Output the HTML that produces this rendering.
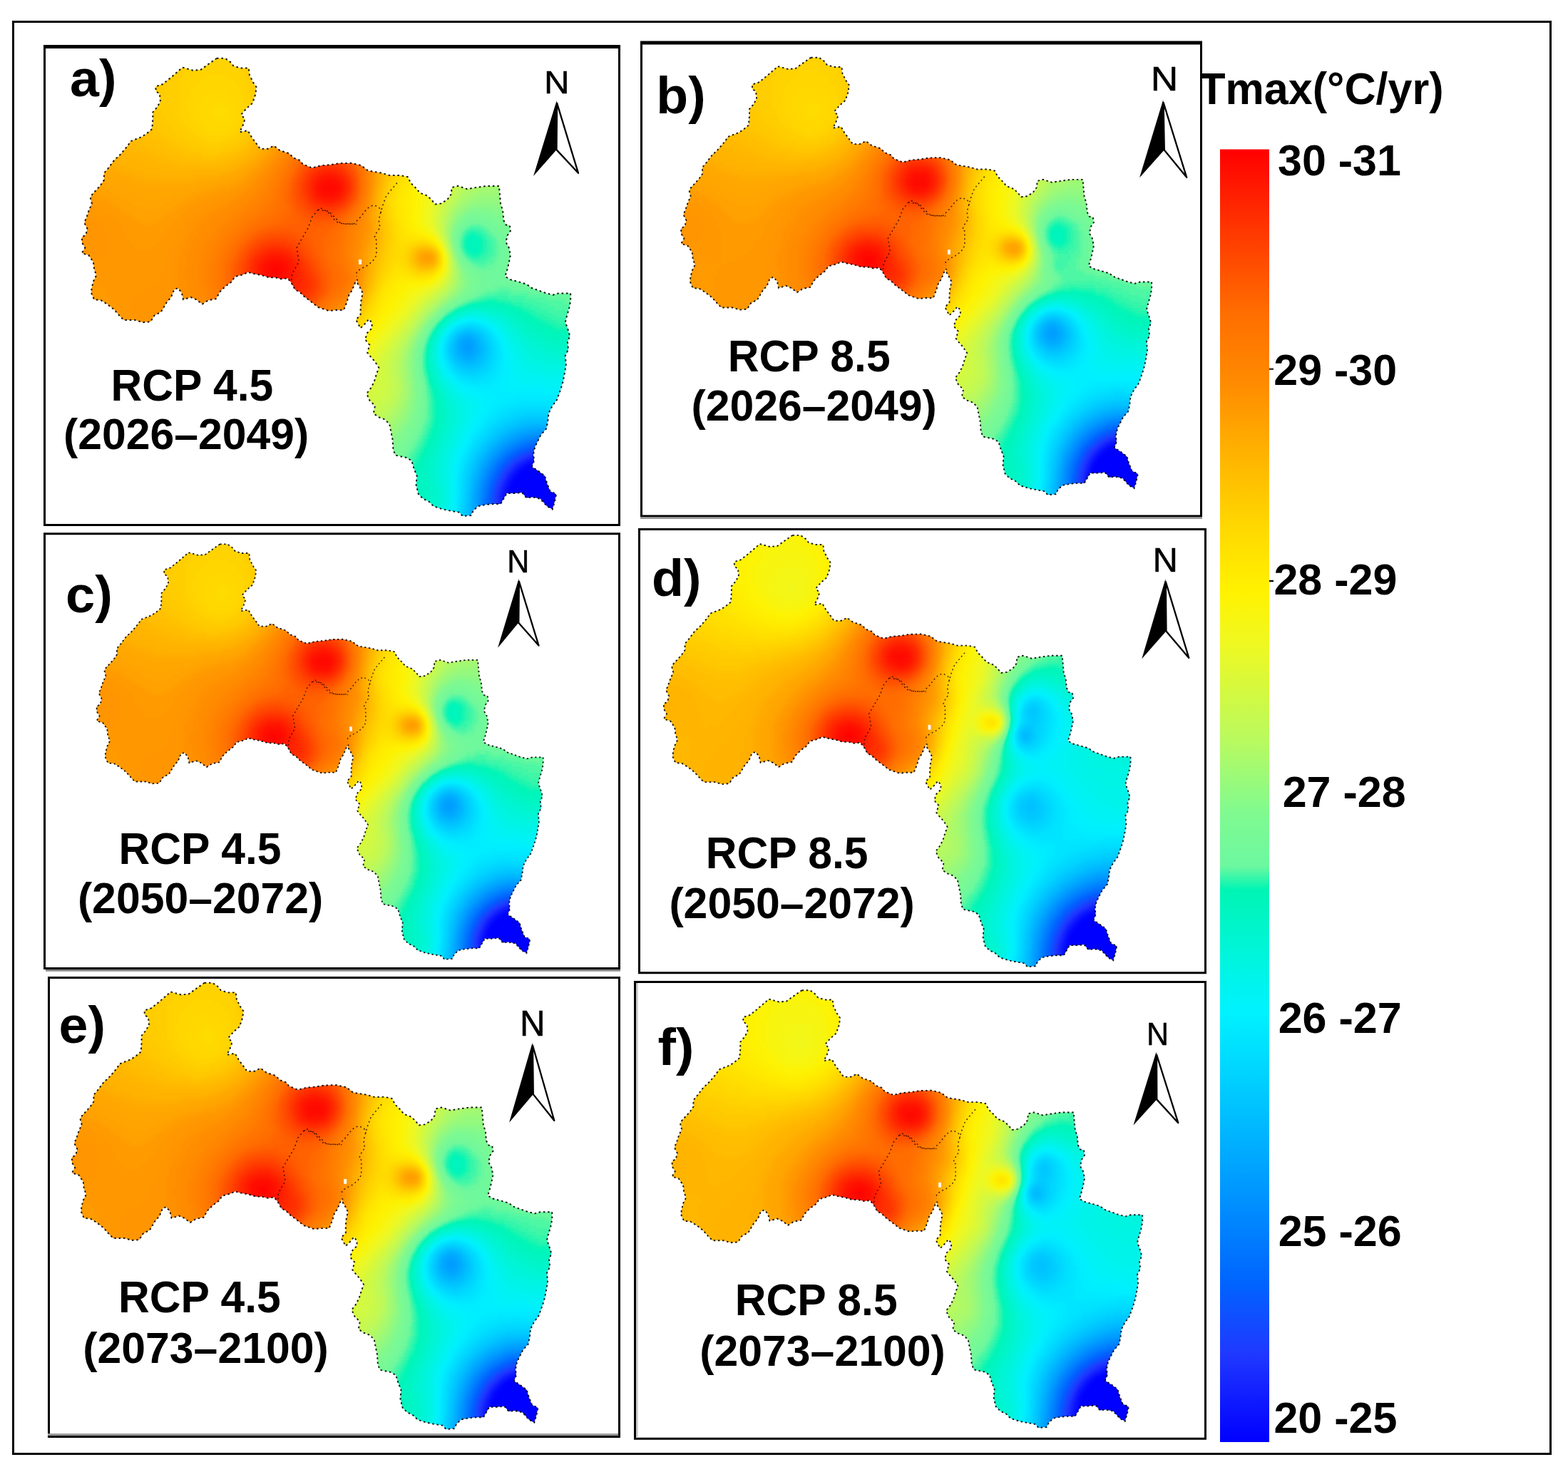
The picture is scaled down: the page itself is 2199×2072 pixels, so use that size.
<!DOCTYPE html>
<html lang="en">
<head>
<meta charset="utf-8">
<title>Tmax projections RCP 4.5 / RCP 8.5</title>
<style>
html,body{margin:0;padding:0;background:#fff;}
body{width:2199px;height:2072px;overflow:hidden;}
svg{display:block;font-family:'Liberation Sans', Arial, Helvetica, sans-serif;}
</style>
</head>
<body>
<svg xmlns="http://www.w3.org/2000/svg" width="2199" height="2072" viewBox="0 0 2199 2072">
<defs>
<clipPath id="mapclip"><path d="M304.0 81.7 L315.7 81.7 L323.2 87.1 L327.4 92.4 L337.1 95.6 L348.8 95.6 L349.9 105.2 L355.2 115.9 L359.5 122.3 L358.4 131.9 L354.1 144.7 L345.6 152.2 L338.1 160.8 L343.5 167.2 L340.3 176.8 L336.0 185.3 L347.7 183.2 L353.1 192.8 L359.5 201.3 L364.8 208.8 L375.5 208.8 L384.0 204.5 L392.6 211.0 L405.4 215.2 L411.8 221.6 L420.3 224.8 L424.6 230.2 L437.4 235.5 L450.2 232.3 L463.1 231.2 L475.9 229.1 L492.7 228.8 L506.6 232.0 L516.2 239.5 L535.4 242.7 L546.1 245.9 L561.1 245.9 L571.7 248.1 L576.0 256.6 L583.5 264.1 L588.8 270.5 L599.5 274.7 L605.9 281.2 L610.2 286.5 L618.7 285.4 L627.3 280.1 L632.6 272.6 L633.7 263.0 L642.2 260.9 L655.0 265.1 L667.8 263.0 L682.8 260.9 L699.9 260.9 L700.9 272.6 L702.0 285.4 L705.2 296.1 L706.3 308.9 L709.5 315.3 L714.8 316.4 L715.9 323.9 L711.6 330.3 L709.5 339.9 L713.7 347.4 L715.9 358.0 L713.7 368.7 L711.6 377.3 L708.4 387.9 L715.9 392.2 L727.6 395.4 L738.3 398.6 L745.8 404.0 L757.5 408.2 L766.1 411.4 L775.7 413.6 L783.2 411.4 L800.2 411.4 L800.2 422.1 L798.1 432.8 L794.9 443.5 L792.8 452.0 L796.0 460.5 L799.2 471.2 L796.0 479.8 L797.0 490.4 L792.8 499.0 L793.8 511.8 L791.7 524.6 L789.6 535.3 L786.4 546.0 L781.0 560.9 L774.6 569.5 L769.3 580.1 L769.4 580.0 L768.3 590.6 L766.2 601.3 L758.7 609.9 L754.4 618.4 L750.2 627.0 L748.0 637.6 L749.1 646.2 L745.9 654.7 L755.5 661.1 L764.0 667.5 L767.2 678.2 L771.5 688.9 L780.1 693.2 L777.9 703.8 L774.7 714.5 L767.2 710.2 L757.6 699.6 L747.0 697.4 L738.4 698.5 L732.0 691.0 L721.3 692.1 L710.6 692.1 L706.4 699.6 L702.1 707.0 L691.4 707.0 L680.7 708.1 L670.1 710.2 L663.7 716.6 L660.5 723.1 L648.7 724.1 L644.4 718.8 L631.6 716.6 L621.0 714.5 L608.1 710.2 L601.7 703.8 L593.2 699.6 L586.8 693.2 L583.6 680.3 L584.6 667.5 L580.4 656.8 L577.2 646.2 L569.7 641.9 L554.7 638.7 L551.5 631.2 L550.5 616.3 L548.3 605.6 L546.2 594.9 L539.8 588.5 L531.3 585.3 L523.8 580.0 L525.9 569.3 L518.4 561.8 L514.2 552.2 L520.6 543.7 L524.8 535.1 L528.1 524.4 L531.3 515.9 L525.9 507.4 L518.4 498.8 L515.2 494.5 L518.4 483.9 L512.0 476.4 L515.2 466.8 L521.6 460.4 L521.6 452.9 L517.4 447.6 L512.0 454.0 L505.6 460.4 L499.2 448.6 L505.6 441.2 L505.6 430.5 L506.7 419.8 L508.8 411.3 L503.5 400.6 L500.3 396.3 L501.3 392.2 L498.1 396.5 L493.8 407.2 L489.5 413.6 L486.3 424.2 L482.0 434.9 L471.4 434.9 L460.7 436.0 L446.0 430.9 L435.3 422.4 L426.7 416.0 L420.3 409.6 L413.9 406.4 L408.6 396.7 L403.3 390.3 L394.7 391.4 L386.2 389.3 L377.6 389.3 L367.0 386.1 L355.2 383.9 L347.7 381.8 L341.3 385.0 L329.6 388.2 L324.2 395.7 L315.7 402.1 L308.2 409.6 L302.9 419.2 L292.2 421.3 L283.7 426.6 L275.1 420.2 L267.6 417.0 L257.0 420.2 L254.8 410.6 L249.5 404.2 L244.2 406.4 L239.9 417.0 L233.5 424.5 L226.0 437.3 L216.4 442.7 L211.1 451.2 L200.4 452.3 L189.7 449.1 L173.7 449.1 L168.3 443.7 L159.8 434.1 L150.2 426.6 L141.6 421.3 L132.0 420.2 L127.8 410.6 L128.8 403.2 L131.0 394.6 L135.2 386.1 L132.0 377.5 L131.0 367.9 L124.6 358.3 L114.9 355.1 L119.2 347.6 L114.9 340.2 L114.9 332.7 L120.3 329.5 L122.4 320.9 L118.2 312.4 L121.4 304.9 L124.6 295.3 L128.8 285.7 L126.7 277.2 L129.9 271.8 L135.2 266.5 L141.6 259.0 L145.9 252.6 L145.9 243.0 L151.3 236.6 L160.9 223.8 L166.2 219.5 L173.7 211.0 L179.0 204.5 L183.3 198.1 L199.3 191.7 L206.8 186.4 L213.2 181.1 L214.3 168.2 L214.3 157.6 L219.6 151.2 L224.9 142.6 L223.9 131.9 L218.5 127.7 L218.5 121.3 L228.1 118.1 L238.8 109.5 L247.4 102.0 L255.9 94.6 L270.8 98.8 L281.5 97.8 L293.3 89.2 Z"/></clipPath>
<g id="mapline" fill="none" stroke="#000">
<path d="M304.0 81.7 L315.7 81.7 L323.2 87.1 L327.4 92.4 L337.1 95.6 L348.8 95.6 L349.9 105.2 L355.2 115.9 L359.5 122.3 L358.4 131.9 L354.1 144.7 L345.6 152.2 L338.1 160.8 L343.5 167.2 L340.3 176.8 L336.0 185.3 L347.7 183.2 L353.1 192.8 L359.5 201.3 L364.8 208.8 L375.5 208.8 L384.0 204.5 L392.6 211.0 L405.4 215.2 L411.8 221.6 L420.3 224.8 L424.6 230.2 L437.4 235.5 L450.2 232.3 L463.1 231.2 L475.9 229.1 L492.7 228.8 L506.6 232.0 L516.2 239.5 L535.4 242.7 L546.1 245.9 L561.1 245.9 L571.7 248.1 L576.0 256.6 L583.5 264.1 L588.8 270.5 L599.5 274.7 L605.9 281.2 L610.2 286.5 L618.7 285.4 L627.3 280.1 L632.6 272.6 L633.7 263.0 L642.2 260.9 L655.0 265.1 L667.8 263.0 L682.8 260.9 L699.9 260.9 L700.9 272.6 L702.0 285.4 L705.2 296.1 L706.3 308.9 L709.5 315.3 L714.8 316.4 L715.9 323.9 L711.6 330.3 L709.5 339.9 L713.7 347.4 L715.9 358.0 L713.7 368.7 L711.6 377.3 L708.4 387.9 L715.9 392.2 L727.6 395.4 L738.3 398.6 L745.8 404.0 L757.5 408.2 L766.1 411.4 L775.7 413.6 L783.2 411.4 L800.2 411.4 L800.2 422.1 L798.1 432.8 L794.9 443.5 L792.8 452.0 L796.0 460.5 L799.2 471.2 L796.0 479.8 L797.0 490.4 L792.8 499.0 L793.8 511.8 L791.7 524.6 L789.6 535.3 L786.4 546.0 L781.0 560.9 L774.6 569.5 L769.3 580.1 L769.4 580.0 L768.3 590.6 L766.2 601.3 L758.7 609.9 L754.4 618.4 L750.2 627.0 L748.0 637.6 L749.1 646.2 L745.9 654.7 L755.5 661.1 L764.0 667.5 L767.2 678.2 L771.5 688.9 L780.1 693.2 L777.9 703.8 L774.7 714.5 L767.2 710.2 L757.6 699.6 L747.0 697.4 L738.4 698.5 L732.0 691.0 L721.3 692.1 L710.6 692.1 L706.4 699.6 L702.1 707.0 L691.4 707.0 L680.7 708.1 L670.1 710.2 L663.7 716.6 L660.5 723.1 L648.7 724.1 L644.4 718.8 L631.6 716.6 L621.0 714.5 L608.1 710.2 L601.7 703.8 L593.2 699.6 L586.8 693.2 L583.6 680.3 L584.6 667.5 L580.4 656.8 L577.2 646.2 L569.7 641.9 L554.7 638.7 L551.5 631.2 L550.5 616.3 L548.3 605.6 L546.2 594.9 L539.8 588.5 L531.3 585.3 L523.8 580.0 L525.9 569.3 L518.4 561.8 L514.2 552.2 L520.6 543.7 L524.8 535.1 L528.1 524.4 L531.3 515.9 L525.9 507.4 L518.4 498.8 L515.2 494.5 L518.4 483.9 L512.0 476.4 L515.2 466.8 L521.6 460.4 L521.6 452.9 L517.4 447.6 L512.0 454.0 L505.6 460.4 L499.2 448.6 L505.6 441.2 L505.6 430.5 L506.7 419.8 L508.8 411.3 L503.5 400.6 L500.3 396.3 L501.3 392.2 L498.1 396.5 L493.8 407.2 L489.5 413.6 L486.3 424.2 L482.0 434.9 L471.4 434.9 L460.7 436.0 L446.0 430.9 L435.3 422.4 L426.7 416.0 L420.3 409.6 L413.9 406.4 L408.6 396.7 L403.3 390.3 L394.7 391.4 L386.2 389.3 L377.6 389.3 L367.0 386.1 L355.2 383.9 L347.7 381.8 L341.3 385.0 L329.6 388.2 L324.2 395.7 L315.7 402.1 L308.2 409.6 L302.9 419.2 L292.2 421.3 L283.7 426.6 L275.1 420.2 L267.6 417.0 L257.0 420.2 L254.8 410.6 L249.5 404.2 L244.2 406.4 L239.9 417.0 L233.5 424.5 L226.0 437.3 L216.4 442.7 L211.1 451.2 L200.4 452.3 L189.7 449.1 L173.7 449.1 L168.3 443.7 L159.8 434.1 L150.2 426.6 L141.6 421.3 L132.0 420.2 L127.8 410.6 L128.8 403.2 L131.0 394.6 L135.2 386.1 L132.0 377.5 L131.0 367.9 L124.6 358.3 L114.9 355.1 L119.2 347.6 L114.9 340.2 L114.9 332.7 L120.3 329.5 L122.4 320.9 L118.2 312.4 L121.4 304.9 L124.6 295.3 L128.8 285.7 L126.7 277.2 L129.9 271.8 L135.2 266.5 L141.6 259.0 L145.9 252.6 L145.9 243.0 L151.3 236.6 L160.9 223.8 L166.2 219.5 L173.7 211.0 L179.0 204.5 L183.3 198.1 L199.3 191.7 L206.8 186.4 L213.2 181.1 L214.3 168.2 L214.3 157.6 L219.6 151.2 L224.9 142.6 L223.9 131.9 L218.5 127.7 L218.5 121.3 L228.1 118.1 L238.8 109.5 L247.4 102.0 L255.9 94.6 L270.8 98.8 L281.5 97.8 L293.3 89.2 Z" stroke-width="2" stroke-dasharray="2.6 3.8" stroke-opacity=".9"/>
<rect x="503" y="364" width="4" height="7" fill="#fff" stroke="none"/>
<g stroke-width="1.5" stroke-dasharray="2 4" stroke="#200" stroke-opacity=".85"><path d="M556.8 256.6 L550.4 264.1 L541.8 274.7 L537.6 285.4 L534.4 296.1 L532.2 304.6 L531.2 313.2 L533.3 318.5 L526.9 328.1 L524.7 334.5 L527.9 336.7 L527.9 358.0 L522.6 366.6 L514.1 373.0 L505.5 377.3 L500.2 381.5 L500.2 387.9"/><path d="M446.0 294.2 L437.4 304.9 L432.1 319.9 L424.6 332.7 L416.1 347.6 L419.3 366.8 L409.7 383.9 L408.6 396.7"/><path d="M446.0 294.2 L460.9 296.4 L471.6 307.1 L478.0 313.5 L500.0 314.5"/><path d="M450.0 291.8 L460.7 298.2 L471.4 311.1 L482.0 314.3 L495.9 314.3 L505.5 304.6 L511.9 296.1 L518.3 289.7 L524.7 287.6 L532.2 291.8 L534.4 298.2"/></g>
</g>
<filter id="ramp" filterUnits="userSpaceOnUse" x="90" y="60" width="740" height="690" color-interpolation-filters="sRGB"><feGaussianBlur stdDeviation="3.5"/><feComponentTransfer><feFuncR type="table" tableValues="0.000 0.029 0.058 0.087 0.116 0.102 0.066 0.031 0.000 0.000 0.000 0.000 0.000 0.000 0.000 0.000 0.000 0.000 0.000 0.000 0.000 0.000 0.000 0.000 0.000 0.000 0.000 0.000 0.236 0.438 0.468 0.497 0.554 0.616 0.679 0.735 0.780 0.824 0.869 0.913 0.950 0.974 0.998 1.000 1.000 1.000 1.000 1.000 1.000 1.000 1.000 1.000 1.000 1.000 1.000 1.000 1.000 1.000 1.000 1.000 1.000 1.000 1.000 1.000 1.000"/><feFuncG type="table" tableValues="0.000 0.051 0.101 0.152 0.202 0.252 0.301 0.350 0.398 0.441 0.485 0.528 0.571 0.614 0.655 0.697 0.739 0.779 0.819 0.859 0.898 0.938 0.952 0.956 0.960 0.961 0.961 0.961 0.967 0.974 0.977 0.980 0.980 0.980 0.980 0.980 0.978 0.977 0.975 0.974 0.969 0.960 0.950 0.920 0.888 0.856 0.818 0.778 0.738 0.697 0.653 0.608 0.564 0.527 0.494 0.460 0.424 0.372 0.319 0.267 0.214 0.160 0.106 0.053 0.000"/><feFuncB type="table" tableValues="1.000 1.000 1.000 1.000 1.000 1.000 1.000 1.000 1.000 1.000 1.000 1.000 1.000 1.000 1.000 1.000 1.000 1.000 1.000 1.000 1.000 1.000 0.965 0.916 0.868 0.819 0.771 0.723 0.662 0.616 0.592 0.569 0.520 0.467 0.413 0.361 0.310 0.259 0.208 0.158 0.107 0.056 0.005 0.000 0.000 0.000 0.000 0.000 0.000 0.000 0.000 0.000 0.000 0.000 0.000 0.000 0.000 0.000 0.000 0.000 0.000 0.000 0.000 0.000 0.000"/><feFuncA type="linear" slope="0" intercept="1"/></feComponentTransfer></filter>
<g id="fld0" fill="none" stroke-width="5.8" stroke-linecap="square"><path stroke="#000000" d="M755 647.5h10M740 652.5h30M730 657.5h45M725 662.5h55M720 667.5h60M715 672.5h65M715 677.5h70M710 682.5h85M710 687.5h85M710 692.5h85M710 697.5h85M705 702.5h90M705 707.5h15M725 707.5h70M710 712.5h10M745 712.5h45M710 717.5h5M750 717.5h40M755 722.5h35"/><path stroke="#010101" d="M750 647.5h5M735 652.5h5M705 697.5h5M705 712.5h5"/><path stroke="#030303" d="M745 647.5h5M725 657.5h5M720 662.5h5M715 667.5h5M710 677.5h5M705 692.5h5M705 717.5h5"/><path stroke="#040404" d="M740 647.5h5M730 652.5h5M705 687.5h5"/><path stroke="#050505" d="M710 672.5h5M705 682.5h5"/><path stroke="#060606" d="M750 642.5h10M735 647.5h5M720 657.5h5M700 697.5h5M700 702.5h5M700 707.5h5M700 712.5h5"/><path stroke="#080808" d="M725 652.5h5M715 662.5h5M710 667.5h5M705 677.5h5M700 692.5h5M700 717.5h5"/><path stroke="#090909" d="M745 642.5h5M700 687.5h5"/><path stroke="#0a0a0a" d="M740 642.5h5M730 647.5h5M705 672.5h5"/><path stroke="#0b0b0b" d="M760 637.5h5M720 652.5h5M715 657.5h5M710 662.5h5M700 682.5h5"/><path stroke="#0d0d0d" d="M755 637.5h5M735 642.5h5M725 647.5h5M695 697.5h5M695 702.5h5M695 707.5h5M695 712.5h5M695 717.5h5"/><path stroke="#0e0e0e" d="M750 637.5h5M705 667.5h5M700 677.5h5M695 692.5h5"/><path stroke="#0f0f0f" d="M745 637.5h5M730 642.5h5M695 687.5h5"/><path stroke="#111111" d="M740 637.5h5M720 647.5h5M715 652.5h5M710 657.5h5M705 662.5h5M700 672.5h5M695 682.5h5"/><path stroke="#131313" d="M755 632.5h10M735 637.5h5M725 642.5h5M700 667.5h5M695 677.5h5M690 697.5h5M690 702.5h5M690 707.5h5M690 712.5h5M690 717.5h5"/><path stroke="#141414" d="M750 632.5h5M715 647.5h5M710 652.5h5M705 657.5h5M690 692.5h5"/><path stroke="#161616" d="M745 632.5h5M730 637.5h5M720 642.5h5M695 672.5h5M690 687.5h5"/><path stroke="#171717" d="M740 632.5h5M700 662.5h5M690 682.5h5"/><path stroke="#181818" d="M725 637.5h5M695 667.5h5M685 707.5h5M685 712.5h5"/><path stroke="#1a1a1a" d="M755 627.5h15M735 632.5h5M715 642.5h5M710 647.5h5M705 652.5h5M700 657.5h5M690 677.5h5M685 697.5h5M685 702.5h5M685 717.5h5"/><path stroke="#1b1b1b" d="M750 627.5h5M730 632.5h5M685 692.5h5"/><path stroke="#1c1c1c" d="M745 627.5h5M720 637.5h5M695 662.5h5M690 672.5h5M685 687.5h5"/><path stroke="#1d1d1d" d="M740 627.5h5M725 632.5h5M710 642.5h5M705 647.5h5M700 652.5h5M685 682.5h5"/><path stroke="#1f1f1f" d="M735 627.5h5M715 637.5h5M695 657.5h5M690 667.5h5M685 677.5h5M680 707.5h5M680 712.5h5M680 717.5h5"/><path stroke="#202020" d="M755 622.5h15M680 697.5h5M680 702.5h5M680 722.5h5"/><path stroke="#212121" d="M745 622.5h10M730 627.5h5M720 632.5h5M705 642.5h5M700 647.5h5M690 662.5h5M685 672.5h5M680 692.5h5"/><path stroke="#222222" d="M740 622.5h5M710 637.5h5M695 652.5h5M680 687.5h5"/><path stroke="#242424" d="M725 627.5h5M715 632.5h5M690 657.5h5M685 667.5h5M680 682.5h5"/><path stroke="#252525" d="M735 622.5h5M680 677.5h5M675 702.5h5M675 707.5h5M675 712.5h5M675 717.5h5M675 722.5h5"/><path stroke="#262626" d="M750 617.5h25M730 622.5h5M720 627.5h5M705 637.5h5M700 642.5h5M695 647.5h5M685 662.5h5M675 697.5h5"/><path stroke="#282828" d="M745 617.5h5M710 632.5h5M690 652.5h5M680 672.5h5M675 687.5h5M675 692.5h5"/><path stroke="#292929" d="M740 617.5h5M725 622.5h5M715 627.5h5M685 657.5h5M680 667.5h5M675 682.5h5"/><path stroke="#2a2a2a" d="M735 617.5h5M705 632.5h5M700 637.5h5M695 642.5h5M690 647.5h5"/><path stroke="#2b2b2b" d="M760 612.5h20M730 617.5h5M720 622.5h5M710 627.5h5M680 662.5h5M675 677.5h5M670 702.5h5M670 707.5h5M670 712.5h5M670 717.5h5M670 722.5h5M670 727.5h5M670 732.5h5"/><path stroke="#2d2d2d" d="M750 612.5h10M685 652.5h5M675 672.5h5M670 692.5h5M670 697.5h5"/><path stroke="#2e2e2e" d="M740 612.5h10M725 617.5h5M715 622.5h5M700 632.5h5M695 637.5h5M690 642.5h5M680 657.5h5M670 687.5h5"/><path stroke="#2f2f2f" d="M735 612.5h5M705 627.5h5M685 647.5h5M675 667.5h5M670 682.5h5"/><path stroke="#303030" d="M730 612.5h5M720 617.5h5M710 622.5h5M680 652.5h5M675 662.5h5M670 677.5h5M665 712.5h5M665 717.5h5M665 722.5h5M665 727.5h5M665 732.5h5"/><path stroke="#323232" d="M750 607.5h30M715 617.5h5M700 627.5h5M695 632.5h5M690 637.5h5M685 642.5h5M670 672.5h5M665 702.5h5M665 707.5h5"/><path stroke="#333333" d="M650 487.5h10M740 607.5h10M725 612.5h5M705 622.5h5M680 647.5h5M675 657.5h5M665 692.5h5M665 697.5h5"/><path stroke="#343434" d="M650 482.5h15M645 487.5h5M660 487.5h5M650 492.5h10M735 607.5h5M720 612.5h5M710 617.5h5M670 667.5h5M665 687.5h5"/><path stroke="#363636" d="M650 477.5h10M645 482.5h5M645 492.5h5M660 492.5h5M655 497.5h5M730 607.5h5M700 622.5h5M695 627.5h5M690 632.5h5M685 637.5h5M675 652.5h5M670 662.5h5M665 677.5h5M665 682.5h5M660 727.5h5M660 732.5h5"/><path stroke="#373737" d="M645 477.5h5M660 477.5h5M665 482.5h5M665 487.5h5M665 492.5h5M650 497.5h5M660 497.5h5M745 602.5h35M725 607.5h5M715 612.5h5M705 617.5h5M680 642.5h5M660 707.5h5M660 712.5h5M660 717.5h5M660 722.5h5"/><path stroke="#383838" d="M655 472.5h5M640 482.5h5M640 487.5h5M640 492.5h5M645 497.5h5M740 602.5h5M720 607.5h5M710 612.5h5M690 627.5h5M685 632.5h5M675 647.5h5M670 657.5h5M665 672.5h5M660 697.5h5M660 702.5h5"/><path stroke="#393939" d="M650 472.5h5M660 472.5h5M640 477.5h5M665 477.5h5M670 487.5h5M665 497.5h5M650 502.5h15M730 602.5h10M700 617.5h5M695 622.5h5M680 637.5h5M670 652.5h5M665 667.5h5M660 687.5h5M660 692.5h5"/><path stroke="#3b3b3b" d="M645 472.5h5M670 482.5h5M670 492.5h5M640 497.5h5M645 502.5h5M665 502.5h5M760 597.5h5M725 602.5h5M715 607.5h5M705 612.5h5M675 642.5h5M665 662.5h5M660 682.5h5M655 732.5h5"/><path stroke="#3c3c3c" d="M665 472.5h5M670 477.5h5M635 482.5h5M635 487.5h5M635 492.5h5M670 497.5h5M650 507.5h10M740 597.5h20M765 597.5h15M710 607.5h5M695 617.5h5M690 622.5h5M685 627.5h5M680 632.5h5M670 647.5h5M665 657.5h5M660 677.5h5M655 717.5h5M655 722.5h5M655 727.5h5"/><path stroke="#3d3d3d" d="M650 467.5h15M640 472.5h5M675 487.5h5M675 492.5h5M635 497.5h5M640 502.5h5M670 502.5h5M645 507.5h5M660 507.5h5M735 597.5h5M720 602.5h5M700 612.5h5M675 637.5h5M660 672.5h5M655 702.5h5M655 707.5h5M655 712.5h5"/><path stroke="#3e3e3e" d="M645 467.5h5M670 472.5h5M635 477.5h5M675 482.5h5M675 497.5h5M665 507.5h5M725 597.5h10M715 602.5h5M705 607.5h5M690 617.5h5M685 622.5h5M680 627.5h5M670 642.5h5M665 652.5h5M660 667.5h5M655 692.5h5M655 697.5h5"/><path stroke="#404040" d="M665 467.5h5M675 477.5h5M635 502.5h5M675 502.5h5M640 507.5h5M670 507.5h5M650 512.5h15M740 592.5h40M720 597.5h5M710 602.5h5M695 612.5h5M675 632.5h5M665 647.5h5M660 662.5h5M655 682.5h5M655 687.5h5M650 732.5h5"/><path stroke="#414141" d="M635 472.5h5M630 482.5h5M630 487.5h5M680 487.5h5M630 492.5h5M680 492.5h5M645 512.5h5M665 512.5h5M730 592.5h10M715 597.5h5M705 602.5h5M700 607.5h5M670 637.5h5M660 657.5h5M655 672.5h5M655 677.5h5M650 717.5h5M650 722.5h5M650 727.5h5"/><path stroke="#424242" d="M650 462.5h10M640 467.5h5M670 467.5h5M675 472.5h5M680 482.5h5M630 497.5h5M680 497.5h5M635 507.5h5M675 507.5h5M670 512.5h5M725 592.5h5M695 607.5h5M690 612.5h5M685 617.5h5M680 622.5h5M675 627.5h5M665 642.5h5M660 652.5h5M655 667.5h5M650 707.5h5M650 712.5h5"/><path stroke="#444444" d="M660 462.5h5M630 477.5h5M680 477.5h5M630 502.5h5M680 502.5h5M640 512.5h5M650 517.5h20M740 587.5h45M720 592.5h5M710 597.5h5M700 602.5h5M670 632.5h5M660 647.5h5M655 662.5h5M650 692.5h5M650 697.5h5M650 702.5h5"/><path stroke="#454545" d="M645 462.5h5M665 462.5h5M675 467.5h5M685 487.5h5M685 492.5h5M685 497.5h5M680 507.5h5M675 512.5h5M645 517.5h5M670 517.5h5M730 587.5h10M715 592.5h5M705 597.5h5M695 602.5h5M690 607.5h5M685 612.5h5M680 617.5h5M675 622.5h5M670 627.5h5M665 637.5h5M655 657.5h5M650 682.5h5M650 687.5h5M645 732.5h5"/><path stroke="#464646" d="M670 462.5h5M635 467.5h5M630 472.5h5M680 472.5h5M685 482.5h5M625 487.5h5M625 492.5h5M685 502.5h5M630 507.5h5M635 512.5h5M640 517.5h5M655 522.5h10M750 582.5h10M720 587.5h10M710 592.5h5M700 597.5h5M665 632.5h5M660 642.5h5M655 652.5h5M650 672.5h5M650 677.5h5M645 717.5h5M645 722.5h5M645 727.5h5"/><path stroke="#474747" d="M640 462.5h5M685 477.5h5M625 482.5h5M625 497.5h5M685 507.5h5M680 512.5h5M675 517.5h5M650 522.5h5M665 522.5h5M730 582.5h20M760 582.5h25M715 587.5h5M705 592.5h5M695 597.5h5M690 602.5h5M685 607.5h5M680 612.5h5M675 617.5h5M670 622.5h5M660 637.5h5M655 647.5h5M650 667.5h5M645 707.5h5M645 712.5h5"/><path stroke="#494949" d="M650 457.5h15M680 467.5h5M625 477.5h5M690 487.5h5M690 492.5h5M690 497.5h5M625 502.5h5M685 512.5h5M635 517.5h5M680 517.5h5M645 522.5h5M670 522.5h5M720 582.5h10M710 587.5h5M700 592.5h5M680 607.5h5M665 627.5h5M650 657.5h5M650 662.5h5M645 692.5h5M645 697.5h5M645 702.5h5"/><path stroke="#4a4a4a" d="M665 457.5h5M675 462.5h5M630 467.5h5M685 472.5h5M690 482.5h5M690 502.5h5M690 507.5h5M630 512.5h5M640 522.5h5M675 522.5h5M655 527.5h15M730 577.5h60M715 582.5h5M705 587.5h5M695 592.5h5M690 597.5h5M685 602.5h5M675 612.5h5M670 617.5h5M665 622.5h5M660 632.5h5M655 642.5h5M650 652.5h5M645 677.5h5M645 682.5h5M645 687.5h5M640 727.5h5M640 732.5h5"/><path stroke="#4b4b4b" d="M645 457.5h5M670 457.5h5M635 462.5h5M690 477.5h5M625 507.5h5M690 512.5h5M685 517.5h5M680 522.5h5M645 527.5h10M670 527.5h10M720 577.5h10M710 582.5h5M700 587.5h5M685 597.5h5M680 602.5h5M675 607.5h5M670 612.5h5M660 627.5h5M655 637.5h5M650 647.5h5M645 667.5h5M645 672.5h5M640 717.5h5M640 722.5h5"/><path stroke="#4c4c4c" d="M680 462.5h5M685 467.5h5M625 472.5h5M690 472.5h5M620 487.5h5M695 487.5h5M620 492.5h5M695 492.5h5M620 497.5h5M695 497.5h5M695 502.5h5M630 517.5h5M690 517.5h5M635 522.5h5M685 522.5h5M680 527.5h5M655 532.5h15M725 572.5h70M710 577.5h10M700 582.5h10M695 587.5h5M690 592.5h5M665 617.5h5M655 632.5h5M650 642.5h5M645 657.5h5M645 662.5h5M640 707.5h5M640 712.5h5"/><path stroke="#4e4e4e" d="M640 457.5h5M675 457.5h5M620 482.5h5M695 482.5h5M620 502.5h5M695 507.5h5M625 512.5h5M695 512.5h5M690 522.5h5M640 527.5h5M685 527.5h5M650 532.5h5M670 532.5h10M740 567.5h20M715 572.5h10M705 577.5h5M695 582.5h5M690 587.5h5M685 592.5h5M680 597.5h5M675 602.5h5M670 607.5h5M665 612.5h5M660 622.5h5M655 627.5h5M650 637.5h5M645 652.5h5M640 687.5h5M640 692.5h5M640 697.5h5M640 702.5h5M635 732.5h5"/><path stroke="#4f4f4f" d="M655 452.5h10M630 462.5h5M685 462.5h5M690 467.5h5M620 477.5h5M695 477.5h5M700 492.5h5M700 497.5h5M700 502.5h5M695 517.5h5M630 522.5h5M690 527.5h5M645 532.5h5M680 532.5h10M660 537.5h15M720 567.5h20M760 567.5h35M705 572.5h10M695 577.5h10M690 582.5h5M685 587.5h5M680 592.5h5M675 597.5h5M670 602.5h5M660 617.5h5M645 647.5h5M640 667.5h5M640 672.5h5M640 677.5h5M640 682.5h5M635 722.5h5M635 727.5h5"/><path stroke="#505050" d="M650 452.5h5M665 452.5h5M635 457.5h5M680 457.5h5M625 467.5h5M695 472.5h5M700 482.5h5M700 487.5h5M620 507.5h5M700 507.5h5M700 512.5h5M625 517.5h5M700 517.5h5M695 522.5h5M635 527.5h5M695 527.5h5M640 532.5h5M690 532.5h5M650 537.5h10M675 537.5h15M720 562.5h75M705 567.5h15M695 572.5h10M690 577.5h5M685 582.5h5M680 587.5h5M675 592.5h5M665 607.5h5M660 612.5h5M655 622.5h5M650 632.5h5M645 642.5h5M640 657.5h5M640 662.5h5M635 717.5h5"/><path stroke="#525252" d="M645 452.5h5M670 452.5h5M620 472.5h5M700 477.5h5M705 497.5h5M705 502.5h5M705 507.5h5M620 512.5h5M700 522.5h5M700 527.5h5M695 532.5h5M645 537.5h5M690 537.5h5M660 542.5h30M720 557.5h80M700 562.5h20M695 567.5h10M690 572.5h5M685 577.5h5M680 582.5h5M675 587.5h5M670 597.5h5M665 602.5h5M655 617.5h5M650 627.5h5M645 637.5h5M640 652.5h5M635 702.5h5M635 707.5h5M635 712.5h5"/><path stroke="#535353" d="M675 452.5h5M685 457.5h5M690 462.5h5M695 467.5h5M615 487.5h5M705 487.5h5M615 492.5h5M705 492.5h5M615 497.5h5M705 512.5h5M705 517.5h5M625 522.5h5M705 522.5h5M630 527.5h5M705 527.5h5M635 532.5h5M700 532.5h5M640 537.5h5M695 537.5h10M650 542.5h10M690 542.5h15M665 547.5h40M680 552.5h90M690 557.5h30M690 562.5h10M685 567.5h10M685 572.5h5M680 577.5h5M675 582.5h5M670 592.5h5M665 597.5h5M660 607.5h5M655 612.5h5M650 622.5h5M645 632.5h5M640 642.5h5M640 647.5h5M635 667.5h5M635 672.5h5M635 677.5h5M635 682.5h5M635 687.5h5M635 692.5h5M635 697.5h5M630 727.5h5"/><path stroke="#545454" d="M640 452.5h5M700 472.5h5M615 482.5h5M705 482.5h5M710 497.5h5M615 502.5h5M710 502.5h5M710 507.5h5M710 512.5h5M620 517.5h5M710 517.5h5M710 522.5h5M710 527.5h5M705 532.5h10M705 537.5h10M645 542.5h5M705 542.5h15M655 547.5h10M705 547.5h60M665 552.5h15M770 552.5h30M675 557.5h15M675 562.5h15M675 567.5h10M675 572.5h10M675 577.5h5M670 582.5h5M670 587.5h5M665 592.5h5M660 602.5h5M655 607.5h5M650 617.5h5M645 627.5h5M640 637.5h5M635 652.5h5M635 657.5h5M635 662.5h5M630 717.5h5M630 722.5h5"/><path stroke="#555555" d="M655 447.5h15M680 452.5h5M630 457.5h5M690 457.5h5M625 462.5h5M695 462.5h5M620 467.5h5M700 467.5h5M615 477.5h5M705 477.5h5M710 487.5h5M710 492.5h5M615 507.5h5M715 512.5h5M715 517.5h5M715 522.5h5M625 527.5h5M715 527.5h5M630 532.5h5M715 532.5h10M635 537.5h5M715 537.5h15M640 542.5h5M720 542.5h45M650 547.5h5M765 547.5h35M655 552.5h10M665 557.5h10M670 562.5h5M670 567.5h5M670 572.5h5M670 577.5h5M665 582.5h5M665 587.5h5M660 592.5h5M660 597.5h5M655 602.5h5M650 612.5h5M645 622.5h5M640 632.5h5M635 647.5h5M630 712.5h5"/><path stroke="#575757" d="M650 447.5h5M670 447.5h5M635 452.5h5M685 452.5h5M705 472.5h5M710 482.5h5M715 497.5h5M715 502.5h5M715 507.5h5M615 512.5h5M720 517.5h5M620 522.5h5M720 522.5h5M720 527.5h10M725 532.5h10M730 537.5h35M765 542.5h40M645 547.5h5M650 552.5h5M655 557.5h10M660 562.5h10M665 567.5h5M665 572.5h5M665 577.5h5M660 587.5h5M655 597.5h5M650 607.5h5M645 617.5h5M640 627.5h5M635 637.5h5M635 642.5h5M630 657.5h5M630 662.5h5M630 667.5h5M630 672.5h5M630 677.5h5M630 682.5h5M630 687.5h5M630 692.5h5M630 697.5h5M630 702.5h5M630 707.5h5M625 722.5h5M625 727.5h5"/><path stroke="#585858" d="M645 447.5h5M675 447.5h5M695 457.5h5M700 462.5h5M710 477.5h5M715 487.5h5M610 492.5h5M715 492.5h5M720 502.5h5M720 507.5h5M720 512.5h5M725 517.5h5M725 522.5h10M730 527.5h10M625 532.5h5M735 532.5h30M630 537.5h5M765 537.5h40M635 542.5h5M640 547.5h5M645 552.5h5M650 557.5h5M655 562.5h5M660 567.5h5M660 572.5h5M660 577.5h5M660 582.5h5M655 587.5h5M655 592.5h5M650 602.5h5M645 612.5h5M640 622.5h5M635 632.5h5M630 647.5h5M630 652.5h5M625 717.5h5"/><path stroke="#595959" d="M680 447.5h5M690 452.5h5M705 467.5h5M615 472.5h5M710 472.5h5M715 482.5h5M610 487.5h5M720 492.5h5M610 497.5h5M720 497.5h5M610 502.5h5M725 502.5h5M725 507.5h5M725 512.5h10M615 517.5h5M730 517.5h5M735 522.5h10M620 527.5h5M740 527.5h25M765 532.5h40M635 547.5h5M640 552.5h5M645 557.5h5M650 562.5h5M655 567.5h5M655 572.5h5M655 577.5h5M655 582.5h5M650 592.5h5M650 597.5h5M645 607.5h5M640 617.5h5M635 627.5h5M630 637.5h5M630 642.5h5M625 712.5h5M620 727.5h5"/><path stroke="#5b5b5b" d="M640 447.5h5M625 457.5h5M700 457.5h5M620 462.5h5M705 462.5h5M715 477.5h5M610 482.5h5M720 487.5h5M725 497.5h5M610 507.5h5M730 507.5h5M735 512.5h5M735 517.5h10M615 522.5h5M745 522.5h20M765 527.5h40M625 537.5h5M630 542.5h5M645 562.5h5M650 567.5h5M650 572.5h5M650 577.5h5M650 582.5h5M650 587.5h5M645 597.5h5M645 602.5h5M640 607.5h5M640 612.5h5M635 622.5h5M630 632.5h5M625 647.5h5M625 652.5h5M625 657.5h5M625 662.5h5M625 667.5h5M625 672.5h5M625 677.5h5M625 682.5h5M625 687.5h5M625 692.5h5M625 697.5h5M625 702.5h5M625 707.5h5M620 722.5h5"/><path stroke="#5c5c5c" d="M655 442.5h20M685 447.5h5M630 452.5h5M695 452.5h5M615 467.5h5M710 467.5h5M715 472.5h5M610 477.5h5M720 482.5h5M725 487.5h5M725 492.5h5M730 497.5h5M730 502.5h5M735 507.5h5M610 512.5h5M740 512.5h10M745 517.5h20M765 522.5h35M620 532.5h5M630 547.5h5M635 552.5h5M640 557.5h5M640 562.5h5M645 567.5h5M645 572.5h5M645 577.5h5M645 582.5h5M645 587.5h5M645 592.5h5M640 602.5h5M635 612.5h5M635 617.5h5M630 627.5h5M625 637.5h5M625 642.5h5M620 717.5h5M615 727.5h5"/><path stroke="#5d5d5d" d="M650 442.5h5M675 442.5h5M690 447.5h5M705 457.5h5M710 462.5h5M715 467.5h5M720 477.5h5M725 482.5h5M730 492.5h5M735 497.5h5M735 502.5h10M740 507.5h10M750 512.5h15M610 517.5h5M765 517.5h30M800 522.5h5M615 527.5h5M620 537.5h5M625 542.5h5M630 552.5h5M635 557.5h5M640 567.5h5M640 592.5h5M640 597.5h5M635 607.5h5M630 617.5h5M630 622.5h5M625 632.5h5M620 647.5h5M620 652.5h5M620 657.5h5M620 662.5h5M620 667.5h5M620 672.5h5M620 677.5h5M620 682.5h5M620 707.5h5M620 712.5h5M615 722.5h5"/><path stroke="#5e5e5e" d="M645 442.5h5M680 442.5h5M635 447.5h5M695 447.5h5M700 452.5h5M720 472.5h5M725 477.5h5M730 487.5h5M605 492.5h5M735 492.5h5M605 497.5h5M740 497.5h5M605 502.5h5M745 502.5h5M750 507.5h15M765 512.5h25M795 517.5h10M615 532.5h5M625 547.5h5M635 562.5h5M640 572.5h5M640 577.5h5M640 582.5h5M640 587.5h5M635 597.5h5M635 602.5h5M630 612.5h5M625 627.5h5M620 637.5h5M620 642.5h5M620 687.5h5M620 692.5h5M620 697.5h5M620 702.5h5M615 717.5h5"/><path stroke="#606060" d="M685 442.5h5M625 452.5h5M705 452.5h5M620 457.5h5M710 457.5h5M715 462.5h5M720 467.5h5M610 472.5h5M725 472.5h5M730 477.5h5M730 482.5h5M605 487.5h5M735 487.5h5M740 492.5h5M745 497.5h10M750 502.5h15M605 507.5h5M765 507.5h20M790 512.5h15M610 522.5h5M620 542.5h5M625 552.5h5M630 557.5h5M630 562.5h5M635 567.5h5M635 572.5h5M635 577.5h5M635 582.5h5M635 587.5h5M635 592.5h5M630 602.5h5M630 607.5h5M625 617.5h5M625 622.5h5M620 632.5h5M615 647.5h5M615 652.5h5M615 657.5h5M615 662.5h5M615 667.5h5M615 672.5h5M615 677.5h5M615 712.5h5M610 722.5h5"/><path stroke="#616161" d="M660 437.5h15M640 442.5h5M690 442.5h5M630 447.5h5M700 447.5h5M710 452.5h5M715 457.5h5M615 462.5h5M720 462.5h5M725 467.5h5M730 472.5h5M605 482.5h5M735 482.5h5M740 487.5h5M745 492.5h10M755 497.5h10M765 502.5h15M785 507.5h20M605 512.5h5M610 527.5h5M615 537.5h5M620 547.5h5M625 557.5h5M630 567.5h5M630 572.5h5M630 592.5h5M630 597.5h5M625 612.5h5M620 622.5h5M620 627.5h5M615 637.5h5M615 642.5h5M610 657.5h5M610 662.5h5M610 667.5h5M615 682.5h5M615 687.5h5M615 692.5h5M615 697.5h5M615 702.5h5M615 707.5h5M610 717.5h5"/><path stroke="#626262" d="M655 437.5h5M675 437.5h10M695 442.5h5M705 447.5h5M725 462.5h5M610 467.5h5M605 477.5h5M735 477.5h5M740 482.5h10M745 487.5h10M755 492.5h10M765 497.5h15M780 502.5h30M605 517.5h5M610 532.5h5M615 542.5h5M620 552.5h5M625 562.5h5M630 577.5h5M630 582.5h5M630 587.5h5M625 602.5h5M625 607.5h5M620 617.5h5M615 627.5h5M615 632.5h5M610 642.5h5M610 647.5h5M610 652.5h5M610 672.5h5M610 677.5h5M610 682.5h5M610 707.5h5M610 712.5h5M605 722.5h5"/><path stroke="#636363" d="M650 437.5h5M685 437.5h5M635 442.5h5M700 442.5h5M710 447.5h5M715 452.5h5M720 457.5h5M730 467.5h5M735 472.5h5M740 477.5h10M750 482.5h5M755 487.5h10M765 492.5h10M780 497.5h25M605 522.5h5M615 547.5h5M620 557.5h5M625 567.5h5M625 572.5h5M625 577.5h5M625 582.5h5M625 587.5h5M625 592.5h5M625 597.5h5M620 607.5h5M620 612.5h5M615 622.5h5M610 632.5h5M610 637.5h5M605 652.5h5M605 657.5h5M605 662.5h5M605 667.5h5M605 672.5h5M605 677.5h5M610 687.5h5M610 692.5h5M610 697.5h5M610 702.5h5M605 712.5h5M605 717.5h5M600 722.5h5"/><path stroke="#656565" d="M645 437.5h5M690 437.5h10M705 442.5h5M715 447.5h5M620 452.5h5M720 452.5h5M615 457.5h5M725 457.5h5M730 462.5h5M735 467.5h5M605 472.5h5M740 472.5h10M750 477.5h5M755 482.5h10M765 487.5h10M600 492.5h5M775 492.5h25M600 497.5h5M805 497.5h5M600 502.5h5M600 507.5h5M605 527.5h5M610 537.5h5M615 552.5h5M620 562.5h5M620 567.5h5M620 597.5h5M620 602.5h5M615 612.5h5M615 617.5h5M610 627.5h5M605 637.5h5M605 642.5h5M605 647.5h5M600 657.5h5M600 662.5h5M600 667.5h5M600 672.5h5M605 682.5h5M605 687.5h5M605 692.5h5M605 697.5h5M605 702.5h5M605 707.5h5M600 712.5h5M600 717.5h5M595 722.5h5"/><path stroke="#666666" d="M660 432.5h25M700 437.5h5M710 442.5h5M625 447.5h5M720 447.5h5M725 452.5h5M730 457.5h5M610 462.5h5M735 462.5h5M740 467.5h10M750 472.5h5M755 477.5h10M765 482.5h10M600 487.5h5M775 487.5h20M800 492.5h10M600 512.5h5M605 532.5h5M610 542.5h5M615 557.5h5M620 572.5h5M620 577.5h5M620 582.5h5M620 587.5h5M620 592.5h5M615 602.5h5M615 607.5h5M610 617.5h5M610 622.5h5M605 632.5h5M600 642.5h5M600 647.5h5M600 652.5h5M595 667.5h5M600 677.5h5M600 682.5h5M600 687.5h5M600 692.5h5M600 697.5h5M600 702.5h5M600 707.5h5M595 712.5h5M590 717.5h10"/><path stroke="#676767" d="M655 432.5h5M685 432.5h10M640 437.5h5M705 437.5h5M630 442.5h5M715 442.5h5M725 447.5h5M730 452.5h5M735 457.5h5M740 462.5h10M750 467.5h5M755 472.5h10M765 477.5h10M600 482.5h5M775 482.5h20M795 487.5h15M600 517.5h5M600 522.5h5M605 537.5h5M610 547.5h5M615 562.5h5M615 567.5h5M615 592.5h5M615 597.5h5M610 612.5h5M605 622.5h5M605 627.5h5M600 637.5h5M595 647.5h5M595 652.5h5M595 657.5h5M595 662.5h5M595 672.5h5M595 677.5h5M595 682.5h5M595 687.5h5M595 692.5h5M595 697.5h5M595 702.5h5M590 707.5h10M585 712.5h10"/><path stroke="#696969" d="M660 342.5h5M650 432.5h5M695 432.5h10M710 437.5h10M720 442.5h5M730 447.5h5M735 452.5h5M740 457.5h10M750 462.5h5M605 467.5h5M755 467.5h10M765 472.5h10M600 477.5h5M775 477.5h20M795 482.5h15M600 527.5h5M605 542.5h5M610 552.5h5M610 557.5h5M615 572.5h5M615 577.5h5M615 582.5h5M615 587.5h5M610 602.5h5M610 607.5h5M605 617.5h5M600 627.5h5M600 632.5h5M595 637.5h5M595 642.5h5M590 652.5h5M590 657.5h5M590 662.5h5M590 667.5h5M585 672.5h10M585 677.5h10M585 682.5h10M585 687.5h10M585 692.5h10M585 697.5h10M580 702.5h15M580 707.5h10"/><path stroke="#6a6a6a" d="M655 337.5h15M655 342.5h5M665 342.5h10M655 347.5h15M660 352.5h5M665 427.5h30M705 432.5h10M635 437.5h5M720 437.5h5M725 442.5h10M620 447.5h5M735 447.5h5M615 452.5h5M740 452.5h10M610 457.5h5M750 457.5h5M755 462.5h10M765 467.5h10M775 472.5h20M795 477.5h15M595 497.5h5M595 502.5h5M595 507.5h5M600 532.5h5M605 547.5h5M610 562.5h5M610 567.5h5M610 572.5h5M610 577.5h5M610 582.5h5M610 587.5h5M610 592.5h5M610 597.5h5M605 607.5h5M605 612.5h5M600 622.5h5M595 632.5h5M590 642.5h5M590 647.5h5M585 657.5h5M585 662.5h5M580 667.5h10M580 672.5h5M580 677.5h5M580 682.5h5M575 687.5h10M575 692.5h10M575 697.5h10M575 702.5h5M575 707.5h5"/><path stroke="#6b6b6b" d="M655 332.5h15M650 337.5h5M670 337.5h5M650 342.5h5M675 342.5h5M650 347.5h5M670 347.5h5M655 352.5h5M665 352.5h10M660 427.5h5M695 427.5h15M645 432.5h5M715 432.5h10M725 437.5h10M625 442.5h5M735 442.5h5M740 447.5h10M750 452.5h10M755 457.5h10M765 462.5h10M775 467.5h20M600 472.5h5M795 472.5h15M595 487.5h5M595 492.5h5M595 512.5h5M595 517.5h5M600 537.5h5M605 552.5h5M605 557.5h5M605 597.5h5M605 602.5h5M600 612.5h5M600 617.5h5M595 622.5h5M595 627.5h5M590 637.5h5M585 647.5h5M585 652.5h5M580 657.5h5M580 662.5h5M575 667.5h5M575 672.5h5M575 677.5h5M570 682.5h10M570 687.5h5M570 692.5h5M570 697.5h5"/><path stroke="#6c6c6c" d="M655 327.5h15M650 332.5h5M670 332.5h10M675 337.5h5M675 347.5h5M650 352.5h5M675 352.5h5M655 357.5h20M675 422.5h25M655 427.5h5M710 427.5h10M640 432.5h5M725 432.5h10M735 437.5h10M740 442.5h10M750 447.5h10M760 452.5h10M765 457.5h15M605 462.5h5M775 462.5h35M795 467.5h15M595 482.5h5M595 522.5h5M600 542.5h5M605 562.5h5M605 567.5h5M605 572.5h5M605 577.5h5M605 582.5h5M605 587.5h5M605 592.5h5M600 602.5h5M600 607.5h5M595 617.5h5M590 627.5h5M590 632.5h5M585 637.5h5M585 642.5h5M580 647.5h5M580 652.5h5M575 657.5h5M575 662.5h5M570 667.5h5M570 672.5h5M570 677.5h5"/><path stroke="#6e6e6e" d="M650 327.5h5M670 327.5h10M645 337.5h5M680 337.5h5M645 342.5h5M680 342.5h5M645 347.5h5M680 347.5h5M680 352.5h5M675 357.5h5M660 362.5h15M665 422.5h10M700 422.5h20M650 427.5h5M720 427.5h15M735 432.5h10M630 437.5h5M745 437.5h10M750 442.5h15M760 447.5h15M770 452.5h15M780 457.5h30M595 527.5h5M595 532.5h5M600 547.5h5M600 552.5h5M600 592.5h5M600 597.5h5M595 612.5h5M590 622.5h5M585 632.5h5M580 642.5h5M575 652.5h5M570 662.5h5"/><path stroke="#6f6f6f" d="M655 322.5h20M680 327.5h5M645 332.5h5M680 332.5h5M685 337.5h5M685 342.5h5M685 347.5h5M645 352.5h5M685 352.5h5M650 357.5h5M680 357.5h5M655 362.5h5M675 362.5h10M680 417.5h35M660 422.5h5M720 422.5h15M645 427.5h5M735 427.5h15M635 432.5h5M745 432.5h15M755 437.5h15M620 442.5h5M765 442.5h15M615 447.5h5M775 447.5h35M610 452.5h5M785 452.5h25M600 467.5h5M595 477.5h5M590 497.5h5M590 502.5h5M590 507.5h5M590 512.5h5M595 537.5h5M600 557.5h5M600 562.5h5M600 567.5h5M600 572.5h5M600 577.5h5M600 582.5h5M600 587.5h5M595 602.5h5M595 607.5h5M590 612.5h5M590 617.5h5M585 627.5h5M580 632.5h5M580 637.5h5M575 642.5h5M575 647.5h5M570 652.5h5M570 657.5h5M565 662.5h5"/><path stroke="#707070" d="M665 317.5h5M650 322.5h5M675 322.5h5M645 327.5h5M685 332.5h5M690 337.5h5M690 342.5h5M690 347.5h5M690 352.5h5M685 357.5h10M685 362.5h5M660 367.5h25M690 412.5h25M670 417.5h10M715 417.5h25M655 422.5h5M735 422.5h20M750 427.5h20M760 432.5h20M625 437.5h5M770 437.5h40M780 442.5h30M605 457.5h5M590 492.5h5M590 517.5h5M590 522.5h5M595 542.5h5M595 547.5h5M595 592.5h5M595 597.5h5M590 607.5h5M585 617.5h5M585 622.5h5M580 627.5h5M575 637.5h5M570 647.5h5M565 652.5h5M565 657.5h5"/><path stroke="#717171" d="M655 317.5h10M670 317.5h10M680 322.5h5M685 327.5h5M690 332.5h5M640 337.5h5M695 337.5h5M640 342.5h5M695 342.5h5M640 347.5h5M695 347.5h5M695 352.5h5M645 357.5h5M695 357.5h5M650 362.5h5M690 362.5h5M655 367.5h5M685 367.5h10M665 372.5h20M695 407.5h25M675 412.5h15M715 412.5h30M665 417.5h5M740 417.5h30M650 422.5h5M755 422.5h40M640 427.5h5M770 427.5h40M780 432.5h30M600 462.5h5M595 472.5h5M590 487.5h5M590 527.5h5M595 552.5h5M595 557.5h5M595 562.5h5M595 572.5h5M595 577.5h5M595 582.5h5M595 587.5h5M590 597.5h5M590 602.5h5M585 612.5h5M580 622.5h5M575 632.5h5M570 637.5h5M570 642.5h5M565 647.5h5"/><path stroke="#737373" d="M665 312.5h5M650 317.5h5M680 317.5h5M645 322.5h5M685 322.5h5M690 327.5h5M640 332.5h5M695 332.5h5M700 342.5h5M700 347.5h5M700 352.5h5M700 357.5h5M695 362.5h10M695 367.5h5M660 372.5h5M685 372.5h15M670 377.5h25M690 402.5h45M680 407.5h15M720 407.5h55M670 412.5h5M745 412.5h65M660 417.5h5M770 417.5h40M795 422.5h15M630 432.5h5M610 447.5h5M590 482.5h5M590 532.5h5M590 537.5h5M595 567.5h5M590 592.5h5M585 607.5h5M580 617.5h5M575 622.5h5M575 627.5h5M570 632.5h5M565 642.5h5M560 647.5h5M560 652.5h5"/><path stroke="#747474" d="M655 312.5h10M670 312.5h10M685 317.5h5M690 322.5h5M640 327.5h5M695 327.5h5M700 332.5h5M700 337.5h5M705 342.5h5M705 347.5h5M640 352.5h5M705 352.5h5M705 357.5h5M645 362.5h5M705 362.5h5M650 367.5h5M700 367.5h10M655 372.5h5M700 372.5h10M660 377.5h10M695 377.5h15M670 382.5h40M680 387.5h35M680 392.5h55M680 397.5h95M675 402.5h15M735 402.5h75M670 407.5h10M775 407.5h35M665 412.5h5M655 417.5h5M645 422.5h5M635 427.5h5M620 437.5h5M615 442.5h5M605 452.5h5M595 467.5h5M590 477.5h5M585 497.5h5M585 502.5h5M585 507.5h5M585 512.5h5M585 517.5h5M590 542.5h5M590 547.5h5M590 552.5h5M590 577.5h5M590 582.5h5M590 587.5h5M585 597.5h5M585 602.5h5M580 607.5h5M580 612.5h5M575 617.5h5M570 627.5h5M565 637.5h5M560 642.5h5M555 652.5h5"/><path stroke="#757575" d="M665 307.5h5M650 312.5h5M680 312.5h10M645 317.5h5M690 317.5h5M640 322.5h5M695 322.5h5M700 327.5h5M705 332.5h5M705 337.5h5M710 342.5h5M710 347.5h5M710 352.5h10M710 357.5h10M710 362.5h10M710 367.5h10M710 372.5h15M710 377.5h15M665 382.5h5M710 382.5h25M670 387.5h10M715 387.5h35M670 392.5h10M735 392.5h25M675 397.5h5M670 402.5h5M665 407.5h5M660 412.5h5M650 417.5h5M625 432.5h5M600 457.5h5M585 492.5h5M585 522.5h5M585 527.5h5M590 557.5h5M590 562.5h5M590 567.5h5M590 572.5h5M585 587.5h5M585 592.5h5M580 602.5h5M575 612.5h5M570 622.5h5M565 627.5h5M565 632.5h5M560 637.5h5M555 642.5h5M555 647.5h5M550 652.5h5"/><path stroke="#777777" d="M655 307.5h10M670 307.5h15M690 312.5h5M695 317.5h5M700 322.5h5M705 327.5h5M635 332.5h5M710 332.5h5M635 337.5h5M710 337.5h10M635 342.5h5M715 342.5h5M715 347.5h10M720 352.5h5M640 357.5h5M720 357.5h10M720 362.5h10M645 367.5h5M720 367.5h10M650 372.5h5M655 377.5h5M660 382.5h5M665 387.5h5M665 392.5h5M665 397.5h10M665 402.5h5M660 407.5h5M655 412.5h5M640 422.5h5M630 427.5h5M595 462.5h5M590 472.5h5M585 487.5h5M585 532.5h5M585 537.5h5M585 577.5h5M585 582.5h5M580 597.5h5M575 607.5h5M570 617.5h5M565 622.5h5M560 632.5h5M555 637.5h5M550 647.5h5"/><path stroke="#787878" d="M665 302.5h10M650 307.5h5M685 307.5h5M645 312.5h5M695 312.5h5M640 317.5h5M700 317.5h10M705 322.5h10M635 327.5h5M710 327.5h10M715 332.5h10M720 337.5h5M720 342.5h5M635 347.5h5M725 347.5h5M725 352.5h5M655 382.5h5M660 387.5h5M660 392.5h5M660 397.5h5M660 402.5h5M655 407.5h5M650 412.5h5M645 417.5h5M615 437.5h5M610 442.5h5M605 447.5h5M585 482.5h5M580 502.5h5M580 507.5h5M580 512.5h5M585 542.5h5M585 547.5h5M585 552.5h5M585 557.5h5M585 562.5h5M585 567.5h5M585 572.5h5M580 587.5h5M580 592.5h5M575 602.5h5M570 612.5h5M565 617.5h5M560 627.5h5M555 632.5h5M550 637.5h5M550 642.5h5M545 647.5h5"/><path stroke="#797979" d="M655 302.5h10M675 302.5h15M690 307.5h10M700 312.5h10M710 317.5h5M635 322.5h5M715 322.5h5M720 327.5h5M725 332.5h5M640 362.5h5M645 372.5h5M650 377.5h5M655 387.5h5M655 402.5h5M635 422.5h5M620 432.5h5M600 452.5h5M590 467.5h5M585 477.5h5M580 492.5h5M580 497.5h5M580 517.5h5M580 522.5h5M580 527.5h5M580 577.5h5M580 582.5h5M575 592.5h5M575 597.5h5M570 602.5h5M570 607.5h5M565 612.5h5M560 622.5h5M555 627.5h5M550 632.5h5M545 642.5h5M540 647.5h5"/><path stroke="#7a7a7a" d="M665 297.5h15M650 302.5h5M690 302.5h5M645 307.5h5M700 307.5h5M640 312.5h5M710 312.5h5M715 317.5h10M720 322.5h10M725 327.5h5M635 352.5h5M650 382.5h5M655 392.5h5M655 397.5h5M650 407.5h5M645 412.5h5M640 417.5h5M625 427.5h5M595 457.5h5M580 487.5h5M580 532.5h5M580 537.5h5M580 542.5h5M580 562.5h5M580 567.5h5M580 572.5h5M575 587.5h5M570 597.5h5M565 607.5h5M560 617.5h5M555 622.5h5M550 627.5h5M545 637.5h5M540 642.5h5"/><path stroke="#7c7c7c" d="M655 297.5h10M680 297.5h15M695 302.5h10M705 307.5h10M715 312.5h10M635 317.5h5M725 317.5h5M640 367.5h5M645 377.5h5M650 387.5h5M650 402.5h5M630 422.5h5M610 437.5h5M605 442.5h5M590 462.5h5M585 472.5h5M580 482.5h5M580 547.5h5M580 552.5h5M580 557.5h5M575 577.5h5M575 582.5h5M570 592.5h5M565 602.5h5M560 612.5h5M555 617.5h5M550 622.5h5M545 632.5h5M540 637.5h5"/><path stroke="#7d7d7d" d="M665 292.5h25M650 297.5h5M695 297.5h10M645 302.5h5M705 302.5h15M640 307.5h5M715 307.5h10M635 312.5h5M725 312.5h5M630 327.5h5M630 332.5h5M630 337.5h5M635 357.5h5M645 382.5h5M650 392.5h5M650 397.5h5M645 407.5h5M640 412.5h5M635 417.5h5M615 432.5h5M600 447.5h5M575 497.5h5M575 502.5h5M575 507.5h5M575 512.5h5M575 517.5h5M575 522.5h5M575 527.5h5M575 567.5h5M575 572.5h5M570 587.5h5M565 597.5h5M560 602.5h5M560 607.5h5M555 612.5h5M550 617.5h5M545 627.5h5M540 632.5h5"/><path stroke="#7e7e7e" d="M675 287.5h5M655 292.5h10M690 292.5h15M705 297.5h15M640 302.5h5M630 322.5h5M630 342.5h5M640 372.5h5M645 387.5h5M645 402.5h5M625 422.5h5M620 427.5h5M595 452.5h5M585 467.5h5M580 477.5h5M575 492.5h5M575 532.5h5M575 537.5h5M575 542.5h5M575 547.5h5M575 552.5h5M575 557.5h5M575 562.5h5M570 577.5h5M570 582.5h5M565 592.5h5M560 597.5h5M555 607.5h5M550 612.5h5M545 617.5h5M545 622.5h5M540 627.5h5"/><path stroke="#808080" d="M660 287.5h15M680 287.5h25M650 292.5h5M705 292.5h15M645 297.5h5M635 307.5h5M630 317.5h5M630 347.5h5M635 362.5h5M645 392.5h5M645 397.5h5M640 407.5h5M635 412.5h5M630 417.5h5M590 457.5h5M575 487.5h5M570 572.5h5M565 587.5h5M560 592.5h5M555 602.5h5M550 607.5h5M545 612.5h5M540 622.5h5"/><path stroke="#818181" d="M665 282.5h50M655 287.5h5M705 287.5h15M645 292.5h5M640 297.5h5M630 312.5h5M640 377.5h5M640 402.5h5M615 427.5h5M610 432.5h5M605 437.5h5M600 442.5h5M595 447.5h5M585 462.5h5M580 472.5h5M575 482.5h5M570 497.5h5M570 502.5h5M570 507.5h5M570 512.5h5M570 517.5h5M570 522.5h5M570 527.5h5M570 532.5h5M570 562.5h5M570 567.5h5M565 577.5h5M565 582.5h5M560 587.5h5M555 597.5h5M550 602.5h5M540 617.5h5M535 622.5h5"/><path stroke="#828282" d="M670 277.5h45M655 282.5h10M715 282.5h5M650 287.5h5M635 302.5h5M630 352.5h5M635 367.5h5M640 382.5h5M640 387.5h5M640 392.5h5M640 397.5h5M635 407.5h5M630 412.5h5M625 417.5h5M620 422.5h5M590 452.5h5M580 467.5h5M575 477.5h5M570 492.5h5M570 537.5h5M570 542.5h5M570 547.5h5M570 552.5h5M570 557.5h5M565 572.5h5M560 582.5h5M555 592.5h5M550 597.5h5M545 607.5h5M540 612.5h5M535 617.5h5"/><path stroke="#838383" d="M690 267.5h25M670 272.5h45M660 277.5h10M650 282.5h5M645 287.5h5M640 292.5h5M635 297.5h5M630 307.5h5M625 322.5h5M625 327.5h5M625 332.5h5M585 457.5h5M570 487.5h5M565 507.5h5M565 512.5h5M565 517.5h5M565 562.5h5M565 567.5h5M560 577.5h5M555 587.5h5M550 592.5h5M545 602.5h5M540 607.5h5M535 612.5h5"/><path stroke="#858585" d="M700 257.5h15M685 262.5h30M670 267.5h20M660 272.5h10M655 277.5h5M630 302.5h5M625 317.5h5M625 337.5h5M635 372.5h5M635 402.5h5M615 422.5h5M610 427.5h5M605 432.5h5M600 437.5h5M595 442.5h5M580 462.5h5M575 472.5h5M570 482.5h5M565 497.5h5M565 502.5h5M565 522.5h5M565 527.5h5M565 532.5h5M565 537.5h5M565 542.5h5M565 547.5h5M565 552.5h5M565 557.5h5M560 572.5h5M555 582.5h5M550 587.5h5M545 597.5h5M540 602.5h5M535 607.5h5"/><path stroke="#868686" d="M690 252.5h20M680 257.5h20M670 262.5h15M665 267.5h5M655 272.5h5M650 277.5h5M645 282.5h5M640 287.5h5M635 292.5h5M630 297.5h5M625 312.5h5M630 357.5h5M635 377.5h5M635 397.5h5M630 407.5h5M625 412.5h5M620 417.5h5M590 447.5h5M570 477.5h5M565 492.5h5M560 562.5h5M560 567.5h5M555 577.5h5M550 582.5h5M545 592.5h5M540 597.5h5M535 602.5h5"/><path stroke="#878787" d="M680 252.5h10M670 257.5h10M665 262.5h5M655 267.5h10M650 272.5h5M645 277.5h5M640 282.5h5M635 287.5h5M625 307.5h5M625 342.5h5M635 382.5h5M635 387.5h5M635 392.5h5M585 452.5h5M575 467.5h5M565 487.5h5M560 502.5h5M560 507.5h5M560 512.5h5M560 517.5h5M560 522.5h5M560 527.5h5M560 532.5h5M560 552.5h5M560 557.5h5M555 572.5h5M550 577.5h5M545 587.5h5M540 592.5h5M535 597.5h5M530 602.5h5"/><path stroke="#888888" d="M670 252.5h10M665 257.5h5M655 262.5h10M650 267.5h5M645 272.5h5M640 277.5h5M630 292.5h5M625 302.5h5M630 362.5h5M630 402.5h5M625 407.5h5M615 417.5h5M610 422.5h5M605 427.5h5M600 432.5h5M595 437.5h5M590 442.5h5M580 457.5h5M570 472.5h5M565 482.5h5M560 492.5h5M560 497.5h5M560 537.5h5M560 542.5h5M560 547.5h5M555 562.5h5M555 567.5h5M550 572.5h5M545 582.5h5M540 587.5h5M535 592.5h5M530 597.5h5"/><path stroke="#8a8a8a" d="M660 252.5h10M655 257.5h10M650 262.5h5M645 267.5h5M635 282.5h5M630 287.5h5M625 297.5h5M620 312.5h5M620 317.5h5M620 322.5h5M620 327.5h5M625 347.5h5M630 397.5h5M620 412.5h5M585 447.5h5M575 462.5h5M565 477.5h5M560 487.5h5M555 507.5h5M555 512.5h5M555 517.5h5M555 522.5h5M555 527.5h5M555 552.5h5M555 557.5h5M550 567.5h5M545 577.5h5M540 582.5h5M535 587.5h5M530 592.5h5M525 597.5h5"/><path stroke="#8b8b8b" d="M655 252.5h5M650 257.5h5M640 272.5h5M635 277.5h5M625 292.5h5M620 307.5h5M620 332.5h5M630 367.5h5M630 392.5h5M600 427.5h5M595 432.5h5M580 452.5h5M570 467.5h5M555 497.5h5M555 502.5h5M555 532.5h5M555 537.5h5M555 542.5h5M555 547.5h5M550 562.5h5M545 572.5h5M540 577.5h5M535 582.5h5M530 587.5h5M525 592.5h5M520 597.5h5"/><path stroke="#8c8c8c" d="M650 252.5h5M645 262.5h5M640 267.5h5M635 272.5h5M630 282.5h5M625 287.5h5M620 302.5h5M630 372.5h5M630 377.5h5M630 387.5h5M625 402.5h5M620 407.5h5M615 412.5h5M610 417.5h5M605 422.5h5M590 437.5h5M585 442.5h5M575 457.5h5M565 472.5h5M560 482.5h5M555 492.5h5M550 507.5h5M550 512.5h5M550 517.5h5M550 522.5h5M550 527.5h5M550 552.5h5M550 557.5h5M545 567.5h5M540 572.5h5M535 577.5h5M530 582.5h5M525 587.5h5M515 592.5h10"/><path stroke="#8e8e8e" d="M645 252.5h5M645 257.5h5M640 262.5h5M635 267.5h5M630 277.5h5M620 297.5h5M620 337.5h5M625 352.5h5M630 382.5h5M580 447.5h5M570 462.5h5M560 477.5h5M555 487.5h5M550 497.5h5M550 502.5h5M550 532.5h5M550 537.5h5M550 542.5h5M550 547.5h5M545 557.5h5M545 562.5h5M540 567.5h5M535 572.5h5M530 577.5h5M525 582.5h5M515 587.5h10"/><path stroke="#8f8f8f" d="M640 257.5h5M635 262.5h5M630 272.5h5M625 282.5h5M620 292.5h5M615 307.5h5M615 312.5h5M615 317.5h5M615 322.5h5M625 397.5h5M605 417.5h5M600 422.5h5M595 427.5h5M590 432.5h5M575 452.5h5M565 467.5h5M560 472.5h5M555 482.5h5M550 492.5h5M545 507.5h5M545 512.5h5M545 517.5h5M545 522.5h5M545 527.5h5M545 532.5h5M545 537.5h5M545 542.5h5M545 547.5h5M545 552.5h5M540 562.5h5M535 567.5h5M530 572.5h5M520 577.5h10M515 582.5h10M510 587.5h5"/><path stroke="#909090" d="M640 252.5h5M635 257.5h5M630 267.5h5M625 277.5h5M620 287.5h5M615 297.5h5M615 302.5h5M615 327.5h5M625 357.5h5M625 392.5h5M620 402.5h5M615 407.5h5M610 412.5h5M585 437.5h5M580 442.5h5M570 457.5h5M565 462.5h5M555 477.5h5M550 487.5h5M545 497.5h5M545 502.5h5M540 512.5h5M540 517.5h5M540 522.5h5M540 527.5h5M540 547.5h5M540 552.5h5M540 557.5h5M535 562.5h5M525 567.5h10M520 572.5h10M515 577.5h5M510 582.5h5"/><path stroke="#919191" d="M635 252.5h5M630 262.5h5M625 272.5h5M620 282.5h5M615 292.5h5M620 342.5h5M595 422.5h5M590 427.5h5M575 447.5h5M560 467.5h5M550 482.5h5M545 492.5h5M540 502.5h5M540 507.5h5M540 532.5h5M540 537.5h5M540 542.5h5M535 547.5h5M535 552.5h5M530 557.5h10M525 562.5h10M520 567.5h5M510 572.5h10M510 577.5h5"/><path stroke="#939393" d="M630 257.5h5M625 262.5h5M625 267.5h5M620 277.5h5M615 287.5h5M610 307.5h5M610 312.5h5M615 332.5h5M625 362.5h5M625 387.5h5M620 397.5h5M605 412.5h5M600 417.5h5M585 432.5h5M580 437.5h5M570 452.5h5M565 457.5h5M555 472.5h5M550 477.5h5M545 487.5h5M540 497.5h5M535 507.5h5M535 512.5h5M535 517.5h5M535 522.5h5M535 527.5h5M535 532.5h5M530 537.5h10M530 542.5h10M530 547.5h5M525 552.5h10M520 557.5h10M515 562.5h10M510 567.5h10M505 572.5h5"/><path stroke="#949494" d="M630 252.5h5M625 257.5h5M620 267.5h5M620 272.5h5M615 282.5h5M610 297.5h5M610 302.5h5M610 317.5h5M625 382.5h5M615 402.5h5M610 407.5h5M575 442.5h5M560 462.5h5M555 467.5h5M545 482.5h5M540 492.5h5M535 502.5h5M530 512.5h5M530 517.5h5M530 522.5h5M525 527.5h10M525 532.5h10M525 537.5h5M525 542.5h5M520 547.5h10M515 552.5h10M510 557.5h10M505 562.5h10M505 567.5h5"/><path stroke="#959595" d="M625 252.5h5M620 262.5h5M615 277.5h5M610 292.5h5M610 322.5h5M620 347.5h5M625 367.5h5M625 372.5h5M625 377.5h5M620 392.5h5M600 412.5h5M595 417.5h5M590 422.5h5M585 427.5h5M580 432.5h5M570 447.5h5M565 452.5h5M550 472.5h5M545 477.5h5M540 487.5h5M535 497.5h5M530 502.5h5M530 507.5h5M525 512.5h5M525 517.5h5M525 522.5h5M520 527.5h5M520 532.5h5M515 537.5h10M515 542.5h10M510 547.5h10M505 552.5h10M500 557.5h10M500 562.5h5"/><path stroke="#969696" d="M620 257.5h5M615 267.5h5M615 272.5h5M610 282.5h5M610 287.5h5M605 307.5h5M610 327.5h5M615 337.5h5M605 407.5h5M575 437.5h5M570 442.5h5M560 457.5h5M555 462.5h5M550 467.5h5M540 482.5h5M535 492.5h5M530 497.5h5M525 507.5h5M520 517.5h5M515 522.5h10M515 527.5h5M510 532.5h10M510 537.5h5M505 542.5h10M500 547.5h10M500 552.5h5"/><path stroke="#989898" d="M620 252.5h5M610 277.5h5M605 292.5h5M605 297.5h5M605 302.5h5M605 312.5h5M605 317.5h5M615 397.5h5M610 402.5h5M590 417.5h5M585 422.5h5M580 427.5h5M565 447.5h5M560 452.5h5M545 472.5h5M540 477.5h5M535 487.5h5M530 492.5h5M525 502.5h5M520 507.5h5M520 512.5h5M515 517.5h5M510 522.5h5M510 527.5h5M505 532.5h5M505 537.5h5M500 542.5h5"/><path stroke="#999999" d="M610 267.5h5M610 272.5h5M605 287.5h5M605 322.5h5M620 352.5h5M620 387.5h5M600 407.5h5M595 412.5h5M575 432.5h5M570 437.5h5M555 457.5h5M550 462.5h5M545 467.5h5M535 482.5h5M530 487.5h5M525 497.5h5M520 502.5h5M515 512.5h5M510 517.5h5"/><path stroke="#9a9a9a" d="M605 277.5h5M605 282.5h5M600 302.5h5M600 307.5h5M610 332.5h5M605 402.5h5M590 412.5h5M585 417.5h5M580 422.5h5M575 427.5h5M565 442.5h5M560 447.5h5M555 452.5h5M540 472.5h5M535 477.5h5M530 482.5h5M525 492.5h5M520 497.5h5M515 502.5h5M515 507.5h5M510 512.5h5"/><path stroke="#9c9c9c" d="M605 267.5h5M605 272.5h5M600 287.5h5M600 292.5h5M600 297.5h5M600 312.5h5M600 317.5h5M615 342.5h5M620 382.5h5M615 392.5h5M610 397.5h5M595 407.5h5M570 432.5h5M565 437.5h5M550 457.5h5M545 462.5h5M540 467.5h5M535 472.5h5M525 487.5h5M520 492.5h5M515 497.5h5M510 507.5h5M505 512.5h5"/><path stroke="#9d9d9d" d="M605 262.5h5M600 277.5h5M600 282.5h5M605 327.5h5M620 357.5h5M600 402.5h5M585 412.5h5M580 417.5h5M575 422.5h5M570 427.5h5M560 442.5h5M555 447.5h5M550 452.5h5M545 457.5h5M530 477.5h5M525 482.5h5M520 487.5h5M510 502.5h5M505 507.5h5"/><path stroke="#9e9e9e" d="M600 267.5h5M600 272.5h5M595 292.5h5M595 297.5h5M595 302.5h5M595 307.5h5M595 312.5h5M600 322.5h5M620 377.5h5M590 407.5h5M575 417.5h5M565 432.5h5M560 437.5h5M540 462.5h5M535 467.5h5M530 472.5h5M525 477.5h5M515 492.5h5M510 497.5h5M505 502.5h5"/><path stroke="#9f9f9f" d="M600 262.5h5M595 282.5h5M595 287.5h5M595 317.5h5M610 337.5h5M620 362.5h5M620 372.5h5M615 387.5h5M610 392.5h5M605 397.5h5M595 402.5h5M585 407.5h5M580 412.5h5M570 422.5h5M565 427.5h5M555 442.5h5M550 447.5h5M545 452.5h5M540 457.5h5M535 462.5h5M520 482.5h5M515 487.5h5M510 492.5h5M505 497.5h5"/><path stroke="#a1a1a1" d="M595 267.5h5M595 272.5h5M595 277.5h5M590 297.5h5M590 302.5h5M590 307.5h5M590 312.5h5M600 327.5h5M605 332.5h5M615 347.5h5M620 367.5h5M580 407.5h5M575 412.5h5M570 417.5h5M565 422.5h5M560 432.5h5M555 437.5h5M550 442.5h5M545 447.5h5M530 467.5h5M525 472.5h5M520 477.5h5M515 482.5h5M510 487.5h5"/><path stroke="#a2a2a2" d="M595 257.5h5M595 262.5h5M590 277.5h5M590 282.5h5M590 287.5h5M590 292.5h5M590 317.5h5M595 322.5h5M600 397.5h5M590 402.5h5M570 412.5h5M560 427.5h5M555 432.5h5M540 452.5h5M535 457.5h5M530 462.5h5M525 467.5h5M520 472.5h5M505 492.5h5"/><path stroke="#a3a3a3" d="M590 262.5h5M590 267.5h5M590 272.5h5M585 292.5h5M585 297.5h5M585 302.5h5M585 307.5h5M585 312.5h5M615 382.5h5M585 402.5h5M575 407.5h5M565 417.5h5M560 422.5h5M555 427.5h5M550 437.5h5M545 442.5h5M540 447.5h5M535 452.5h5M530 457.5h5M515 477.5h5M510 482.5h5M505 487.5h5"/><path stroke="#a4a4a4" d="M590 252.5h5M590 257.5h5M585 272.5h5M585 277.5h5M585 282.5h5M585 287.5h5M585 317.5h5M590 322.5h5M595 327.5h5M600 332.5h5M610 342.5h5M610 387.5h5M605 392.5h5M595 397.5h5M575 402.5h10M570 407.5h5M565 412.5h5M560 417.5h5M555 422.5h5M550 432.5h5M545 437.5h5M540 442.5h5M535 447.5h5M525 462.5h5M520 467.5h5M515 472.5h5M510 477.5h5M505 482.5h5"/><path stroke="#a6a6a6" d="M585 252.5h5M585 257.5h5M585 262.5h5M585 267.5h5M580 282.5h5M580 287.5h5M580 292.5h5M580 297.5h5M580 302.5h5M580 307.5h5M580 312.5h5M585 322.5h5M605 337.5h5M590 397.5h5M570 402.5h5M565 407.5h5M560 412.5h5M555 417.5h5M550 422.5h5M550 427.5h5M545 432.5h5M540 437.5h5M530 452.5h5M525 457.5h5M520 462.5h5M500 487.5h5"/><path stroke="#a7a7a7" d="M585 247.5h5M580 262.5h5M580 267.5h5M580 272.5h5M580 277.5h5M575 297.5h5M575 302.5h5M575 307.5h5M580 317.5h5M590 327.5h5M615 352.5h5M615 377.5h5M600 392.5h5M575 397.5h15M565 402.5h5M560 407.5h5M555 412.5h5M550 417.5h5M545 427.5h5M540 432.5h5M535 442.5h5M530 447.5h5M525 452.5h5M515 467.5h5M510 472.5h5M505 477.5h5M500 482.5h5"/><path stroke="#a8a8a8" d="M580 247.5h5M580 252.5h5M580 257.5h5M575 267.5h5M575 272.5h5M575 277.5h5M575 282.5h5M575 287.5h5M575 292.5h5M575 312.5h5M575 317.5h5M580 322.5h5M585 327.5h5M595 332.5h5M565 397.5h10M555 402.5h10M555 407.5h5M550 412.5h5M545 417.5h5M545 422.5h5M540 427.5h5M535 432.5h5M535 437.5h5M530 442.5h5M520 457.5h5M515 462.5h5M510 467.5h5M505 472.5h5"/><path stroke="#aaaaaa" d="M580 237.5h5M580 242.5h5M575 252.5h5M575 257.5h5M575 262.5h5M570 272.5h5M570 277.5h5M570 282.5h5M570 287.5h5M570 292.5h5M570 297.5h5M570 302.5h5M570 307.5h5M570 312.5h5M575 322.5h5M580 327.5h5M605 387.5h5M595 392.5h5M555 397.5h10M550 402.5h5M550 407.5h5M545 412.5h5M540 417.5h5M540 422.5h5M535 427.5h5M530 437.5h5M525 447.5h5M520 452.5h5M515 457.5h5M500 477.5h5"/><path stroke="#ababab" d="M575 237.5h5M575 242.5h5M575 247.5h5M570 257.5h5M570 262.5h5M570 267.5h5M565 272.5h5M565 277.5h5M565 282.5h5M565 287.5h5M565 292.5h5M565 297.5h5M565 302.5h5M565 307.5h5M570 317.5h5M570 322.5h5M575 327.5h5M590 332.5h5M600 337.5h5M615 357.5h5M615 372.5h5M610 382.5h5M560 392.5h35M550 397.5h5M545 402.5h5M545 407.5h5M540 412.5h5M535 422.5h5M530 432.5h5M525 442.5h5M520 447.5h5M510 462.5h5M505 467.5h5M500 472.5h5"/><path stroke="#acacac" d="M570 247.5h5M570 252.5h5M565 262.5h5M565 267.5h5M560 272.5h5M560 277.5h5M560 282.5h5M560 287.5h5M560 292.5h5M560 297.5h5M560 302.5h5M565 312.5h5M565 317.5h5M565 322.5h5M570 327.5h5M580 332.5h10M610 347.5h5M560 387.5h10M550 392.5h10M545 397.5h5M540 407.5h5M535 412.5h5M535 417.5h5M530 422.5h5M530 427.5h5M525 437.5h5M515 452.5h5M510 457.5h5"/><path stroke="#adadad" d="M570 237.5h5M570 242.5h5M565 252.5h5M565 257.5h5M560 262.5h5M560 267.5h5M555 277.5h5M555 282.5h5M555 287.5h5M555 292.5h5M555 297.5h5M560 307.5h5M560 312.5h5M560 317.5h5M565 327.5h5M570 332.5h10M605 342.5h5M615 362.5h5M615 367.5h5M550 387.5h10M570 387.5h10M600 387.5h5M545 392.5h5M540 402.5h5M535 407.5h5M530 417.5h5M525 432.5h5M520 442.5h5M515 447.5h5M505 462.5h5M500 467.5h5M495 472.5h5"/><path stroke="#afafaf" d="M565 242.5h5M565 247.5h5M560 257.5h5M555 267.5h5M555 272.5h5M550 282.5h5M550 287.5h5M555 302.5h5M555 307.5h5M560 322.5h5M560 327.5h5M565 332.5h5M595 337.5h5M550 382.5h20M545 387.5h5M580 387.5h5M595 387.5h5M540 397.5h5M535 402.5h5M530 412.5h5M525 427.5h5M520 437.5h5M510 452.5h5M505 457.5h5"/><path stroke="#b0b0b0" d="M565 237.5h5M560 247.5h5M560 252.5h5M555 262.5h5M550 272.5h5M550 277.5h5M550 292.5h5M550 297.5h5M550 302.5h5M555 312.5h5M555 317.5h5M555 322.5h5M560 332.5h5M560 337.5h35M550 377.5h20M610 377.5h5M545 382.5h5M570 382.5h5M605 382.5h5M585 387.5h10M540 392.5h5M535 397.5h5M530 407.5h5M525 417.5h5M525 422.5h5M520 432.5h5M515 442.5h5M510 447.5h5M500 462.5h5M495 467.5h5"/><path stroke="#b1b1b1" d="M560 237.5h5M560 242.5h5M555 252.5h5M555 257.5h5M550 267.5h5M545 282.5h5M545 287.5h5M550 307.5h5M550 312.5h5M555 327.5h5M555 332.5h5M555 337.5h5M560 342.5h15M555 367.5h5M550 372.5h15M545 377.5h5M570 377.5h5M575 382.5h5M540 387.5h5M530 402.5h5M520 427.5h5M515 437.5h5M505 452.5h5M500 457.5h5"/><path stroke="#b2b2b2" d="M300 147.5h15M295 152.5h25M295 157.5h25M295 162.5h25M300 167.5h15M555 247.5h5M550 257.5h5M550 262.5h5M545 272.5h5M545 277.5h5M545 292.5h5M545 297.5h5M545 302.5h5M550 317.5h5M550 322.5h5M550 327.5h5M555 342.5h5M575 342.5h5M600 342.5h5M555 347.5h15M555 352.5h15M610 352.5h5M555 357.5h10M550 362.5h15M550 367.5h5M560 367.5h10M545 372.5h5M565 372.5h5M540 382.5h5M580 382.5h5M535 392.5h5M525 412.5h5M520 422.5h5M515 432.5h5M510 442.5h5M495 462.5h5M490 467.5h5"/><path stroke="#b4b4b4" d="M290 127.5h30M285 132.5h40M280 137.5h50M280 142.5h55M275 147.5h25M315 147.5h20M275 152.5h20M320 152.5h15M275 157.5h20M320 157.5h15M275 162.5h20M320 162.5h15M280 167.5h20M315 167.5h15M280 172.5h50M285 177.5h40M295 182.5h20M555 237.5h5M555 242.5h5M550 252.5h5M545 267.5h5M545 307.5h5M545 312.5h5M550 332.5h5M550 337.5h5M550 342.5h5M580 342.5h5M550 347.5h5M570 347.5h5M550 352.5h5M550 357.5h5M565 357.5h5M545 362.5h5M565 362.5h5M545 367.5h5M540 372.5h5M570 372.5h5M540 377.5h5M575 377.5h5M600 382.5h5M535 387.5h5M530 397.5h5M525 407.5h5M520 417.5h5M505 447.5h5M500 452.5h5M495 457.5h5M490 462.5h5"/><path stroke="#b5b5b5" d="M285 107.5h35M280 112.5h50M275 117.5h60M270 122.5h65M265 127.5h25M320 127.5h20M265 132.5h20M325 132.5h15M265 137.5h15M330 137.5h15M260 142.5h20M335 142.5h10M260 147.5h15M335 147.5h10M260 152.5h15M335 152.5h10M265 157.5h10M335 157.5h10M265 162.5h10M335 162.5h10M265 167.5h15M330 167.5h10M270 172.5h10M330 172.5h10M275 177.5h10M325 177.5h10M280 182.5h15M315 182.5h15M285 187.5h40M300 192.5h5M550 247.5h5M545 262.5h5M540 277.5h5M540 282.5h5M540 287.5h5M540 292.5h5M540 297.5h5M545 317.5h5M545 322.5h5M545 327.5h5M545 342.5h5M585 342.5h15M545 347.5h5M575 347.5h5M605 347.5h5M545 352.5h5M570 352.5h5M545 357.5h5M540 367.5h5M570 367.5h5M610 372.5h5M535 377.5h5M535 382.5h5M585 382.5h15M530 392.5h5M525 402.5h5M520 412.5h5M515 427.5h5M510 437.5h5M505 442.5h5"/><path stroke="#b6b6b6" d="M285 77.5h30M275 82.5h50M270 87.5h60M265 92.5h70M260 97.5h80M255 102.5h90M255 107.5h30M320 107.5h25M250 112.5h30M330 112.5h20M250 117.5h25M335 117.5h15M250 122.5h20M335 122.5h15M250 127.5h15M340 127.5h10M250 132.5h15M340 132.5h15M250 137.5h15M345 137.5h10M250 142.5h10M345 142.5h10M250 147.5h10M345 147.5h10M250 152.5h10M345 152.5h10M250 157.5h15M345 157.5h5M250 162.5h15M345 162.5h5M255 167.5h10M340 167.5h10M255 172.5h15M340 172.5h5M260 177.5h15M335 177.5h10M265 182.5h15M330 182.5h10M270 187.5h15M325 187.5h10M280 192.5h20M305 192.5h20M290 197.5h25M550 232.5h5M550 237.5h5M550 242.5h5M545 252.5h5M545 257.5h5M540 272.5h5M540 302.5h5M540 307.5h5M545 332.5h5M545 337.5h5M540 357.5h5M570 357.5h5M540 362.5h5M570 362.5h5M535 372.5h5M575 372.5h5M580 377.5h5M605 377.5h5M530 387.5h5M525 397.5h5M515 422.5h5M510 432.5h5M500 447.5h5M495 452.5h5M490 457.5h5"/><path stroke="#b8b8b8" d="M280 77.5h5M315 77.5h20M245 82.5h25M325 82.5h20M235 87.5h35M330 87.5h30M230 92.5h35M335 92.5h25M230 97.5h30M340 97.5h20M230 102.5h25M345 102.5h15M230 107.5h25M345 107.5h15M230 112.5h20M350 112.5h10M230 117.5h20M350 117.5h15M230 122.5h20M350 122.5h15M230 127.5h20M350 127.5h15M230 132.5h20M355 132.5h10M230 137.5h20M355 137.5h10M235 142.5h15M355 142.5h5M235 147.5h15M355 147.5h5M235 152.5h15M355 152.5h5M240 157.5h10M350 157.5h10M240 162.5h10M350 162.5h5M245 167.5h10M350 167.5h5M245 172.5h10M345 172.5h10M250 177.5h10M345 177.5h5M255 182.5h10M340 182.5h5M260 187.5h10M335 187.5h5M265 192.5h15M325 192.5h10M275 197.5h15M315 197.5h15M285 202.5h30M545 247.5h5M540 262.5h5M540 267.5h5M540 312.5h5M540 317.5h5M540 342.5h5M540 347.5h5M580 347.5h5M540 352.5h5M575 352.5h5M535 362.5h5M535 367.5h5M530 382.5h5M525 392.5h5M520 407.5h5M515 417.5h5M505 437.5h5"/><path stroke="#b9b9b9" d="M225 97.5h5M360 97.5h5M220 102.5h10M360 102.5h5M210 107.5h20M360 107.5h10M210 112.5h20M360 112.5h10M210 117.5h20M365 117.5h5M210 122.5h20M365 122.5h5M215 127.5h15M365 127.5h5M215 132.5h15M365 132.5h5M215 137.5h15M365 137.5h5M220 142.5h15M360 142.5h10M220 147.5h15M360 147.5h10M220 152.5h15M360 152.5h5M225 157.5h15M360 157.5h5M225 162.5h15M355 162.5h5M230 167.5h15M235 172.5h10M355 172.5h5M240 177.5h10M350 177.5h5M240 182.5h15M345 182.5h10M245 187.5h15M340 187.5h10M255 192.5h10M335 192.5h10M260 197.5h15M330 197.5h10M270 202.5h15M315 202.5h15M285 207.5h30M545 237.5h5M545 242.5h5M540 257.5h5M535 277.5h5M535 282.5h5M535 287.5h5M535 292.5h5M535 297.5h5M540 322.5h5M540 327.5h5M540 332.5h5M540 337.5h5M535 357.5h5M575 357.5h5M610 357.5h5M575 362.5h5M575 367.5h5M610 367.5h5M530 372.5h5M530 377.5h5M525 387.5h5M520 402.5h5M510 427.5h5M500 442.5h5M495 447.5h5M485 457.5h5"/><path stroke="#bababa" d="M205 112.5h5M205 117.5h5M205 122.5h5M205 127.5h10M205 132.5h10M205 137.5h10M205 142.5h15M205 147.5h15M205 152.5h15M365 152.5h5M210 157.5h15M215 162.5h10M215 167.5h15M220 172.5h15M225 177.5h15M355 177.5h5M230 182.5h10M355 182.5h5M235 187.5h10M350 187.5h5M240 192.5h15M345 192.5h5M245 197.5h15M340 197.5h5M255 202.5h15M330 202.5h10M265 207.5h20M315 207.5h15M280 212.5h35M545 232.5h5M540 252.5h5M535 272.5h5M535 302.5h5M535 307.5h5M535 347.5h5M585 347.5h5M600 347.5h5M535 352.5h5M610 362.5h5M530 367.5h5M580 372.5h5M585 377.5h5M525 382.5h5M520 397.5h5M515 412.5h5M510 422.5h5M505 432.5h5M490 452.5h5"/><path stroke="#bbbbbb" d="M200 147.5h5M200 152.5h5M200 157.5h10M200 162.5h15M200 167.5h15M205 172.5h15M210 177.5h15M360 177.5h5M215 182.5h15M360 182.5h5M220 187.5h15M355 187.5h5M225 192.5h15M350 192.5h5M235 197.5h10M345 197.5h5M240 202.5h15M340 202.5h5M250 207.5h15M330 207.5h10M260 212.5h20M315 212.5h15M280 217.5h30M540 242.5h5M540 247.5h5M535 262.5h5M535 267.5h5M535 312.5h5M535 317.5h5M535 322.5h5M535 327.5h5M535 332.5h5M535 337.5h5M535 342.5h5M580 352.5h5M530 357.5h5M530 362.5h5M525 377.5h5M590 377.5h5M600 377.5h5M520 392.5h5M515 407.5h5M500 437.5h5M495 442.5h5"/><path stroke="#bdbdbd" d="M195 172.5h10M195 177.5h15M200 182.5h15M205 187.5h15M360 187.5h5M210 192.5h15M355 192.5h5M220 197.5h15M350 197.5h5M225 202.5h15M345 202.5h5M235 207.5h15M340 207.5h5M245 212.5h15M330 212.5h5M255 217.5h25M310 217.5h15M280 222.5h25M540 232.5h5M540 237.5h5M535 257.5h5M530 282.5h5M530 287.5h5M530 292.5h5M530 297.5h5M590 347.5h10M530 352.5h5M605 352.5h5M580 357.5h5M525 367.5h5M580 367.5h5M525 372.5h5M595 377.5h5M520 387.5h5M510 417.5h5M505 427.5h5M490 447.5h5M485 452.5h5"/><path stroke="#bebebe" d="M190 177.5h5M180 182.5h20M185 187.5h20M365 187.5h5M195 192.5h15M360 192.5h5M200 197.5h20M355 197.5h5M210 202.5h15M350 202.5h5M215 207.5h20M345 207.5h5M225 212.5h20M335 212.5h10M235 217.5h20M325 217.5h10M250 222.5h30M305 222.5h20M280 227.5h20M535 247.5h5M535 252.5h5M530 272.5h5M530 277.5h5M530 302.5h5M530 307.5h5M530 342.5h5M530 347.5h5M525 362.5h5M580 362.5h5M585 372.5h5M605 372.5h5M520 382.5h5M515 402.5h5M510 412.5h5M500 432.5h5"/><path stroke="#bfbfbf" d="M170 187.5h15M170 192.5h25M365 192.5h5M180 197.5h20M360 197.5h5M190 202.5h20M355 202.5h5M195 207.5h20M350 207.5h5M205 212.5h20M345 212.5h5M215 217.5h20M335 217.5h10M230 222.5h20M325 222.5h10M245 227.5h35M300 227.5h20M535 232.5h5M535 237.5h5M535 242.5h5M530 267.5h5M530 312.5h5M530 317.5h5M530 322.5h5M530 327.5h5M530 332.5h5M530 337.5h5M525 352.5h5M585 352.5h5M525 357.5h5M520 372.5h5M520 377.5h5M515 397.5h5M505 422.5h5M495 437.5h5M490 442.5h5M485 447.5h5"/><path stroke="#c1c1c1" d="M165 192.5h5M370 192.5h5M160 197.5h20M365 197.5h5M165 202.5h25M360 202.5h5M175 207.5h20M355 207.5h5M185 212.5h20M350 212.5h5M195 217.5h20M345 217.5h5M205 222.5h25M335 222.5h5M215 227.5h30M320 227.5h10M235 232.5h85M530 257.5h5M530 262.5h5M525 347.5h5M520 362.5h5M520 367.5h5M515 392.5h5M510 407.5h5M505 417.5h5M500 427.5h5"/><path stroke="#c2c2c2" d="M375 192.5h5M370 197.5h5M155 202.5h10M365 202.5h5M155 207.5h20M360 207.5h5M160 212.5h25M355 212.5h5M170 217.5h25M350 217.5h5M180 222.5h25M340 222.5h10M190 227.5h25M330 227.5h10M205 232.5h30M320 232.5h10M220 237.5h95M530 247.5h5M530 252.5h5M525 277.5h5M525 282.5h5M525 287.5h5M525 292.5h5M525 297.5h5M525 302.5h5M525 307.5h5M525 337.5h5M525 342.5h5M590 352.5h5M600 352.5h5M520 357.5h5M585 357.5h5M585 367.5h5M590 372.5h5M600 372.5h5M515 382.5h5M515 387.5h5M510 402.5h5M495 432.5h5M490 437.5h5M485 442.5h5"/><path stroke="#c3c3c3" d="M380 192.5h5M375 197.5h5M370 202.5h5M365 207.5h5M150 212.5h10M360 212.5h5M145 217.5h25M355 217.5h5M150 222.5h30M350 222.5h5M165 227.5h25M340 227.5h5M175 232.5h30M330 232.5h10M530 232.5h5M185 237.5h35M315 237.5h15M530 237.5h5M200 242.5h110M530 242.5h5M225 247.5h45M525 272.5h5M525 312.5h5M525 317.5h5M525 322.5h5M525 327.5h5M525 332.5h5M520 352.5h5M605 357.5h5M585 362.5h5M515 367.5h5M605 367.5h5M515 372.5h5M595 372.5h5M515 377.5h5M510 397.5h5M505 412.5h5M500 422.5h5"/><path stroke="#c4c4c4" d="M380 197.5h5M375 202.5h5M370 207.5h5M365 212.5h5M360 217.5h5M140 222.5h10M355 222.5h5M135 227.5h30M345 227.5h10M145 232.5h30M340 232.5h5M160 237.5h25M330 237.5h5M170 242.5h30M310 242.5h15M185 247.5h40M270 247.5h40M200 252.5h75M525 262.5h5M525 267.5h5M520 342.5h5M520 347.5h5M595 352.5h5M515 357.5h5M515 362.5h5M605 362.5h5M510 392.5h5M495 427.5h5M480 442.5h5"/><path stroke="#c6c6c6" d="M385 192.5h5M375 207.5h5M370 212.5h5M365 217.5h5M360 222.5h5M355 227.5h5M135 232.5h10M345 232.5h5M135 237.5h25M335 237.5h10M140 242.5h30M325 242.5h10M155 247.5h30M310 247.5h15M165 252.5h35M275 252.5h30M525 252.5h5M180 257.5h100M525 257.5h5M190 262.5h65M520 287.5h5M520 292.5h5M520 297.5h5M520 302.5h5M520 307.5h5M520 337.5h5M515 352.5h5M590 367.5h5M510 382.5h5M510 387.5h5M505 407.5h5M500 417.5h5M490 432.5h5M485 437.5h5"/><path stroke="#c7c7c7" d="M390 192.5h5M385 197.5h5M380 202.5h5M370 217.5h5M365 222.5h5M360 227.5h5M525 227.5h5M350 232.5h5M525 232.5h5M345 237.5h5M525 237.5h5M130 242.5h10M335 242.5h10M525 242.5h5M130 247.5h25M325 247.5h10M525 247.5h5M135 252.5h30M305 252.5h20M150 257.5h30M280 257.5h25M160 262.5h30M255 262.5h25M170 267.5h95M185 272.5h60M195 277.5h35M520 277.5h5M520 282.5h5M520 312.5h5M520 317.5h5M520 322.5h5M520 327.5h5M520 332.5h5M515 347.5h5M590 357.5h5M510 362.5h5M510 367.5h5M510 372.5h5M510 377.5h5M505 402.5h5M495 422.5h5M475 442.5h5M470 447.5h5"/><path stroke="#c8c8c8" d="M390 197.5h5M385 202.5h5M380 207.5h5M375 212.5h5M355 232.5h5M350 237.5h5M345 242.5h5M335 247.5h10M125 252.5h10M325 252.5h10M120 257.5h30M305 257.5h15M125 262.5h35M280 262.5h25M145 267.5h25M265 267.5h20M155 272.5h30M245 272.5h25M520 272.5h5M165 277.5h30M230 277.5h30M175 282.5h70M185 287.5h50M195 292.5h30M515 337.5h5M515 342.5h5M510 352.5h5M510 357.5h5M600 357.5h5M590 362.5h5M595 367.5h10M505 397.5h5M500 412.5h5M490 427.5h5M485 432.5h5M480 437.5h5"/><path stroke="#c9c9c9" d="M395 197.5h5M390 202.5h5M385 207.5h5M380 212.5h5M375 217.5h5M370 222.5h5M365 227.5h5M360 232.5h5M355 237.5h5M350 242.5h5M345 247.5h5M335 252.5h10M320 257.5h15M115 262.5h10M305 262.5h20M520 262.5h5M115 267.5h30M285 267.5h20M520 267.5h5M115 272.5h40M270 272.5h20M135 277.5h30M260 277.5h15M150 282.5h25M245 282.5h20M155 287.5h30M235 287.5h25M165 292.5h30M225 292.5h25M170 297.5h75M515 297.5h5M180 302.5h55M515 302.5h5M185 307.5h45M515 307.5h5M195 312.5h25M515 327.5h5M515 332.5h5M510 347.5h5M595 357.5h5M505 387.5h5M505 392.5h5M115 417.5h5M495 417.5h5M115 422.5h10M120 427.5h10M120 432.5h10M470 442.5h5M465 447.5h5"/><path stroke="#cbcbcb" d="M390 207.5h5M385 212.5h5M380 217.5h5M375 222.5h5M370 227.5h5M520 227.5h5M365 232.5h5M520 232.5h5M360 237.5h5M520 237.5h5M355 242.5h5M350 247.5h5M520 247.5h5M345 252.5h5M520 252.5h5M335 257.5h10M520 257.5h5M325 262.5h10M305 267.5h20M290 272.5h20M115 277.5h20M275 277.5h20M115 282.5h35M265 282.5h20M120 287.5h35M260 287.5h15M515 287.5h5M140 292.5h25M250 292.5h15M515 292.5h5M145 297.5h25M245 297.5h15M155 302.5h25M235 302.5h20M160 307.5h25M230 307.5h20M165 312.5h30M220 312.5h25M515 312.5h5M170 317.5h70M515 317.5h5M170 322.5h65M515 322.5h5M175 327.5h60M175 332.5h55M180 337.5h45M185 342.5h35M510 342.5h5M185 347.5h30M195 352.5h10M505 357.5h5M505 362.5h5M595 362.5h10M505 367.5h5M505 372.5h5M505 377.5h5M505 382.5h5M115 392.5h10M115 397.5h25M115 402.5h30M115 407.5h35M500 407.5h5M115 412.5h35M120 417.5h35M125 422.5h30M490 422.5h5M130 427.5h25M130 432.5h25M480 432.5h5M135 437.5h25M475 437.5h5M145 442.5h15M150 447.5h15M460 447.5h5M155 452.5h10M160 457.5h10"/><path stroke="#cccccc" d="M400 197.5h5M395 202.5h5M385 217.5h5M380 222.5h5M375 227.5h5M370 232.5h5M365 237.5h5M360 242.5h5M520 242.5h5M355 247.5h5M350 252.5h5M345 257.5h5M335 262.5h10M325 267.5h10M310 272.5h15M295 277.5h20M285 282.5h15M515 282.5h5M110 287.5h10M275 287.5h15M110 292.5h30M265 292.5h20M105 297.5h40M260 297.5h15M105 302.5h50M255 302.5h15M130 307.5h30M250 307.5h15M140 312.5h25M245 312.5h15M145 317.5h25M240 317.5h20M145 322.5h25M235 322.5h20M150 327.5h25M235 327.5h15M150 332.5h25M230 332.5h20M510 332.5h5M150 337.5h30M225 337.5h20M510 337.5h5M150 342.5h35M220 342.5h25M150 347.5h35M215 347.5h25M505 347.5h5M150 352.5h45M205 352.5h35M505 352.5h5M145 357.5h90M140 362.5h95M105 367.5h130M115 372.5h115M115 377.5h115M120 382.5h110M115 387.5h110M125 392.5h100M140 397.5h80M145 402.5h70M500 402.5h5M150 407.5h55M150 412.5h45M495 412.5h5M155 417.5h35M155 422.5h30M155 427.5h30M485 427.5h5M155 432.5h30M160 437.5h25M235 437.5h10M160 442.5h30M225 442.5h15M465 442.5h5M165 447.5h30M215 447.5h25M165 452.5h70M170 457.5h55M185 462.5h40"/><path stroke="#cdcdcd" d="M400 202.5h5M395 207.5h5M390 212.5h5M515 222.5h5M380 227.5h5M375 232.5h5M370 237.5h5M365 242.5h5M360 247.5h5M355 252.5h5M350 257.5h5M345 262.5h5M335 267.5h10M325 272.5h10M515 272.5h5M315 277.5h15M515 277.5h5M300 282.5h20M290 287.5h20M285 292.5h15M275 297.5h15M270 302.5h15M510 302.5h5M105 307.5h25M265 307.5h15M510 307.5h5M105 312.5h35M260 312.5h15M510 312.5h5M105 317.5h40M260 317.5h10M510 317.5h5M105 322.5h40M255 322.5h15M510 322.5h5M105 327.5h45M250 327.5h15M510 327.5h5M105 332.5h45M250 332.5h15M105 337.5h45M245 337.5h15M505 337.5h5M105 342.5h45M245 342.5h15M505 342.5h5M105 347.5h45M240 347.5h15M105 352.5h45M240 352.5h15M105 357.5h40M235 357.5h20M500 357.5h5M105 362.5h35M235 362.5h15M500 362.5h5M235 367.5h15M500 367.5h5M230 372.5h20M230 377.5h20M230 382.5h20M225 387.5h25M225 392.5h25M220 397.5h30M500 397.5h5M215 402.5h35M205 407.5h50M195 412.5h60M190 417.5h65M490 417.5h5M185 422.5h75M185 427.5h80M185 432.5h80M475 432.5h5M185 437.5h50M470 437.5h5M190 442.5h35M195 447.5h20M455 447.5h5"/><path stroke="#cfcfcf" d="M405 202.5h5M400 207.5h5M395 212.5h5M390 217.5h5M385 222.5h5M515 227.5h5M515 232.5h5M375 237.5h5M370 242.5h5M365 247.5h5M360 252.5h5M355 257.5h5M350 262.5h5M345 267.5h5M515 267.5h5M335 272.5h10M330 277.5h10M320 282.5h10M310 287.5h15M300 292.5h15M510 292.5h5M290 297.5h15M510 297.5h5M285 302.5h15M280 307.5h15M275 312.5h15M270 317.5h15M270 322.5h10M265 327.5h15M505 327.5h5M265 332.5h10M505 332.5h5M260 337.5h15M260 342.5h10M255 347.5h15M500 347.5h5M255 352.5h10M500 352.5h5M255 357.5h10M250 362.5h15M250 367.5h15M250 372.5h15M500 372.5h5M250 377.5h10M500 377.5h5M250 382.5h10M500 382.5h5M250 387.5h10M500 387.5h5M250 392.5h15M500 392.5h5M250 397.5h15M250 402.5h15M255 407.5h10M495 407.5h5M255 412.5h15M255 417.5h15M260 422.5h15M485 422.5h5M265 427.5h10M480 427.5h5M265 432.5h15M270 437.5h15M465 437.5h5M460 442.5h5"/><path stroke="#d0d0d0" d="M395 217.5h5M390 222.5h5M385 227.5h5M380 232.5h5M515 237.5h5M375 242.5h5M515 242.5h5M370 247.5h5M515 247.5h5M365 252.5h5M515 252.5h5M360 257.5h5M515 257.5h5M355 262.5h10M515 262.5h5M350 267.5h10M345 272.5h10M340 277.5h5M330 282.5h10M325 287.5h10M510 287.5h5M315 292.5h10M305 297.5h15M300 302.5h15M295 307.5h10M505 307.5h5M290 312.5h10M505 312.5h5M285 317.5h10M505 317.5h5M280 322.5h15M505 322.5h5M280 327.5h10M275 332.5h10M275 337.5h10M500 337.5h5M270 342.5h10M500 342.5h5M270 347.5h10M265 352.5h10M265 357.5h10M495 357.5h5M265 362.5h10M265 367.5h10M265 372.5h5M260 377.5h10M260 382.5h10M260 387.5h10M265 392.5h5M265 397.5h10M265 402.5h10M495 402.5h5M265 407.5h10M270 412.5h5M490 412.5h5M270 417.5h10M275 422.5h5M275 427.5h10M280 432.5h10M470 432.5h5M285 437.5h5M455 442.5h5M450 447.5h5"/><path stroke="#d1d1d1" d="M410 202.5h5M405 207.5h5M400 212.5h5M510 222.5h5M390 227.5h5M385 232.5h5M380 237.5h5M375 247.5h5M370 252.5h5M365 257.5h5M365 262.5h5M360 267.5h5M355 272.5h5M345 277.5h10M340 282.5h10M510 282.5h5M335 287.5h5M325 292.5h10M320 297.5h10M315 302.5h10M505 302.5h5M305 307.5h15M300 312.5h10M295 317.5h10M295 322.5h10M500 322.5h5M290 327.5h10M500 327.5h5M285 332.5h10M500 332.5h5M285 337.5h5M280 342.5h10M495 342.5h5M280 347.5h5M495 347.5h5M275 352.5h10M495 352.5h5M275 357.5h10M275 362.5h5M495 362.5h5M275 367.5h5M495 367.5h5M270 372.5h10M495 372.5h5M270 377.5h10M495 377.5h5M270 382.5h10M270 387.5h10M270 392.5h10M275 397.5h5M495 397.5h5M275 402.5h5M275 407.5h10M275 412.5h10M280 417.5h5M485 417.5h5M280 422.5h10M480 422.5h5M285 427.5h5M475 427.5h5M290 432.5h5M290 437.5h10M460 437.5h5"/><path stroke="#d2d2d2" d="M410 207.5h5M405 212.5h5M400 217.5h5M395 222.5h5M510 227.5h5M510 232.5h5M385 237.5h5M380 242.5h5M375 252.5h5M370 257.5h5M370 262.5h5M365 267.5h5M360 272.5h5M355 277.5h5M510 277.5h5M350 282.5h5M340 287.5h10M335 292.5h10M330 297.5h10M505 297.5h5M325 302.5h5M320 307.5h5M310 312.5h10M500 312.5h5M305 317.5h10M500 317.5h5M305 322.5h5M300 327.5h5M495 327.5h5M295 332.5h10M495 332.5h5M290 337.5h10M495 337.5h5M290 342.5h5M285 347.5h10M285 352.5h5M490 352.5h5M285 357.5h5M490 357.5h5M280 362.5h10M280 367.5h5M280 372.5h5M280 377.5h5M280 382.5h5M495 382.5h5M280 387.5h5M495 387.5h5M280 392.5h5M495 392.5h5M280 397.5h5M280 402.5h10M285 407.5h5M490 407.5h5M285 412.5h5M285 417.5h10M290 422.5h5M290 427.5h10M470 427.5h5M295 432.5h5M465 432.5h5M450 442.5h5"/><path stroke="#d4d4d4" d="M400 222.5h5M505 222.5h5M395 227.5h5M390 232.5h5M510 237.5h5M385 242.5h5M380 247.5h5M380 252.5h5M375 257.5h5M370 267.5h5M510 267.5h5M365 272.5h5M510 272.5h5M360 277.5h5M355 282.5h5M350 287.5h5M345 292.5h5M505 292.5h5M340 297.5h5M330 302.5h10M500 302.5h5M325 307.5h10M500 307.5h5M320 312.5h10M315 317.5h10M495 317.5h5M310 322.5h10M495 322.5h5M305 327.5h10M305 332.5h5M300 337.5h5M490 337.5h5M295 342.5h10M490 342.5h5M295 347.5h5M490 347.5h5M290 352.5h10M290 357.5h5M290 362.5h5M490 362.5h5M285 367.5h10M490 367.5h5M285 372.5h5M490 372.5h5M285 377.5h5M285 382.5h5M285 387.5h5M285 392.5h5M285 397.5h5M290 402.5h5M490 402.5h5M290 407.5h5M290 412.5h5M485 412.5h5M295 417.5h5M480 417.5h5M295 422.5h5M475 422.5h5M300 427.5h5M300 432.5h10M455 437.5h5"/><path stroke="#d5d5d5" d="M415 207.5h5M410 212.5h5M405 217.5h5M500 217.5h5M505 227.5h5M395 232.5h5M390 237.5h5M510 242.5h5M385 247.5h5M510 247.5h5M510 252.5h5M380 257.5h5M510 257.5h5M375 262.5h5M510 262.5h5M375 267.5h5M370 272.5h5M365 277.5h5M360 282.5h10M355 287.5h10M505 287.5h5M350 292.5h10M345 297.5h5M340 302.5h5M335 307.5h5M330 312.5h5M495 312.5h5M325 317.5h5M320 322.5h5M490 322.5h5M315 327.5h5M490 327.5h5M310 332.5h5M490 332.5h5M305 337.5h5M305 342.5h5M300 347.5h5M485 347.5h5M300 352.5h5M485 352.5h5M295 357.5h5M485 357.5h5M295 362.5h5M485 362.5h5M295 367.5h5M290 372.5h5M290 377.5h5M490 377.5h5M290 382.5h5M490 382.5h5M290 387.5h5M290 392.5h5M490 392.5h5M290 397.5h5M490 397.5h5M295 402.5h5M295 407.5h5M485 407.5h5M295 412.5h5M300 417.5h5M300 422.5h5M305 427.5h5M465 427.5h5M460 432.5h5M445 442.5h5"/><path stroke="#d6d6d6" d="M415 212.5h5M410 217.5h5M405 222.5h5M400 227.5h5M395 237.5h5M390 242.5h5M385 252.5h5M380 262.5h5M375 272.5h5M370 277.5h5M370 282.5h5M505 282.5h5M365 287.5h5M360 292.5h5M350 297.5h10M500 297.5h5M345 302.5h5M340 307.5h5M495 307.5h5M335 312.5h5M330 317.5h5M490 317.5h5M325 322.5h5M320 327.5h5M315 332.5h5M485 332.5h5M310 337.5h5M485 337.5h5M310 342.5h5M485 342.5h5M305 347.5h5M305 352.5h5M300 357.5h5M300 362.5h5M485 367.5h5M295 372.5h5M485 372.5h5M295 377.5h5M295 382.5h5M295 387.5h5M490 387.5h5M295 392.5h5M295 397.5h5M300 407.5h5M300 412.5h5M480 412.5h5M305 417.5h5M475 417.5h5M305 422.5h5M470 422.5h5M310 427.5h5M455 432.5h5M450 437.5h5M440 442.5h5"/><path stroke="#d7d7d7" d="M500 222.5h5M400 232.5h5M505 232.5h5M395 242.5h5M390 247.5h5M390 252.5h5M385 257.5h5M385 262.5h5M380 267.5h5M380 272.5h5M375 277.5h5M505 277.5h5M375 282.5h5M370 287.5h5M365 292.5h5M500 292.5h5M360 297.5h5M350 302.5h10M495 302.5h5M345 307.5h5M340 312.5h5M490 312.5h5M335 317.5h5M330 322.5h5M485 322.5h5M325 327.5h5M485 327.5h5M320 332.5h5M315 337.5h5M315 342.5h5M480 342.5h5M310 347.5h5M480 347.5h5M480 352.5h5M305 357.5h5M480 357.5h5M305 362.5h5M480 362.5h5M300 367.5h5M300 372.5h5M300 377.5h5M485 377.5h5M300 382.5h5M485 382.5h5M300 387.5h5M300 392.5h5M300 397.5h5M485 397.5h5M300 402.5h5M485 402.5h5M305 407.5h5M480 407.5h5M305 412.5h5M310 422.5h5M465 422.5h5M460 427.5h5M445 437.5h5"/><path stroke="#d9d9d9" d="M420 212.5h5M415 217.5h5M495 217.5h5M410 222.5h5M405 227.5h5M500 227.5h5M400 237.5h5M505 237.5h5M395 247.5h5M390 257.5h5M385 267.5h5M385 272.5h5M505 272.5h5M380 277.5h5M380 282.5h5M375 287.5h5M500 287.5h5M370 292.5h5M365 297.5h5M495 297.5h5M360 302.5h5M350 307.5h10M490 307.5h5M345 312.5h5M340 317.5h5M485 317.5h5M335 322.5h5M330 327.5h5M480 327.5h5M325 332.5h5M480 332.5h5M320 337.5h5M480 337.5h5M315 347.5h5M310 352.5h5M310 357.5h5M305 367.5h5M480 367.5h5M305 372.5h5M480 372.5h5M305 377.5h5M305 382.5h5M305 387.5h5M485 387.5h5M305 392.5h5M485 392.5h5M305 397.5h5M305 402.5h5M310 412.5h5M475 412.5h5M310 417.5h5M470 417.5h5M315 422.5h5M455 427.5h5M450 432.5h5M435 442.5h5"/><path stroke="#dadada" d="M425 212.5h5M495 222.5h5M410 227.5h5M405 232.5h5M400 242.5h5M505 242.5h5M505 247.5h5M395 252.5h5M390 262.5h5M390 267.5h5M505 267.5h5M385 277.5h5M385 282.5h5M380 287.5h5M375 292.5h5M370 297.5h5M365 302.5h5M490 302.5h5M360 307.5h5M350 312.5h5M485 312.5h5M345 317.5h5M480 317.5h5M340 322.5h5M480 322.5h5M335 327.5h5M330 332.5h5M325 337.5h5M475 337.5h5M320 342.5h5M475 342.5h5M320 347.5h5M475 347.5h5M315 352.5h5M475 352.5h5M475 357.5h5M310 362.5h5M475 362.5h5M310 367.5h5M475 367.5h5M310 372.5h5M480 377.5h5M480 382.5h5M310 397.5h5M480 397.5h5M310 402.5h5M480 402.5h5M310 407.5h5M475 407.5h5M315 412.5h5M470 412.5h5M315 417.5h5M465 417.5h5M460 422.5h5M440 437.5h5"/><path stroke="#dbdbdb" d="M430 212.5h5M420 217.5h5M490 217.5h5M415 222.5h5M500 232.5h5M405 237.5h5M400 247.5h5M505 252.5h5M395 257.5h5M505 257.5h5M395 262.5h5M505 262.5h5M390 272.5h5M390 277.5h5M500 282.5h5M385 287.5h5M380 292.5h10M495 292.5h5M375 297.5h10M370 302.5h10M365 307.5h5M485 307.5h5M355 312.5h10M480 312.5h5M350 317.5h5M345 322.5h5M475 322.5h5M340 327.5h5M475 327.5h5M335 332.5h5M475 332.5h5M330 337.5h5M325 342.5h5M470 347.5h5M320 352.5h5M470 352.5h5M315 357.5h5M470 357.5h5M315 362.5h5M470 362.5h5M470 367.5h5M475 372.5h5M310 377.5h5M475 377.5h5M310 382.5h5M310 387.5h5M480 387.5h5M310 392.5h5M480 392.5h5M475 402.5h5M315 407.5h5M470 407.5h5M465 412.5h5M320 417.5h5M460 417.5h5M455 422.5h5M450 427.5h5M445 432.5h5"/><path stroke="#dddddd" d="M425 217.5h5M420 222.5h5M415 227.5h5M495 227.5h5M410 232.5h5M500 237.5h5M405 242.5h5M400 252.5h5M395 267.5h5M395 272.5h5M395 277.5h5M500 277.5h5M390 282.5h5M390 287.5h5M390 292.5h5M385 297.5h5M490 297.5h5M380 302.5h5M370 307.5h10M365 312.5h5M355 317.5h5M475 317.5h5M350 322.5h5M470 327.5h5M470 332.5h5M470 337.5h5M330 342.5h5M470 342.5h5M325 347.5h5M465 347.5h5M465 352.5h5M320 357.5h5M465 357.5h5M465 362.5h5M315 367.5h5M465 367.5h5M315 372.5h5M470 372.5h5M315 377.5h5M470 377.5h5M315 382.5h5M475 382.5h5M315 387.5h5M475 387.5h5M315 392.5h5M475 392.5h5M315 397.5h5M475 397.5h5M315 402.5h5M470 402.5h5M320 412.5h5M435 437.5h5"/><path stroke="#dedede" d="M485 217.5h5M490 222.5h5M410 237.5h5M500 242.5h5M405 247.5h5M400 257.5h5M400 262.5h5M395 282.5h5M395 287.5h5M495 287.5h5M395 292.5h5M390 297.5h5M385 302.5h10M485 302.5h5M380 307.5h5M480 307.5h5M370 312.5h5M475 312.5h5M360 317.5h5M470 317.5h5M355 322.5h5M470 322.5h5M345 327.5h5M340 332.5h5M465 332.5h5M335 337.5h5M465 337.5h5M465 342.5h5M330 347.5h5M325 352.5h5M460 352.5h5M460 357.5h5M320 362.5h5M460 362.5h5M320 367.5h5M465 372.5h5M465 377.5h5M470 382.5h5M470 387.5h5M470 392.5h5M470 397.5h5M320 402.5h5M465 402.5h5M320 407.5h5M465 407.5h5M325 412.5h5M460 412.5h5M455 417.5h5M450 422.5h5M445 427.5h5M440 432.5h5M430 437.5h5"/><path stroke="#dfdfdf" d="M430 217.5h5M480 217.5h5M425 222.5h5M420 227.5h5M415 232.5h5M495 232.5h5M410 242.5h5M500 247.5h5M405 252.5h5M400 267.5h5M400 272.5h5M500 272.5h5M400 277.5h5M400 282.5h5M400 287.5h5M400 292.5h5M490 292.5h5M395 297.5h10M395 302.5h5M385 307.5h10M375 312.5h10M365 317.5h10M360 322.5h5M465 322.5h5M350 327.5h5M460 327.5h10M345 332.5h5M460 332.5h5M340 337.5h5M460 337.5h5M335 342.5h5M460 342.5h5M455 347.5h10M330 352.5h5M455 352.5h5M325 357.5h5M455 357.5h5M325 362.5h5M455 362.5h5M460 367.5h5M320 372.5h5M460 372.5h5M320 377.5h5M460 377.5h5M320 382.5h5M465 382.5h5M320 387.5h5M465 387.5h5M320 392.5h5M465 392.5h5M320 397.5h5M465 397.5h5M325 407.5h5M460 407.5h5"/><path stroke="#e0e0e0" d="M485 222.5h5M490 227.5h5M415 237.5h5M495 237.5h5M410 247.5h5M500 252.5h5M405 257.5h5M500 257.5h5M405 262.5h5M500 262.5h5M405 267.5h5M500 267.5h5M495 282.5h5M405 287.5h5M405 292.5h5M405 297.5h5M485 297.5h5M400 302.5h10M480 302.5h5M395 307.5h10M475 307.5h5M385 312.5h15M470 312.5h5M375 317.5h10M465 317.5h5M365 322.5h5M460 322.5h5M355 327.5h5M455 327.5h5M350 332.5h5M450 332.5h10M345 337.5h5M450 337.5h10M340 342.5h5M450 342.5h10M335 347.5h5M450 347.5h5M450 352.5h5M330 357.5h5M450 357.5h5M450 362.5h5M325 367.5h5M455 367.5h5M455 372.5h5M460 382.5h5M460 387.5h5M460 392.5h5M325 397.5h5M460 397.5h5M325 402.5h5M460 402.5h5M455 412.5h5M450 417.5h5M445 422.5h5M440 427.5h5M435 432.5h5M425 437.5h5"/><path stroke="#e2e2e2" d="M475 217.5h5M430 222.5h5M425 227.5h5M420 232.5h5M410 252.5h5M405 272.5h5M405 277.5h5M405 282.5h5M490 287.5h5M410 292.5h5M410 297.5h5M410 302.5h5M405 307.5h15M470 307.5h5M400 312.5h20M465 312.5h5M385 317.5h20M455 317.5h10M370 322.5h5M440 322.5h20M360 327.5h5M435 327.5h20M435 332.5h15M440 337.5h10M440 342.5h10M440 347.5h10M335 352.5h5M445 352.5h5M445 357.5h5M330 362.5h5M450 367.5h5M325 372.5h5M450 372.5h5M325 377.5h5M455 377.5h5M325 382.5h5M455 382.5h5M325 387.5h5M455 387.5h5M325 392.5h5M455 402.5h5M330 407.5h5M455 407.5h5M430 432.5h5"/><path stroke="#e3e3e3" d="M465 217.5h10M435 222.5h5M480 222.5h5M485 227.5h5M490 232.5h5M420 237.5h5M415 242.5h5M495 242.5h5M410 257.5h5M410 262.5h5M410 272.5h5M410 277.5h5M495 277.5h5M410 282.5h5M410 287.5h5M485 292.5h5M415 297.5h5M480 297.5h5M415 302.5h10M475 302.5h5M420 307.5h10M465 307.5h5M420 312.5h20M450 312.5h15M405 317.5h50M375 322.5h15M405 322.5h35M365 327.5h5M420 327.5h15M355 332.5h5M425 332.5h10M350 337.5h5M430 337.5h10M345 342.5h5M435 342.5h5M340 347.5h5M435 347.5h5M440 352.5h5M335 357.5h5M440 357.5h5M445 362.5h5M330 367.5h5M445 367.5h5M330 372.5h5M450 377.5h5M450 382.5h5M455 392.5h5M330 397.5h5M455 397.5h5M330 402.5h5M450 412.5h5M445 417.5h5M435 427.5h5M425 432.5h5"/><path stroke="#e4e4e4" d="M440 222.5h5M475 222.5h5M430 227.5h5M425 232.5h5M415 247.5h5M495 247.5h5M410 267.5h5M495 272.5h5M415 287.5h5M415 292.5h5M420 297.5h5M425 302.5h5M470 302.5h5M430 307.5h10M460 307.5h5M440 312.5h10M390 322.5h15M370 327.5h10M405 327.5h15M360 332.5h5M415 332.5h10M355 337.5h5M425 337.5h5M430 342.5h5M345 347.5h5M430 347.5h5M340 352.5h5M435 352.5h5M435 357.5h5M335 362.5h5M440 362.5h5M445 372.5h5M330 377.5h5M445 377.5h5M330 382.5h5M330 387.5h5M450 387.5h5M330 392.5h5M450 392.5h5M450 397.5h5M335 402.5h5M450 402.5h5M450 407.5h5M440 422.5h5M420 432.5h5"/><path stroke="#e6e6e6" d="M445 222.5h5M470 222.5h5M435 227.5h5M480 227.5h5M485 232.5h5M490 237.5h5M420 242.5h5M415 252.5h5M495 252.5h5M415 257.5h5M495 257.5h5M495 262.5h5M495 267.5h5M415 277.5h5M415 282.5h5M490 282.5h5M420 292.5h5M425 297.5h5M475 297.5h5M430 302.5h5M465 302.5h5M440 307.5h20M380 327.5h25M365 332.5h5M410 332.5h5M420 337.5h5M350 342.5h5M425 342.5h5M425 347.5h5M430 352.5h5M340 357.5h5M435 362.5h5M335 367.5h5M440 367.5h5M440 372.5h5M445 382.5h5M335 397.5h5M445 412.5h5M430 427.5h5"/><path stroke="#e7e7e7" d="M450 222.5h20M430 232.5h5M425 237.5h5M490 242.5h5M420 247.5h5M415 262.5h5M415 267.5h5M415 272.5h5M420 287.5h5M485 287.5h5M425 292.5h5M480 292.5h5M430 297.5h5M435 302.5h10M460 302.5h5M370 332.5h10M400 332.5h10M360 337.5h5M410 337.5h10M355 342.5h5M420 342.5h5M350 347.5h5M345 352.5h5M425 352.5h5M430 357.5h5M340 362.5h5M435 367.5h5M335 372.5h5M335 377.5h5M440 377.5h5M335 382.5h5M335 387.5h5M445 387.5h5M335 392.5h5M445 392.5h5M445 402.5h5M445 407.5h5M440 417.5h5M435 422.5h5M425 427.5h5"/><path stroke="#e8e8e8" d="M440 227.5h5M475 227.5h5M485 237.5h5M425 242.5h5M420 252.5h5M420 277.5h5M490 277.5h5M420 282.5h5M425 287.5h5M430 292.5h5M435 297.5h5M470 297.5h5M445 302.5h15M380 332.5h20M365 337.5h5M405 337.5h5M360 342.5h5M415 342.5h5M420 347.5h5M345 357.5h5M425 357.5h5M430 362.5h5M340 367.5h5M435 372.5h5M440 382.5h5M340 397.5h5M445 397.5h5M440 412.5h5M430 422.5h5M420 427.5h5"/><path stroke="#e9e9e9" d="M445 227.5h5M470 227.5h5M435 232.5h5M480 232.5h5M430 237.5h5M425 247.5h5M490 247.5h5M420 257.5h5M420 262.5h5M420 267.5h5M420 272.5h5M490 272.5h5M425 282.5h5M485 282.5h5M475 292.5h5M440 297.5h5M465 297.5h5M370 337.5h10M400 337.5h5M410 342.5h5M355 347.5h5M415 347.5h5M350 352.5h5M420 352.5h5M345 362.5h5M430 367.5h5M340 372.5h5M340 377.5h5M435 377.5h5M340 382.5h5M340 387.5h5M440 387.5h5M340 392.5h5M440 407.5h5M435 417.5h5M415 427.5h5"/><path stroke="#ebebeb" d="M450 227.5h20M440 232.5h5M475 232.5h5M430 242.5h5M485 242.5h5M425 252.5h5M490 252.5h5M490 267.5h5M425 277.5h5M430 287.5h5M480 287.5h5M435 292.5h5M445 297.5h20M380 337.5h20M365 342.5h5M405 342.5h5M360 347.5h5M410 347.5h5M350 357.5h5M420 357.5h5M425 362.5h5M345 367.5h5M430 372.5h5M435 382.5h5M440 392.5h5M345 397.5h5M440 397.5h5M440 402.5h5M435 412.5h5M425 422.5h5"/><path stroke="#ececec" d="M445 232.5h5M435 237.5h5M480 237.5h5M425 257.5h5M490 257.5h5M425 262.5h5M490 262.5h5M425 267.5h5M425 272.5h5M485 277.5h5M430 282.5h5M440 292.5h5M470 292.5h5M370 342.5h5M400 342.5h5M355 352.5h5M415 352.5h5M420 362.5h5M425 367.5h5M345 372.5h5M345 377.5h5M430 377.5h5M345 387.5h5M435 387.5h5M345 392.5h5M430 417.5h5M410 422.5h15"/><path stroke="#ededed" d="M450 232.5h5M470 232.5h5M440 237.5h5M430 247.5h5M485 247.5h5M430 277.5h5M480 282.5h5M435 287.5h5M475 287.5h5M445 292.5h5M465 292.5h5M375 342.5h25M365 347.5h5M405 347.5h5M360 352.5h5M410 352.5h5M355 357.5h5M415 357.5h5M350 362.5h5M425 372.5h5M345 382.5h5M430 382.5h5M435 392.5h5M350 397.5h5M435 397.5h5M435 402.5h5M435 407.5h5M430 412.5h5M425 417.5h5"/><path stroke="#eeeeee" d="M455 232.5h15M475 237.5h5M435 242.5h5M480 242.5h5M430 252.5h5M485 252.5h5M430 272.5h5M485 272.5h5M435 282.5h5M440 287.5h5M450 292.5h15M370 347.5h5M400 347.5h5M415 362.5h5M350 367.5h5M420 367.5h5M350 372.5h5M425 377.5h5M430 387.5h5M350 392.5h5M430 407.5h5M400 417.5h25"/><path stroke="#f0f0f0" d="M445 237.5h5M470 237.5h5M440 242.5h5M435 247.5h5M430 257.5h5M485 257.5h5M430 262.5h5M430 267.5h5M485 267.5h5M445 287.5h5M470 287.5h5M375 347.5h10M390 347.5h10M365 352.5h5M405 352.5h5M360 357.5h5M410 357.5h5M355 362.5h5M420 372.5h5M350 377.5h5M420 377.5h5M350 382.5h5M425 382.5h5M350 387.5h5M425 387.5h5M430 392.5h5M355 397.5h5M430 397.5h5M430 402.5h5M420 412.5h10"/><path stroke="#f1f1f1" d="M450 237.5h5M465 237.5h5M475 242.5h5M480 247.5h5M435 252.5h5M485 262.5h5M435 277.5h5M480 277.5h5M440 282.5h5M475 282.5h5M450 287.5h5M465 287.5h5M385 347.5h5M370 352.5h5M400 352.5h5M405 357.5h5M410 362.5h5M355 367.5h5M415 367.5h5M420 382.5h5M355 392.5h5M425 392.5h5M425 397.5h5M425 402.5h5M420 407.5h10M400 412.5h20"/><path stroke="#f2f2f2" d="M455 237.5h10M445 242.5h5M440 247.5h5M435 257.5h5M435 267.5h5M435 272.5h5M480 272.5h5M455 287.5h10M375 352.5h5M395 352.5h5M365 357.5h5M360 362.5h5M355 372.5h5M415 372.5h5M355 377.5h5M415 377.5h5M355 382.5h5M355 387.5h5M420 387.5h5M420 392.5h5M360 397.5h5M420 397.5h5M420 402.5h5M405 407.5h15"/><path stroke="#f4f4f4" d="M450 242.5h5M470 242.5h5M475 247.5h5M480 252.5h5M435 262.5h5M440 277.5h5M475 277.5h5M445 282.5h5M470 282.5h5M380 352.5h15M370 357.5h5M400 357.5h5M365 362.5h5M405 362.5h5M360 367.5h5M410 367.5h5M415 382.5h5M415 387.5h5M360 392.5h5M415 392.5h5M415 397.5h5M410 402.5h10M395 407.5h10"/><path stroke="#f5f5f5" d="M455 242.5h15M445 247.5h5M440 252.5h5M480 257.5h5M480 262.5h5M480 267.5h5M440 272.5h5M450 282.5h5M465 282.5h5M375 357.5h5M395 357.5h5M360 372.5h5M410 372.5h5M360 377.5h5M410 377.5h5M360 382.5h5M360 387.5h5M410 387.5h5M410 392.5h5M365 397.5h5M410 397.5h5M400 402.5h10"/><path stroke="#f6f6f6" d="M450 247.5h5M470 247.5h5M475 252.5h5M440 257.5h5M440 262.5h5M440 267.5h5M475 272.5h5M445 277.5h5M455 282.5h10M380 357.5h15M370 362.5h5M400 362.5h5M365 367.5h5M405 367.5h5M410 382.5h5M365 392.5h5M405 392.5h5M370 397.5h5M405 397.5h5M380 402.5h5M390 402.5h10"/><path stroke="#f7f7f7" d="M455 247.5h5M465 247.5h5M445 252.5h5M475 257.5h5M475 267.5h5M445 272.5h5M450 277.5h5M470 277.5h5M375 362.5h5M395 362.5h5M370 367.5h5M400 367.5h5M365 372.5h5M405 372.5h5M365 377.5h5M405 377.5h5M365 382.5h5M405 382.5h5M365 387.5h5M405 387.5h5M400 397.5h5M385 402.5h5"/><path stroke="#f9f9f9" d="M460 247.5h5M450 252.5h5M470 252.5h5M445 257.5h5M445 262.5h5M475 262.5h5M445 267.5h5M470 272.5h5M455 277.5h15M380 362.5h15M400 372.5h5M370 392.5h5M400 392.5h5M375 397.5h25"/><path stroke="#fafafa" d="M455 252.5h15M450 257.5h5M470 257.5h5M470 267.5h5M450 272.5h5M375 367.5h5M395 367.5h5M370 372.5h5M370 377.5h5M400 377.5h5M370 382.5h5M400 382.5h5M370 387.5h5M400 387.5h5M375 392.5h5M395 392.5h5"/><path stroke="#fbfbfb" d="M455 257.5h5M465 257.5h5M450 262.5h5M470 262.5h5M450 267.5h5M455 272.5h15M380 367.5h15M375 372.5h5M395 372.5h5M375 377.5h5M395 377.5h5M375 382.5h5M395 382.5h5M375 387.5h5M395 387.5h5M380 392.5h15"/><path stroke="#fcfcfc" d="M460 257.5h5M455 262.5h15M455 267.5h15M380 372.5h15M380 377.5h5M390 377.5h5M380 382.5h5M390 382.5h5M380 387.5h15"/><path stroke="#fefefe" d="M385 377.5h5M385 382.5h5"/></g><g id="fld1" fill="none" stroke-width="5.8" stroke-linecap="square"><path stroke="#000000" d="M755 647.5h10M740 652.5h30M730 657.5h45M725 662.5h55M720 667.5h60M715 672.5h65M715 677.5h70M710 682.5h85M710 687.5h85M710 692.5h85M710 697.5h85M710 702.5h85M710 707.5h10M725 707.5h70M710 712.5h10M745 712.5h45M710 717.5h5M750 717.5h40M755 722.5h35"/><path stroke="#010101" d="M750 647.5h5M705 697.5h5M705 702.5h5M705 707.5h5"/><path stroke="#030303" d="M735 652.5h5M710 677.5h5M705 692.5h5M705 712.5h5M705 717.5h5"/><path stroke="#040404" d="M745 647.5h5M725 657.5h5M720 662.5h5M715 667.5h5M705 687.5h5"/><path stroke="#050505" d="M740 647.5h5M730 652.5h5"/><path stroke="#060606" d="M710 672.5h5M705 682.5h5"/><path stroke="#080808" d="M750 642.5h10M735 647.5h5M720 657.5h5M715 662.5h5M700 697.5h5M700 702.5h5M700 707.5h5M700 712.5h5"/><path stroke="#090909" d="M725 652.5h5M710 667.5h5M705 677.5h5M700 692.5h5M700 717.5h5"/><path stroke="#0a0a0a" d="M745 642.5h5M700 687.5h5"/><path stroke="#0b0b0b" d="M740 642.5h5M730 647.5h5M705 672.5h5"/><path stroke="#0d0d0d" d="M760 637.5h5M720 652.5h5M715 657.5h5M710 662.5h5M700 682.5h5"/><path stroke="#0e0e0e" d="M755 637.5h5M735 642.5h5M725 647.5h5M700 677.5h5M695 697.5h5M695 702.5h5M695 707.5h5M695 712.5h5M695 717.5h5"/><path stroke="#0f0f0f" d="M750 637.5h5M705 667.5h5M695 692.5h5"/><path stroke="#111111" d="M745 637.5h5M730 642.5h5M700 672.5h5M695 687.5h5"/><path stroke="#121212" d="M740 637.5h5M720 647.5h5M715 652.5h5M710 657.5h5M705 662.5h5M695 682.5h5"/><path stroke="#131313" d="M690 707.5h5M690 712.5h5"/><path stroke="#141414" d="M755 632.5h10M735 637.5h5M725 642.5h5M700 667.5h5M695 677.5h5M690 697.5h5M690 702.5h5M690 717.5h5"/><path stroke="#161616" d="M750 632.5h5M715 647.5h5M710 652.5h5M705 657.5h5M690 692.5h5"/><path stroke="#171717" d="M745 632.5h5M730 637.5h5M720 642.5h5M700 662.5h5M695 672.5h5M690 687.5h5"/><path stroke="#181818" d="M740 632.5h5M690 682.5h5"/><path stroke="#1a1a1a" d="M725 637.5h5M695 667.5h5M685 702.5h5M685 707.5h5M685 712.5h5M685 717.5h5"/><path stroke="#1b1b1b" d="M755 627.5h15M735 632.5h5M715 642.5h5M710 647.5h5M705 652.5h5M700 657.5h5M690 677.5h5M685 697.5h5"/><path stroke="#1c1c1c" d="M750 627.5h5M730 632.5h5M685 692.5h5"/><path stroke="#1d1d1d" d="M745 627.5h5M720 637.5h5M695 662.5h5M690 672.5h5M685 687.5h5"/><path stroke="#1f1f1f" d="M740 627.5h5M725 632.5h5M710 642.5h5M705 647.5h5M700 652.5h5M685 682.5h5"/><path stroke="#202020" d="M735 627.5h5M715 637.5h5M695 657.5h5M690 667.5h5M685 677.5h5M680 702.5h5M680 707.5h5M680 712.5h5M680 717.5h5M680 722.5h5"/><path stroke="#212121" d="M755 622.5h15M680 697.5h5"/><path stroke="#222222" d="M745 622.5h10M730 627.5h5M720 632.5h5M705 642.5h5M700 647.5h5M690 662.5h5M685 672.5h5M680 692.5h5"/><path stroke="#242424" d="M710 637.5h5M695 652.5h5M680 687.5h5"/><path stroke="#252525" d="M740 622.5h5M725 627.5h5M715 632.5h5M690 657.5h5M685 667.5h5M680 682.5h5"/><path stroke="#262626" d="M735 622.5h5M680 677.5h5M675 702.5h5M675 707.5h5M675 712.5h5M675 717.5h5M675 722.5h5"/><path stroke="#282828" d="M750 617.5h25M730 622.5h5M720 627.5h5M705 637.5h5M700 642.5h5M695 647.5h5M685 662.5h5M680 672.5h5M675 692.5h5M675 697.5h5"/><path stroke="#292929" d="M745 617.5h5M710 632.5h5M690 652.5h5M675 687.5h5"/><path stroke="#2a2a2a" d="M740 617.5h5M725 622.5h5M715 627.5h5M685 657.5h5M680 667.5h5M675 682.5h5"/><path stroke="#2b2b2b" d="M735 617.5h5M705 632.5h5M700 637.5h5M695 642.5h5M690 647.5h5M675 677.5h5M670 712.5h5M670 717.5h5M670 722.5h5"/><path stroke="#2d2d2d" d="M760 612.5h20M730 617.5h5M720 622.5h5M710 627.5h5M680 662.5h5M670 702.5h5M670 707.5h5M670 727.5h5M670 732.5h5"/><path stroke="#2e2e2e" d="M750 612.5h10M685 652.5h5M675 672.5h5M670 692.5h5M670 697.5h5"/><path stroke="#2f2f2f" d="M740 612.5h10M725 617.5h5M715 622.5h5M700 632.5h5M695 637.5h5M690 642.5h5M680 657.5h5M675 667.5h5M670 687.5h5"/><path stroke="#303030" d="M735 612.5h5M705 627.5h5M685 647.5h5M670 682.5h5"/><path stroke="#323232" d="M730 612.5h5M720 617.5h5M710 622.5h5M680 652.5h5M675 662.5h5M670 677.5h5M665 707.5h5M665 712.5h5M665 717.5h5M665 722.5h5M665 727.5h5M665 732.5h5"/><path stroke="#333333" d="M655 487.5h5M750 607.5h30M715 617.5h5M700 627.5h5M695 632.5h5M690 637.5h5M685 642.5h5M670 672.5h5M665 697.5h5M665 702.5h5"/><path stroke="#343434" d="M650 482.5h10M650 487.5h5M660 487.5h5M650 492.5h10M740 607.5h10M725 612.5h5M705 622.5h5M680 647.5h5M675 657.5h5M670 667.5h5M665 687.5h5M665 692.5h5"/><path stroke="#363636" d="M650 477.5h10M645 482.5h5M660 482.5h5M645 487.5h5M645 492.5h5M660 492.5h5M735 607.5h5M720 612.5h5M710 617.5h5M665 682.5h5"/><path stroke="#373737" d="M660 477.5h5M665 487.5h5M650 497.5h10M730 607.5h5M700 622.5h5M695 627.5h5M690 632.5h5M685 637.5h5M675 652.5h5M670 662.5h5M665 677.5h5M660 717.5h5M660 722.5h5M660 727.5h5M660 732.5h5"/><path stroke="#383838" d="M645 477.5h5M640 482.5h5M665 482.5h5M640 487.5h5M665 492.5h5M645 497.5h5M660 497.5h5M745 602.5h35M725 607.5h5M715 612.5h5M705 617.5h5M680 642.5h5M665 672.5h5M660 702.5h5M660 707.5h5M660 712.5h5"/><path stroke="#393939" d="M650 472.5h10M665 477.5h5M640 492.5h5M665 497.5h5M650 502.5h10M740 602.5h5M720 607.5h5M710 612.5h5M690 627.5h5M685 632.5h5M675 647.5h5M670 657.5h5M665 667.5h5M660 692.5h5M660 697.5h5"/><path stroke="#3b3b3b" d="M645 472.5h5M660 472.5h5M640 477.5h5M670 482.5h5M670 487.5h5M670 492.5h5M640 497.5h5M645 502.5h5M660 502.5h5M730 602.5h10M700 617.5h5M695 622.5h5M680 637.5h5M670 652.5h5M660 687.5h5"/><path stroke="#3c3c3c" d="M635 487.5h5M670 497.5h5M665 502.5h5M755 597.5h20M725 602.5h5M715 607.5h5M705 612.5h5M675 642.5h5M665 662.5h5M660 677.5h5M660 682.5h5M655 722.5h5M655 727.5h5M655 732.5h5"/><path stroke="#3d3d3d" d="M665 472.5h5M670 477.5h5M635 482.5h5M635 492.5h5M640 502.5h5M650 507.5h15M740 597.5h15M775 597.5h5M710 607.5h5M695 617.5h5M690 622.5h5M685 627.5h5M680 632.5h5M670 647.5h5M665 657.5h5M660 672.5h5M655 707.5h5M655 712.5h5M655 717.5h5"/><path stroke="#3e3e3e" d="M650 467.5h15M640 472.5h5M635 477.5h5M675 482.5h5M675 487.5h5M675 492.5h5M635 497.5h5M670 502.5h5M645 507.5h5M665 507.5h5M735 597.5h5M720 602.5h5M700 612.5h5M675 637.5h5M660 667.5h5M655 697.5h5M655 702.5h5"/><path stroke="#404040" d="M645 467.5h5M670 472.5h5M675 497.5h5M655 512.5h5M725 597.5h10M715 602.5h5M705 607.5h5M690 617.5h5M685 622.5h5M680 627.5h5M670 642.5h5M665 652.5h5M660 662.5h5M655 687.5h5M655 692.5h5"/><path stroke="#414141" d="M665 467.5h5M675 477.5h5M630 487.5h5M630 492.5h5M635 502.5h5M675 502.5h5M640 507.5h5M670 507.5h5M650 512.5h5M660 512.5h5M740 592.5h40M720 597.5h5M710 602.5h5M700 607.5h5M695 612.5h5M675 632.5h5M665 647.5h5M660 657.5h5M655 677.5h5M655 682.5h5M650 727.5h5M650 732.5h5"/><path stroke="#424242" d="M640 467.5h5M635 472.5h5M630 482.5h5M680 487.5h5M680 492.5h5M630 497.5h5M645 512.5h5M665 512.5h5M730 592.5h10M715 597.5h5M705 602.5h5M685 617.5h5M680 622.5h5M670 637.5h5M655 672.5h5M650 712.5h5M650 717.5h5M650 722.5h5"/><path stroke="#444444" d="M655 462.5h5M670 467.5h5M675 472.5h5M630 477.5h5M680 482.5h5M680 497.5h5M635 507.5h5M675 507.5h5M640 512.5h5M670 512.5h5M655 517.5h5M725 592.5h5M695 607.5h5M690 612.5h5M675 627.5h5M670 632.5h5M665 642.5h5M660 652.5h5M655 667.5h5M650 697.5h5M650 702.5h5M650 707.5h5"/><path stroke="#454545" d="M650 462.5h5M660 462.5h5M680 477.5h5M630 502.5h5M680 502.5h5M650 517.5h5M660 517.5h10M735 587.5h50M720 592.5h5M710 597.5h5M700 602.5h5M680 617.5h5M665 637.5h5M660 647.5h5M655 662.5h5M650 687.5h5M650 692.5h5M645 732.5h5"/><path stroke="#464646" d="M645 462.5h5M665 462.5h5M685 487.5h5M685 492.5h5M685 497.5h5M680 507.5h5M675 512.5h5M645 517.5h5M670 517.5h5M725 587.5h10M715 592.5h5M705 597.5h5M695 602.5h5M690 607.5h5M685 612.5h5M675 622.5h5M670 627.5h5M655 657.5h5M650 677.5h5M650 682.5h5M645 722.5h5M645 727.5h5"/><path stroke="#474747" d="M635 467.5h5M675 467.5h5M630 472.5h5M680 472.5h5M625 482.5h5M685 482.5h5M625 487.5h5M625 492.5h5M625 497.5h5M685 502.5h5M630 507.5h5M635 512.5h5M680 512.5h5M640 517.5h5M655 522.5h10M740 582.5h40M720 587.5h5M710 592.5h5M700 597.5h5M680 612.5h5M665 632.5h5M660 642.5h5M655 652.5h5M650 667.5h5M650 672.5h5M645 712.5h5M645 717.5h5"/><path stroke="#494949" d="M640 462.5h5M670 462.5h5M685 477.5h5M685 507.5h5M675 517.5h5M645 522.5h10M665 522.5h10M730 582.5h10M780 582.5h5M715 587.5h5M705 592.5h5M695 597.5h5M690 602.5h5M685 607.5h5M675 617.5h5M670 622.5h5M660 637.5h5M655 647.5h5M650 662.5h5M645 702.5h5M645 707.5h5"/><path stroke="#4a4a4a" d="M655 457.5h5M680 467.5h5M625 477.5h5M690 487.5h5M690 492.5h5M690 497.5h5M625 502.5h5M630 512.5h5M685 512.5h5M635 517.5h5M680 517.5h5M675 522.5h5M745 577.5h15M720 582.5h10M710 587.5h5M700 592.5h5M685 602.5h5M680 607.5h5M675 612.5h5M665 627.5h5M660 632.5h5M655 642.5h5M650 657.5h5M645 682.5h5M645 687.5h5M645 692.5h5M645 697.5h5M640 732.5h5"/><path stroke="#4b4b4b" d="M650 457.5h5M660 457.5h5M675 462.5h5M630 467.5h5M685 472.5h5M690 482.5h5M690 502.5h5M625 507.5h5M690 507.5h5M640 522.5h5M650 527.5h25M730 577.5h15M760 577.5h30M715 582.5h5M705 587.5h5M695 592.5h5M690 597.5h5M670 617.5h5M665 622.5h5M650 652.5h5M645 672.5h5M645 677.5h5M640 722.5h5M640 727.5h5"/><path stroke="#4c4c4c" d="M645 457.5h5M665 457.5h5M635 462.5h5M690 477.5h5M620 492.5h5M690 512.5h5M685 517.5h5M680 522.5h5M645 527.5h5M675 527.5h5M740 572.5h25M720 577.5h10M705 582.5h10M700 587.5h5M690 592.5h5M685 597.5h5M680 602.5h5M675 607.5h5M670 612.5h5M660 627.5h5M655 637.5h5M650 647.5h5M645 662.5h5M645 667.5h5M640 712.5h5M640 717.5h5"/><path stroke="#4e4e4e" d="M670 457.5h5M685 467.5h5M625 472.5h5M620 482.5h5M620 487.5h5M695 487.5h5M695 492.5h5M620 497.5h5M695 497.5h5M695 502.5h5M695 507.5h5M625 512.5h5M630 517.5h5M690 517.5h5M635 522.5h5M685 522.5h5M640 527.5h5M680 527.5h5M655 532.5h20M725 572.5h15M765 572.5h30M710 577.5h10M700 582.5h5M695 587.5h5M680 597.5h5M665 617.5h5M660 622.5h5M655 632.5h5M650 642.5h5M645 657.5h5M640 697.5h5M640 702.5h5M640 707.5h5M635 732.5h5"/><path stroke="#4f4f4f" d="M640 457.5h5M680 462.5h5M690 472.5h5M695 482.5h5M620 502.5h5M695 512.5h5M690 522.5h5M685 527.5h5M650 532.5h5M675 532.5h5M730 567.5h65M715 572.5h10M705 577.5h5M695 582.5h5M690 587.5h5M685 592.5h5M675 602.5h5M670 607.5h5M665 612.5h5M655 627.5h5M650 637.5h5M645 647.5h5M645 652.5h5M640 672.5h5M640 677.5h5M640 682.5h5M640 687.5h5M640 692.5h5M635 727.5h5"/><path stroke="#505050" d="M675 457.5h5M620 477.5h5M695 477.5h5M700 492.5h5M700 497.5h5M700 502.5h5M620 507.5h5M700 507.5h5M625 517.5h5M695 517.5h5M630 522.5h5M635 527.5h5M690 527.5h5M645 532.5h5M680 532.5h10M655 537.5h25M745 562.5h10M715 567.5h15M705 572.5h10M695 577.5h10M690 582.5h5M685 587.5h5M680 592.5h5M675 597.5h5M670 602.5h5M665 607.5h5M660 617.5h5M655 622.5h5M650 632.5h5M645 642.5h5M640 662.5h5M640 667.5h5M635 717.5h5M635 722.5h5"/><path stroke="#525252" d="M650 452.5h20M630 462.5h5M685 462.5h5M625 467.5h5M690 467.5h5M700 487.5h5M700 512.5h5M700 517.5h5M695 522.5h5M695 527.5h5M640 532.5h5M690 532.5h5M650 537.5h5M680 537.5h10M670 542.5h5M715 562.5h30M755 562.5h40M705 567.5h10M695 572.5h10M690 577.5h5M685 582.5h5M680 587.5h5M675 592.5h5M670 597.5h5M660 612.5h5M650 627.5h5M645 637.5h5M640 652.5h5M640 657.5h5M635 707.5h5M635 712.5h5"/><path stroke="#535353" d="M645 452.5h5M670 452.5h5M635 457.5h5M680 457.5h5M620 472.5h5M695 472.5h5M700 482.5h5M615 492.5h5M615 497.5h5M705 497.5h5M705 502.5h5M705 507.5h5M620 512.5h5M705 512.5h5M700 522.5h5M630 527.5h5M700 527.5h5M635 532.5h5M695 532.5h5M645 537.5h5M690 537.5h10M655 542.5h15M675 542.5h20M710 557.5h90M700 562.5h15M690 567.5h15M690 572.5h5M685 577.5h5M680 582.5h5M675 587.5h5M670 592.5h5M665 602.5h5M660 607.5h5M655 617.5h5M650 622.5h5M645 632.5h5M640 647.5h5M635 677.5h5M635 682.5h5M635 687.5h5M635 692.5h5M635 697.5h5M635 702.5h5M630 727.5h5"/><path stroke="#545454" d="M690 462.5h5M695 467.5h5M700 477.5h5M615 482.5h5M615 487.5h5M705 487.5h5M705 492.5h5M615 502.5h5M705 517.5h5M625 522.5h5M705 522.5h5M705 527.5h5M700 532.5h10M640 537.5h5M700 537.5h10M650 542.5h5M695 542.5h15M660 547.5h55M675 552.5h125M685 557.5h25M685 562.5h15M685 567.5h5M680 572.5h10M680 577.5h5M675 582.5h5M670 587.5h5M665 597.5h5M660 602.5h5M655 612.5h5M645 627.5h5M640 642.5h5M635 657.5h5M635 662.5h5M635 667.5h5M635 672.5h5M630 722.5h5"/><path stroke="#555555" d="M640 452.5h5M675 452.5h5M685 457.5h5M625 462.5h5M700 472.5h5M705 482.5h5M710 497.5h5M710 502.5h5M615 507.5h5M710 507.5h5M710 512.5h5M620 517.5h5M710 517.5h5M710 522.5h5M710 527.5h5M630 532.5h5M710 532.5h5M710 537.5h10M645 542.5h5M710 542.5h20M650 547.5h10M715 547.5h85M660 552.5h15M670 557.5h15M675 562.5h10M675 567.5h10M675 572.5h5M670 577.5h10M670 582.5h5M665 587.5h5M665 592.5h5M660 597.5h5M655 607.5h5M650 617.5h5M645 622.5h5M640 637.5h5M635 647.5h5M635 652.5h5M630 712.5h5M630 717.5h5"/><path stroke="#575757" d="M680 452.5h5M630 457.5h5M620 467.5h5M615 477.5h5M705 477.5h5M710 487.5h5M710 492.5h5M715 507.5h5M715 512.5h5M715 517.5h5M715 522.5h5M625 527.5h5M715 527.5h5M715 532.5h10M635 537.5h5M720 537.5h15M640 542.5h5M730 542.5h75M645 547.5h5M655 552.5h5M660 557.5h10M665 562.5h10M670 567.5h5M670 572.5h5M665 577.5h5M665 582.5h5M660 592.5h5M655 602.5h5M650 612.5h5M645 617.5h5M640 627.5h5M640 632.5h5M635 642.5h5M630 662.5h5M630 667.5h5M630 672.5h5M630 677.5h5M630 682.5h5M630 687.5h5M630 692.5h5M630 697.5h5M630 702.5h5M630 707.5h5M625 727.5h5"/><path stroke="#585858" d="M650 447.5h20M690 457.5h5M695 462.5h5M700 467.5h5M705 472.5h5M710 482.5h5M715 492.5h5M715 497.5h5M715 502.5h5M615 512.5h5M720 512.5h5M720 517.5h5M620 522.5h5M720 522.5h5M720 527.5h10M725 532.5h15M630 537.5h5M735 537.5h65M635 542.5h5M650 552.5h5M655 557.5h5M660 562.5h5M660 567.5h10M660 572.5h10M660 577.5h5M660 582.5h5M660 587.5h5M655 592.5h5M655 597.5h5M650 602.5h5M650 607.5h5M645 612.5h5M640 622.5h5M635 637.5h5M630 652.5h5M630 657.5h5M625 722.5h5"/><path stroke="#595959" d="M670 447.5h5M635 452.5h5M685 452.5h5M615 472.5h5M710 477.5h5M610 487.5h5M715 487.5h5M610 492.5h5M610 497.5h5M720 502.5h5M720 507.5h5M725 512.5h5M615 517.5h5M725 517.5h5M725 522.5h10M620 527.5h5M730 527.5h15M625 532.5h5M740 532.5h55M800 537.5h5M640 547.5h5M645 552.5h5M650 557.5h5M655 562.5h5M655 567.5h5M655 572.5h5M655 577.5h5M655 582.5h5M655 587.5h5M650 597.5h5M645 607.5h5M640 617.5h5M635 627.5h5M635 632.5h5M630 642.5h5M630 647.5h5M625 712.5h5M625 717.5h5M620 727.5h5"/><path stroke="#5b5b5b" d="M645 447.5h5M675 447.5h5M695 457.5h5M700 462.5h5M705 467.5h5M710 472.5h5M610 482.5h5M715 482.5h5M720 492.5h5M720 497.5h5M610 502.5h5M725 502.5h5M610 507.5h5M725 507.5h5M730 512.5h5M730 517.5h10M735 522.5h15M745 527.5h45M795 532.5h10M625 537.5h5M630 542.5h5M635 547.5h5M640 552.5h5M645 557.5h5M650 562.5h5M650 567.5h5M650 587.5h5M650 592.5h5M645 602.5h5M640 612.5h5M635 622.5h5M630 637.5h5M625 652.5h5M625 657.5h5M625 662.5h5M625 667.5h5M625 672.5h5M625 677.5h5M625 682.5h5M625 687.5h5M625 692.5h5M625 697.5h5M625 702.5h5M625 707.5h5M620 722.5h5"/><path stroke="#5c5c5c" d="M640 447.5h5M680 447.5h5M690 452.5h5M625 457.5h5M620 462.5h5M705 462.5h5M715 477.5h5M720 487.5h5M725 492.5h5M725 497.5h5M730 502.5h5M730 507.5h5M610 512.5h5M735 512.5h10M740 517.5h10M615 522.5h5M750 522.5h35M790 527.5h15M620 532.5h5M635 552.5h5M640 557.5h5M645 562.5h5M645 567.5h5M650 572.5h5M650 577.5h5M650 582.5h5M645 592.5h5M645 597.5h5M640 607.5h5M635 617.5h5M630 627.5h5M630 632.5h5M625 642.5h5M625 647.5h5M620 717.5h5"/><path stroke="#5d5d5d" d="M660 442.5h5M685 447.5h5M630 452.5h5M695 452.5h5M700 457.5h5M615 467.5h5M710 467.5h5M715 472.5h5M610 477.5h5M720 482.5h5M725 487.5h5M730 497.5h5M735 502.5h5M735 507.5h10M745 512.5h10M750 517.5h30M785 522.5h20M615 527.5h5M625 542.5h5M630 547.5h5M635 557.5h5M640 562.5h5M645 572.5h5M645 577.5h5M645 582.5h5M645 587.5h5M640 597.5h5M640 602.5h5M635 612.5h5M630 622.5h5M625 632.5h5M625 637.5h5M620 652.5h5M620 657.5h5M620 662.5h5M620 667.5h5M620 672.5h5M620 677.5h5M620 707.5h5M620 712.5h5M615 722.5h5M615 727.5h5"/><path stroke="#5e5e5e" d="M650 442.5h10M665 442.5h10M690 447.5h5M705 457.5h5M710 462.5h5M715 467.5h5M720 477.5h5M725 482.5h5M730 487.5h5M730 492.5h5M735 497.5h5M740 502.5h5M745 507.5h10M755 512.5h20M610 517.5h5M780 517.5h25M620 537.5h5M625 547.5h5M630 552.5h5M635 562.5h5M640 567.5h5M640 572.5h5M640 577.5h5M640 582.5h5M640 587.5h5M640 592.5h5M635 602.5h5M635 607.5h5M630 617.5h5M625 627.5h5M620 642.5h5M620 647.5h5M620 682.5h5M620 687.5h5M620 692.5h5M620 697.5h5M620 702.5h5M615 717.5h5"/><path stroke="#606060" d="M675 442.5h10M635 447.5h5M700 452.5h5M610 472.5h5M720 472.5h5M725 477.5h5M730 482.5h5M605 487.5h5M735 487.5h5M605 492.5h5M735 492.5h5M605 497.5h5M740 497.5h10M605 502.5h5M745 502.5h10M605 507.5h5M755 507.5h20M775 512.5h30M610 522.5h5M615 532.5h5M620 542.5h5M630 557.5h5M635 567.5h5M635 572.5h5M635 587.5h5M635 592.5h5M635 597.5h5M630 607.5h5M630 612.5h5M625 622.5h5M620 632.5h5M620 637.5h5M615 647.5h5M615 652.5h5M615 657.5h5M615 662.5h5M615 667.5h5M615 672.5h5M615 677.5h5M615 712.5h5M610 722.5h5"/><path stroke="#616161" d="M645 442.5h5M685 442.5h5M695 447.5h5M625 452.5h5M705 452.5h5M620 457.5h5M710 457.5h5M615 462.5h5M715 462.5h5M720 467.5h5M725 472.5h5M730 477.5h5M605 482.5h5M735 482.5h5M740 487.5h5M740 492.5h10M750 497.5h10M755 502.5h15M775 507.5h25M605 512.5h5M610 527.5h5M615 537.5h5M620 547.5h5M625 552.5h5M630 562.5h5M630 567.5h5M635 577.5h5M635 582.5h5M630 597.5h5M630 602.5h5M625 612.5h5M625 617.5h5M620 627.5h5M615 637.5h5M615 642.5h5M615 682.5h5M615 687.5h5M615 692.5h5M615 697.5h5M615 702.5h5M615 707.5h5M610 717.5h5"/><path stroke="#626262" d="M640 442.5h5M690 442.5h5M630 447.5h5M700 447.5h5M710 452.5h5M715 457.5h5M720 462.5h5M725 467.5h5M730 472.5h5M735 477.5h5M740 482.5h5M745 487.5h5M750 492.5h10M760 497.5h10M770 502.5h25M800 507.5h5M605 517.5h5M615 542.5h5M620 552.5h5M625 557.5h5M625 562.5h5M630 572.5h5M630 577.5h5M630 582.5h5M630 587.5h5M630 592.5h5M625 602.5h5M625 607.5h5M620 617.5h5M620 622.5h5M615 632.5h5M610 647.5h5M610 652.5h5M610 657.5h5M610 662.5h5M610 667.5h5M610 672.5h5M610 677.5h5M610 682.5h5M610 712.5h5M605 722.5h5"/><path stroke="#636363" d="M655 437.5h30M695 442.5h5M705 447.5h5M720 457.5h5M725 462.5h5M610 467.5h5M730 467.5h5M735 472.5h5M605 477.5h5M740 477.5h5M745 482.5h5M750 487.5h10M760 492.5h10M770 497.5h25M795 502.5h15M605 522.5h5M610 532.5h5M620 557.5h5M625 567.5h5M625 572.5h5M625 587.5h5M625 592.5h5M625 597.5h5M620 607.5h5M620 612.5h5M615 622.5h5M615 627.5h5M610 637.5h5M610 642.5h5M605 652.5h5M605 657.5h5M605 662.5h5M605 667.5h5M605 672.5h5M610 687.5h5M610 692.5h5M610 697.5h5M610 702.5h5M610 707.5h5M605 712.5h5M605 717.5h5M600 722.5h5"/><path stroke="#656565" d="M650 437.5h5M685 437.5h5M635 442.5h5M700 442.5h5M710 447.5h5M620 452.5h5M715 452.5h5M725 457.5h5M730 462.5h5M735 467.5h5M740 472.5h5M745 477.5h5M750 482.5h10M760 487.5h10M600 492.5h5M770 492.5h20M600 497.5h5M795 497.5h15M600 502.5h5M600 507.5h5M605 527.5h5M610 537.5h5M615 547.5h5M620 562.5h5M625 577.5h5M625 582.5h5M620 597.5h5M620 602.5h5M615 612.5h5M615 617.5h5M610 627.5h5M610 632.5h5M605 642.5h5M605 647.5h5M600 662.5h5M600 667.5h5M605 677.5h5M605 682.5h5M605 687.5h5M605 692.5h5M605 697.5h5M605 702.5h5M605 707.5h5M600 717.5h5M595 722.5h5"/><path stroke="#666666" d="M645 437.5h5M690 437.5h10M705 442.5h5M625 447.5h5M715 447.5h5M720 452.5h5M615 457.5h5M730 457.5h5M610 462.5h5M735 462.5h5M740 467.5h5M605 472.5h5M745 472.5h5M750 477.5h10M760 482.5h10M600 487.5h5M770 487.5h20M790 492.5h20M600 512.5h5M605 532.5h5M610 542.5h5M615 552.5h5M615 557.5h5M620 567.5h5M620 572.5h5M620 577.5h5M620 582.5h5M620 587.5h5M620 592.5h5M615 607.5h5M610 617.5h5M610 622.5h5M605 632.5h5M605 637.5h5M600 647.5h5M600 652.5h5M600 657.5h5M600 672.5h5M600 677.5h5M600 682.5h5M600 687.5h5M600 692.5h5M600 697.5h5M600 702.5h5M600 707.5h5M595 712.5h10M590 717.5h10"/><path stroke="#676767" d="M660 432.5h25M700 437.5h5M710 442.5h10M720 447.5h5M725 452.5h10M735 457.5h5M740 462.5h5M745 467.5h10M750 472.5h10M760 477.5h10M600 482.5h5M770 482.5h20M790 487.5h20M600 517.5h5M605 537.5h5M610 547.5h5M615 562.5h5M615 567.5h5M615 592.5h5M615 597.5h5M615 602.5h5M610 612.5h5M605 622.5h5M605 627.5h5M600 637.5h5M600 642.5h5M595 652.5h5M595 657.5h5M595 662.5h5M595 667.5h5M595 672.5h5M595 677.5h5M595 682.5h5M595 687.5h5M595 692.5h5M595 697.5h5M595 702.5h5M590 707.5h10M585 712.5h10"/><path stroke="#696969" d="M655 432.5h5M685 432.5h15M640 437.5h5M705 437.5h10M630 442.5h5M720 442.5h5M725 447.5h10M735 452.5h5M740 457.5h5M745 462.5h10M605 467.5h5M755 467.5h5M760 472.5h10M600 477.5h5M770 477.5h20M790 482.5h20M600 522.5h5M605 542.5h5M610 552.5h5M610 557.5h5M615 572.5h5M615 577.5h5M615 582.5h5M615 587.5h5M610 602.5h5M610 607.5h5M605 617.5h5M600 627.5h5M600 632.5h5M595 642.5h5M595 647.5h5M590 652.5h5M590 657.5h5M590 662.5h5M590 667.5h5M585 672.5h10M585 677.5h10M585 682.5h10M585 687.5h10M585 692.5h10M585 697.5h10M585 702.5h10M580 707.5h10"/><path stroke="#6a6a6a" d="M655 337.5h15M655 342.5h15M655 347.5h15M650 432.5h5M700 432.5h10M635 437.5h5M715 437.5h10M725 442.5h5M620 447.5h5M735 447.5h5M615 452.5h5M740 452.5h10M745 457.5h10M755 462.5h10M760 467.5h15M770 472.5h20M790 477.5h20M595 497.5h5M595 502.5h5M595 507.5h5M600 527.5h5M600 532.5h5M605 547.5h5M610 562.5h5M610 567.5h5M610 572.5h5M610 587.5h5M610 592.5h5M610 597.5h5M605 607.5h5M605 612.5h5M600 622.5h5M595 632.5h5M595 637.5h5M590 642.5h5M590 647.5h5M585 657.5h5M585 662.5h5M585 667.5h5M580 672.5h5M580 677.5h5M580 682.5h5M575 687.5h10M575 692.5h10M575 697.5h10M575 702.5h10M575 707.5h5"/><path stroke="#6b6b6b" d="M655 332.5h15M650 337.5h5M670 337.5h5M650 342.5h5M670 342.5h5M650 347.5h5M670 347.5h5M655 352.5h20M660 427.5h45M645 432.5h5M710 432.5h10M725 437.5h5M625 442.5h5M730 442.5h10M740 447.5h10M750 452.5h5M610 457.5h5M755 457.5h10M765 462.5h10M775 467.5h20M600 472.5h5M790 472.5h20M595 487.5h5M595 492.5h5M595 512.5h5M595 517.5h5M600 537.5h5M605 552.5h5M610 577.5h5M610 582.5h5M605 597.5h5M605 602.5h5M600 612.5h5M600 617.5h5M595 627.5h5M590 637.5h5M585 647.5h5M585 652.5h5M580 657.5h5M580 662.5h5M575 667.5h10M575 672.5h5M575 677.5h5M570 682.5h10M570 687.5h5M570 692.5h5M570 697.5h5"/><path stroke="#6c6c6c" d="M655 327.5h15M650 332.5h5M670 332.5h10M675 337.5h5M675 342.5h5M675 347.5h5M650 352.5h5M675 352.5h5M655 357.5h20M680 422.5h15M655 427.5h5M705 427.5h15M640 432.5h5M720 432.5h15M730 437.5h15M740 442.5h10M750 447.5h10M755 452.5h15M765 457.5h15M605 462.5h5M775 462.5h30M795 467.5h15M595 482.5h5M595 522.5h5M600 542.5h5M605 557.5h5M605 562.5h5M605 567.5h5M605 572.5h5M605 577.5h5M605 582.5h5M605 587.5h5M605 592.5h5M600 607.5h5M595 617.5h5M595 622.5h5M590 627.5h5M590 632.5h5M585 637.5h5M585 642.5h5M580 647.5h5M580 652.5h5M575 657.5h5M575 662.5h5M570 667.5h5M570 672.5h5M570 677.5h5"/><path stroke="#6e6e6e" d="M650 327.5h5M670 327.5h10M680 332.5h5M645 337.5h5M680 337.5h5M645 342.5h5M680 342.5h5M645 347.5h5M680 347.5h5M680 352.5h5M675 357.5h5M660 362.5h15M665 422.5h15M695 422.5h25M650 427.5h5M720 427.5h15M735 432.5h10M630 437.5h5M745 437.5h10M750 442.5h15M760 447.5h15M770 452.5h15M780 457.5h30M805 462.5h5M600 467.5h5M595 527.5h5M595 532.5h5M600 547.5h5M600 552.5h5M600 592.5h5M600 597.5h5M600 602.5h5M595 612.5h5M590 622.5h5M585 632.5h5M580 642.5h5M575 652.5h5M570 657.5h5M570 662.5h5"/><path stroke="#6f6f6f" d="M655 322.5h20M680 327.5h5M645 332.5h5M685 337.5h5M685 342.5h5M685 347.5h5M645 352.5h5M685 352.5h5M650 357.5h5M680 357.5h10M655 362.5h5M675 362.5h10M660 367.5h20M660 382.5h10M670 417.5h50M660 422.5h5M720 422.5h20M645 427.5h5M735 427.5h15M635 432.5h5M745 432.5h15M755 437.5h15M620 442.5h5M765 442.5h20M615 447.5h5M775 447.5h35M610 452.5h5M785 452.5h25M595 477.5h5M590 497.5h5M590 502.5h5M590 507.5h5M590 512.5h5M595 537.5h5M600 557.5h5M600 562.5h5M600 567.5h5M600 572.5h5M600 577.5h5M600 582.5h5M600 587.5h5M595 602.5h5M595 607.5h5M590 612.5h5M590 617.5h5M585 622.5h5M585 627.5h5M580 632.5h5M580 637.5h5M575 642.5h5M575 647.5h5M570 652.5h5M565 662.5h5"/><path stroke="#707070" d="M660 317.5h10M650 322.5h5M675 322.5h5M645 327.5h5M685 327.5h5M685 332.5h5M690 337.5h5M690 342.5h5M690 347.5h5M690 352.5h5M690 357.5h5M650 362.5h5M685 362.5h10M655 367.5h5M680 367.5h10M660 372.5h25M660 377.5h25M655 382.5h5M670 382.5h10M655 387.5h25M660 392.5h15M675 412.5h55M665 417.5h5M720 417.5h25M655 422.5h5M740 422.5h20M750 427.5h20M760 432.5h25M625 437.5h5M770 437.5h40M785 442.5h25M605 457.5h5M590 487.5h5M590 492.5h5M590 517.5h5M590 522.5h5M595 542.5h5M595 547.5h5M595 592.5h5M595 597.5h5M590 607.5h5M585 617.5h5M580 627.5h5M575 637.5h5M570 647.5h5M565 652.5h5M565 657.5h5"/><path stroke="#717171" d="M655 317.5h5M670 317.5h10M680 322.5h10M690 327.5h5M640 332.5h5M690 332.5h5M640 337.5h5M695 337.5h5M640 342.5h5M695 342.5h5M640 347.5h5M695 347.5h5M695 352.5h5M645 357.5h5M695 357.5h5M695 362.5h5M650 367.5h5M690 367.5h10M655 372.5h5M685 372.5h15M655 377.5h5M685 377.5h10M680 382.5h15M680 387.5h15M655 392.5h5M675 392.5h20M660 397.5h45M665 402.5h55M665 407.5h75M665 412.5h10M730 412.5h30M655 417.5h10M745 417.5h35M650 422.5h5M760 422.5h50M640 427.5h5M770 427.5h40M630 432.5h5M785 432.5h25M600 462.5h5M595 472.5h5M590 527.5h5M590 532.5h5M595 552.5h5M595 557.5h5M595 562.5h5M595 567.5h5M595 572.5h5M595 577.5h5M595 582.5h5M595 587.5h5M590 597.5h5M590 602.5h5M585 612.5h5M580 622.5h5M575 632.5h5M570 637.5h5M570 642.5h5M565 647.5h5M560 652.5h5"/><path stroke="#737373" d="M660 312.5h15M650 317.5h5M680 317.5h5M645 322.5h5M690 322.5h5M640 327.5h5M695 327.5h5M695 332.5h5M700 337.5h5M700 342.5h5M700 347.5h10M640 352.5h5M700 352.5h10M700 357.5h10M645 362.5h5M700 362.5h10M700 367.5h10M650 372.5h5M700 372.5h10M650 377.5h5M695 377.5h15M650 382.5h5M695 382.5h20M650 387.5h5M695 387.5h20M695 392.5h30M655 397.5h5M705 397.5h35M660 402.5h5M720 402.5h45M660 407.5h5M740 407.5h70M655 412.5h10M760 412.5h50M650 417.5h5M780 417.5h30M645 422.5h5M635 427.5h5M615 442.5h5M610 447.5h5M590 482.5h5M590 537.5h5M590 587.5h5M590 592.5h5M585 602.5h5M585 607.5h5M580 617.5h5M575 622.5h5M575 627.5h5M570 632.5h5M565 642.5h5M560 647.5h5"/><path stroke="#747474" d="M655 312.5h5M675 312.5h10M645 317.5h5M685 317.5h5M695 322.5h5M700 327.5h5M700 332.5h5M705 337.5h5M705 342.5h5M710 347.5h5M710 352.5h5M710 357.5h10M710 362.5h10M710 367.5h10M710 372.5h15M710 377.5h15M715 382.5h20M715 387.5h30M650 392.5h5M725 392.5h35M650 397.5h5M740 397.5h35M655 402.5h5M765 402.5h45M655 407.5h5M650 412.5h5M640 422.5h5M625 432.5h5M620 437.5h5M605 452.5h5M595 467.5h5M590 477.5h5M585 497.5h5M585 502.5h5M585 507.5h5M585 512.5h5M585 517.5h5M585 522.5h5M590 542.5h5M590 547.5h5M590 552.5h5M590 557.5h5M590 572.5h5M590 577.5h5M590 582.5h5M585 597.5h5M580 607.5h5M580 612.5h5M575 617.5h5M570 627.5h5M565 632.5h5M565 637.5h5M560 642.5h5M555 647.5h5M555 652.5h5"/><path stroke="#757575" d="M660 307.5h15M650 312.5h5M685 312.5h5M690 317.5h10M640 322.5h5M700 322.5h5M705 327.5h5M705 332.5h10M710 337.5h5M710 342.5h10M715 347.5h5M715 352.5h10M640 357.5h5M720 357.5h10M720 362.5h10M645 367.5h5M720 367.5h10M645 372.5h5M745 387.5h5M650 402.5h5M650 407.5h5M645 417.5h5M630 427.5h5M600 457.5h5M585 487.5h5M585 492.5h5M585 527.5h5M585 532.5h5M590 562.5h5M590 567.5h5M585 587.5h5M585 592.5h5M580 602.5h5M575 612.5h5M570 622.5h5M565 627.5h5M560 637.5h5M555 642.5h5M550 652.5h5"/><path stroke="#777777" d="M655 307.5h5M675 307.5h10M645 312.5h5M690 312.5h5M700 317.5h5M705 322.5h5M710 327.5h5M635 332.5h5M715 332.5h5M635 337.5h5M715 337.5h10M635 342.5h5M720 342.5h5M720 347.5h10M725 352.5h5M640 362.5h5M645 377.5h5M645 382.5h5M645 387.5h5M645 392.5h5M645 397.5h5M645 412.5h5M640 417.5h5M635 422.5h5M615 437.5h5M610 442.5h5M595 462.5h5M590 472.5h5M585 482.5h5M585 537.5h5M585 542.5h5M585 577.5h5M585 582.5h5M580 592.5h5M580 597.5h5M575 607.5h5M570 612.5h5M570 617.5h5M565 622.5h5M560 632.5h5M555 637.5h5M550 642.5h5M550 647.5h5"/><path stroke="#787878" d="M660 302.5h20M650 307.5h5M685 307.5h10M695 312.5h10M640 317.5h5M705 317.5h5M710 322.5h10M635 327.5h5M715 327.5h10M720 332.5h10M635 347.5h5M645 402.5h5M645 407.5h5M620 432.5h5M605 447.5h5M600 452.5h5M580 497.5h5M580 502.5h5M580 507.5h5M580 512.5h5M580 517.5h5M585 547.5h5M585 552.5h5M585 557.5h5M585 562.5h5M585 567.5h5M585 572.5h5M580 587.5h5M575 597.5h5M575 602.5h5M570 607.5h5M565 617.5h5M560 622.5h5M560 627.5h5M555 632.5h5M550 637.5h5M545 647.5h5"/><path stroke="#797979" d="M655 302.5h5M680 302.5h10M645 307.5h5M695 307.5h10M640 312.5h5M705 312.5h10M710 317.5h10M635 322.5h5M720 322.5h10M725 327.5h5M635 352.5h5M640 367.5h5M640 407.5h5M640 412.5h5M635 417.5h5M630 422.5h5M625 427.5h5M595 457.5h5M590 467.5h5M585 477.5h5M580 492.5h5M580 522.5h5M580 527.5h5M580 532.5h5M580 577.5h5M580 582.5h5M575 592.5h5M570 602.5h5M565 612.5h5M560 617.5h5M555 627.5h5M550 632.5h5M545 637.5h5M545 642.5h5M540 647.5h5"/><path stroke="#7a7a7a" d="M660 297.5h30M650 302.5h5M690 302.5h10M705 307.5h10M715 312.5h10M635 317.5h5M720 317.5h10M635 357.5h5M640 372.5h5M640 377.5h5M640 382.5h5M640 387.5h5M640 392.5h5M640 397.5h5M640 402.5h5M610 437.5h5M605 442.5h5M585 472.5h5M580 487.5h5M580 537.5h5M580 542.5h5M580 547.5h5M580 552.5h5M580 557.5h5M580 562.5h5M580 567.5h5M580 572.5h5M575 587.5h5M570 597.5h5M565 607.5h5M560 612.5h5M555 622.5h5M550 627.5h5M545 632.5h5M540 642.5h5"/><path stroke="#7c7c7c" d="M670 292.5h10M655 297.5h5M690 297.5h10M645 302.5h5M700 302.5h15M640 307.5h5M715 307.5h10M725 312.5h5M630 332.5h5M630 337.5h5M635 412.5h5M630 417.5h5M625 422.5h5M620 427.5h5M615 432.5h5M600 447.5h5M590 462.5h5M580 482.5h5M575 502.5h5M575 507.5h5M575 512.5h5M575 517.5h5M575 577.5h5M575 582.5h5M570 592.5h5M565 602.5h5M560 607.5h5M555 617.5h5M550 622.5h5M545 627.5h5M540 637.5h5"/><path stroke="#7d7d7d" d="M660 292.5h10M680 292.5h20M650 297.5h5M700 297.5h15M715 302.5h5M635 312.5h5M630 322.5h5M630 327.5h5M630 342.5h5M635 362.5h5M635 407.5h5M595 452.5h5M585 467.5h5M580 477.5h5M575 492.5h5M575 497.5h5M575 522.5h5M575 527.5h5M575 532.5h5M575 537.5h5M575 562.5h5M575 567.5h5M575 572.5h5M570 582.5h5M570 587.5h5M565 592.5h5M565 597.5h5M560 602.5h5M555 612.5h5M550 617.5h5M545 622.5h5M540 627.5h5M540 632.5h5"/><path stroke="#7e7e7e" d="M665 287.5h30M655 292.5h5M700 292.5h20M645 297.5h5M715 297.5h5M640 302.5h5M635 307.5h5M630 317.5h5M630 347.5h5M635 367.5h5M635 392.5h5M635 397.5h5M635 402.5h5M630 412.5h5M625 417.5h5M615 427.5h5M610 432.5h5M605 437.5h5M590 457.5h5M575 487.5h5M575 542.5h5M575 547.5h5M575 552.5h5M575 557.5h5M570 577.5h5M565 587.5h5M560 597.5h5M555 607.5h5M550 612.5h5M545 617.5h5M540 622.5h5"/><path stroke="#808080" d="M670 282.5h30M655 287.5h10M695 287.5h25M650 292.5h5M635 372.5h5M635 377.5h5M635 382.5h5M635 387.5h5M630 407.5h5M620 422.5h5M600 442.5h5M595 447.5h5M585 462.5h5M580 472.5h5M575 482.5h5M570 502.5h5M570 507.5h5M570 512.5h5M570 517.5h5M570 522.5h5M570 567.5h5M570 572.5h5M565 582.5h5M560 592.5h5M555 602.5h5M550 607.5h5M545 612.5h5M540 617.5h5"/><path stroke="#818181" d="M675 277.5h40M660 282.5h10M700 282.5h20M650 287.5h5M645 292.5h5M640 297.5h5M635 302.5h5M630 312.5h5M630 352.5h5M625 412.5h5M590 452.5h5M570 492.5h5M570 497.5h5M570 527.5h5M570 532.5h5M570 537.5h5M570 542.5h5M570 547.5h5M570 552.5h5M570 557.5h5M570 562.5h5M565 577.5h5M560 587.5h5M555 597.5h5M550 602.5h5M545 607.5h5M540 612.5h5M535 617.5h5M535 622.5h5"/><path stroke="#828282" d="M675 272.5h40M660 277.5h15M655 282.5h5M645 287.5h5M640 292.5h5M635 297.5h5M630 307.5h5M625 322.5h5M625 327.5h5M625 332.5h5M630 397.5h5M630 402.5h5M620 417.5h5M615 422.5h5M610 427.5h5M605 432.5h5M600 437.5h5M585 457.5h5M580 467.5h5M575 477.5h5M570 487.5h5M565 567.5h5M565 572.5h5M560 582.5h5M555 592.5h5M550 597.5h5M545 602.5h5M540 607.5h5M535 612.5h5"/><path stroke="#838383" d="M690 262.5h25M675 267.5h40M665 272.5h10M655 277.5h5M650 282.5h5M630 302.5h5M625 317.5h5M625 337.5h5M630 357.5h5M630 392.5h5M625 407.5h5M595 442.5h5M575 472.5h5M570 482.5h5M565 497.5h5M565 502.5h5M565 507.5h5M565 512.5h5M565 517.5h5M565 522.5h5M565 527.5h5M565 557.5h5M565 562.5h5M560 577.5h5M555 582.5h5M555 587.5h5M550 592.5h5M545 597.5h5M540 602.5h5M535 607.5h5"/><path stroke="#858585" d="M700 252.5h10M685 257.5h30M675 262.5h15M665 267.5h10M655 272.5h10M650 277.5h5M645 282.5h5M640 287.5h5M635 292.5h5M625 312.5h5M630 362.5h5M630 387.5h5M620 412.5h5M615 417.5h5M590 447.5h5M585 452.5h5M580 462.5h5M565 492.5h5M565 532.5h5M565 537.5h5M565 542.5h5M565 547.5h5M565 552.5h5M560 567.5h5M560 572.5h5M555 577.5h5M550 587.5h5M545 592.5h5M540 597.5h5M535 602.5h5"/><path stroke="#868686" d="M680 252.5h20M670 257.5h15M665 262.5h10M655 267.5h10M650 272.5h5M645 277.5h5M640 282.5h5M635 287.5h5M630 297.5h5M625 307.5h5M625 342.5h5M630 367.5h5M630 377.5h5M630 382.5h5M625 402.5h5M610 422.5h5M605 427.5h5M600 432.5h5M595 437.5h5M575 467.5h5M570 477.5h5M565 487.5h5M560 507.5h5M560 512.5h5M560 517.5h5M560 522.5h5M560 562.5h5M555 572.5h5M550 582.5h5M545 587.5h5M540 592.5h5M535 597.5h5M530 602.5h5"/><path stroke="#878787" d="M670 252.5h10M665 257.5h5M660 262.5h5M650 267.5h5M645 272.5h5M640 277.5h5M630 292.5h5M625 302.5h5M630 372.5h5M625 397.5h5M620 407.5h5M590 442.5h5M580 457.5h5M570 472.5h5M565 482.5h5M560 497.5h5M560 502.5h5M560 527.5h5M560 532.5h5M560 537.5h5M560 542.5h5M560 547.5h5M560 552.5h5M560 557.5h5M555 567.5h5M550 577.5h5M545 582.5h5M540 587.5h5M535 592.5h5M530 597.5h5"/><path stroke="#888888" d="M665 252.5h5M655 257.5h10M650 262.5h10M645 267.5h5M635 282.5h5M630 287.5h5M625 297.5h5M620 312.5h5M620 317.5h5M620 322.5h5M620 327.5h5M625 347.5h5M615 412.5h5M610 417.5h5M605 422.5h5M600 427.5h5M585 447.5h5M575 462.5h5M565 477.5h5M560 492.5h5M555 507.5h5M555 512.5h5M555 517.5h5M555 562.5h5M550 572.5h5M545 577.5h5M540 582.5h5M530 592.5h5M525 597.5h5"/><path stroke="#8a8a8a" d="M655 252.5h10M650 257.5h5M640 272.5h5M635 277.5h5M630 282.5h5M625 292.5h5M620 307.5h5M620 332.5h5M625 392.5h5M620 402.5h5M595 432.5h5M590 437.5h5M580 452.5h5M570 467.5h5M560 487.5h5M555 497.5h5M555 502.5h5M555 522.5h5M555 527.5h5M555 532.5h5M555 537.5h5M555 542.5h5M555 547.5h5M555 552.5h5M555 557.5h5M550 567.5h5M545 572.5h5M530 587.5h10M525 592.5h5M520 597.5h5"/><path stroke="#8b8b8b" d="M650 252.5h5M645 262.5h5M640 267.5h5M635 272.5h5M625 287.5h5M620 302.5h5M625 352.5h5M625 387.5h5M615 407.5h5M610 412.5h5M585 442.5h5M575 457.5h5M565 472.5h5M560 482.5h5M555 492.5h5M550 512.5h5M550 517.5h5M550 557.5h5M550 562.5h5M545 567.5h5M540 577.5h5M530 582.5h10M525 587.5h5M520 592.5h5"/><path stroke="#8c8c8c" d="M645 252.5h5M645 257.5h5M640 262.5h5M635 267.5h5M630 277.5h5M625 282.5h5M620 297.5h5M615 312.5h5M615 317.5h5M620 337.5h5M620 397.5h5M605 417.5h5M600 422.5h5M595 427.5h5M590 432.5h5M580 447.5h5M570 462.5h5M565 467.5h5M560 477.5h5M555 487.5h5M550 497.5h5M550 502.5h5M550 507.5h5M550 522.5h5M550 527.5h5M550 532.5h5M550 537.5h5M550 542.5h5M550 547.5h5M550 552.5h5M545 562.5h5M540 572.5h5M530 577.5h10M525 582.5h5M520 587.5h5M515 592.5h5"/><path stroke="#8e8e8e" d="M640 257.5h5M635 262.5h5M630 272.5h5M620 292.5h5M615 302.5h5M615 307.5h5M615 322.5h5M625 357.5h5M625 382.5h5M615 402.5h5M585 437.5h5M575 452.5h5M570 457.5h5M560 472.5h5M555 482.5h5M550 492.5h5M545 507.5h5M545 512.5h5M545 517.5h5M545 522.5h5M545 527.5h5M545 552.5h5M545 557.5h5M540 562.5h5M540 567.5h5M530 572.5h10M525 577.5h5M520 582.5h5M510 587.5h10"/><path stroke="#8f8f8f" d="M640 252.5h5M635 257.5h5M630 267.5h5M625 277.5h5M620 287.5h5M615 297.5h5M615 327.5h5M620 342.5h5M625 362.5h5M625 377.5h5M620 392.5h5M610 407.5h5M605 412.5h5M600 417.5h5M595 422.5h5M590 427.5h5M580 442.5h5M575 447.5h5M565 462.5h5M555 477.5h5M550 487.5h5M545 497.5h5M545 502.5h5M545 532.5h5M545 537.5h5M545 542.5h5M545 547.5h5M540 557.5h5M535 562.5h5M530 567.5h10M525 572.5h5M515 577.5h10M510 582.5h10"/><path stroke="#909090" d="M635 252.5h5M630 262.5h5M625 267.5h5M625 272.5h5M620 282.5h5M615 292.5h5M625 367.5h5M625 372.5h5M585 432.5h5M570 452.5h5M560 467.5h5M550 482.5h5M545 492.5h5M540 502.5h5M540 507.5h5M540 512.5h5M540 517.5h5M540 522.5h5M540 527.5h5M540 532.5h5M540 537.5h5M540 542.5h5M540 547.5h5M540 552.5h5M535 557.5h5M530 562.5h5M525 567.5h5M515 572.5h10M510 577.5h5"/><path stroke="#919191" d="M630 252.5h5M630 257.5h5M625 262.5h5M620 272.5h5M620 277.5h5M615 287.5h5M610 302.5h5M610 307.5h5M610 312.5h5M610 317.5h5M615 332.5h5M620 387.5h5M615 397.5h5M600 412.5h5M595 417.5h5M590 422.5h5M580 437.5h5M575 442.5h5M565 457.5h5M555 472.5h5M550 477.5h5M545 487.5h5M540 497.5h5M535 507.5h5M535 512.5h5M535 517.5h5M535 522.5h5M535 527.5h5M535 532.5h5M535 537.5h5M535 542.5h5M535 547.5h5M530 552.5h10M525 557.5h10M520 562.5h10M515 567.5h10M505 572.5h10"/><path stroke="#939393" d="M625 257.5h5M620 267.5h5M615 282.5h5M610 297.5h5M610 322.5h5M620 347.5h5M610 402.5h5M605 407.5h5M585 427.5h5M580 432.5h5M570 447.5h5M560 462.5h5M555 467.5h5M545 482.5h5M540 492.5h5M535 502.5h5M530 512.5h5M530 517.5h5M530 522.5h5M530 527.5h5M530 532.5h5M530 537.5h5M530 542.5h5M525 547.5h10M520 552.5h10M515 557.5h10M510 562.5h10M505 567.5h10"/><path stroke="#949494" d="M625 252.5h5M620 262.5h5M615 272.5h5M615 277.5h5M610 287.5h5M610 292.5h5M615 337.5h5M590 417.5h5M575 437.5h5M565 452.5h5M560 457.5h5M550 472.5h5M545 477.5h5M540 487.5h5M535 497.5h5M530 502.5h5M530 507.5h5M525 517.5h5M525 522.5h5M525 527.5h5M520 532.5h10M520 537.5h10M515 542.5h15M515 547.5h10M510 552.5h10M505 557.5h10M500 562.5h10"/><path stroke="#959595" d="M620 252.5h5M620 257.5h5M615 267.5h5M610 282.5h5M605 302.5h5M605 307.5h5M605 312.5h5M610 327.5h5M620 382.5h5M615 392.5h5M600 407.5h5M595 412.5h5M585 422.5h5M580 427.5h5M570 442.5h5M555 462.5h5M550 467.5h5M540 482.5h5M535 492.5h5M530 497.5h5M525 507.5h5M525 512.5h5M520 517.5h5M520 522.5h5M515 527.5h10M515 532.5h5M510 537.5h10M510 542.5h5M505 547.5h10M500 552.5h10M500 557.5h5"/><path stroke="#969696" d="M610 272.5h5M610 277.5h5M605 292.5h5M605 297.5h5M605 317.5h5M620 352.5h5M610 397.5h5M605 402.5h5M575 432.5h5M565 447.5h5M560 452.5h5M555 457.5h5M545 472.5h5M540 477.5h5M535 487.5h5M530 492.5h5M525 502.5h5M520 507.5h5M520 512.5h5M515 517.5h5M515 522.5h5M510 527.5h5M510 532.5h5M505 537.5h5M500 542.5h10M500 547.5h5"/><path stroke="#989898" d="M610 267.5h5M605 282.5h5M605 287.5h5M605 322.5h5M610 332.5h5M620 377.5h5M595 407.5h5M590 412.5h5M585 417.5h5M580 422.5h5M570 437.5h5M565 442.5h5M550 462.5h5M545 467.5h5M535 482.5h5M530 487.5h5M525 497.5h5M520 502.5h5M515 512.5h5M510 517.5h5M510 522.5h5M505 532.5h5"/><path stroke="#999999" d="M605 277.5h5M600 297.5h5M600 302.5h5M600 307.5h5M600 312.5h5M615 342.5h5M615 387.5h5M600 402.5h5M575 427.5h5M570 432.5h5M560 447.5h5M555 452.5h5M550 457.5h5M540 472.5h5M535 477.5h5M530 482.5h5M525 492.5h5M520 497.5h5M515 507.5h5M510 512.5h5"/><path stroke="#9a9a9a" d="M605 267.5h5M605 272.5h5M600 287.5h5M600 292.5h5M600 317.5h5M605 327.5h5M620 357.5h5M620 372.5h5M610 392.5h5M605 397.5h5M590 407.5h5M585 412.5h5M580 417.5h5M575 422.5h5M565 437.5h5M545 462.5h5M540 467.5h5M535 472.5h5M525 487.5h5M520 492.5h5M515 497.5h5M515 502.5h5M510 507.5h5M505 512.5h5"/><path stroke="#9c9c9c" d="M605 262.5h5M600 277.5h5M600 282.5h5M595 302.5h5M595 307.5h5M600 322.5h5M620 362.5h5M620 367.5h5M595 402.5h5M580 412.5h5M575 417.5h5M570 427.5h5M565 432.5h5M560 442.5h5M555 447.5h5M550 452.5h5M545 457.5h5M540 462.5h5M530 477.5h5M525 482.5h5M520 487.5h5M510 502.5h5M505 507.5h5"/><path stroke="#9d9d9d" d="M600 267.5h5M600 272.5h5M595 287.5h5M595 292.5h5M595 297.5h5M595 312.5h5M595 317.5h5M610 337.5h5M615 382.5h5M600 397.5h5M585 407.5h5M570 422.5h5M560 437.5h5M555 442.5h5M535 467.5h5M530 472.5h5M525 477.5h5M515 492.5h5M510 497.5h5M505 502.5h5"/><path stroke="#9e9e9e" d="M600 262.5h5M595 277.5h5M595 282.5h5M600 327.5h5M605 332.5h5M615 347.5h5M590 402.5h5M580 407.5h5M575 412.5h5M570 417.5h5M565 427.5h5M560 432.5h5M550 447.5h5M545 452.5h5M540 457.5h5M535 462.5h5M530 467.5h5M520 482.5h5M515 487.5h5M510 492.5h5M505 497.5h5"/><path stroke="#9f9f9f" d="M595 262.5h5M595 267.5h5M595 272.5h5M590 292.5h5M590 297.5h5M590 302.5h5M590 307.5h5M590 312.5h5M595 322.5h5M610 387.5h5M605 392.5h5M595 397.5h5M585 402.5h5M575 407.5h5M570 412.5h5M565 422.5h5M555 437.5h5M550 442.5h5M545 447.5h5M540 452.5h5M525 472.5h5M520 477.5h5M515 482.5h5M510 487.5h5"/><path stroke="#a1a1a1" d="M595 257.5h5M590 277.5h5M590 282.5h5M590 287.5h5M590 317.5h5M580 402.5h5M565 417.5h5M560 427.5h5M555 432.5h5M550 437.5h5M535 457.5h5M530 462.5h5M525 467.5h5M520 472.5h5M515 477.5h5M505 492.5h5"/><path stroke="#a2a2a2" d="M590 257.5h5M590 262.5h5M590 267.5h5M590 272.5h5M585 292.5h5M585 297.5h5M585 302.5h5M585 307.5h5M585 312.5h5M590 322.5h5M595 327.5h5M610 342.5h5M615 377.5h5M590 397.5h5M575 402.5h5M570 407.5h5M565 412.5h5M560 417.5h5M560 422.5h5M555 427.5h5M545 442.5h5M540 447.5h5M535 452.5h5M530 457.5h5M525 462.5h5M510 482.5h5M505 487.5h5"/><path stroke="#a3a3a3" d="M590 252.5h5M585 272.5h5M585 277.5h5M585 282.5h5M585 287.5h5M585 317.5h5M600 332.5h5M605 337.5h5M615 352.5h5M600 392.5h5M585 397.5h5M570 402.5h5M565 407.5h5M560 412.5h5M555 422.5h5M550 432.5h5M545 437.5h5M540 442.5h5M535 447.5h5M530 452.5h5M520 467.5h5M515 472.5h5M510 477.5h5M505 482.5h5M500 487.5h5"/><path stroke="#a4a4a4" d="M585 252.5h5M585 257.5h5M585 262.5h5M585 267.5h5M580 287.5h5M580 292.5h5M580 297.5h5M580 302.5h5M580 307.5h5M580 312.5h5M580 317.5h5M585 322.5h5M590 327.5h5M605 387.5h5M595 392.5h5M575 397.5h10M565 402.5h5M560 407.5h5M555 412.5h5M555 417.5h5M550 422.5h5M550 427.5h5M545 432.5h5M540 437.5h5M535 442.5h5M525 457.5h5M520 462.5h5M515 467.5h5"/><path stroke="#a6a6a6" d="M585 247.5h5M580 262.5h5M580 267.5h5M580 272.5h5M580 277.5h5M580 282.5h5M575 297.5h5M575 302.5h5M575 307.5h5M575 312.5h5M580 322.5h5M595 332.5h5M615 372.5h5M610 382.5h5M565 397.5h10M560 402.5h5M555 407.5h5M550 417.5h5M545 427.5h5M540 432.5h5M535 437.5h5M530 447.5h5M525 452.5h5M520 457.5h5M510 472.5h5M505 477.5h5M500 482.5h5"/><path stroke="#a7a7a7" d="M580 242.5h5M580 247.5h5M580 252.5h5M580 257.5h5M575 267.5h5M575 272.5h5M575 277.5h5M575 282.5h5M575 287.5h5M575 292.5h5M575 317.5h5M585 327.5h5M570 392.5h25M560 397.5h5M555 402.5h5M550 407.5h5M550 412.5h5M545 417.5h5M545 422.5h5M540 427.5h5M535 432.5h5M530 442.5h5M525 447.5h5M515 462.5h5M510 467.5h5M505 472.5h5M500 477.5h5"/><path stroke="#a8a8a8" d="M580 237.5h5M575 252.5h5M575 257.5h5M575 262.5h5M570 272.5h5M570 277.5h5M570 282.5h5M570 287.5h5M570 292.5h5M570 297.5h5M570 302.5h5M570 307.5h5M570 312.5h5M570 317.5h5M575 322.5h5M580 327.5h5M590 332.5h5M600 337.5h5M615 357.5h5M600 387.5h5M560 392.5h10M555 397.5h5M550 402.5h5M545 407.5h5M545 412.5h5M540 417.5h5M540 422.5h5M535 427.5h5M530 437.5h5M520 452.5h5M515 457.5h5"/><path stroke="#aaaaaa" d="M575 237.5h5M575 242.5h5M575 247.5h5M570 257.5h5M570 262.5h5M570 267.5h5M565 277.5h5M565 282.5h5M565 287.5h5M565 292.5h5M565 297.5h5M565 302.5h5M565 307.5h5M565 312.5h5M570 322.5h5M575 327.5h5M585 332.5h5M610 347.5h5M615 362.5h5M615 367.5h5M560 387.5h15M555 392.5h5M550 397.5h5M545 402.5h5M540 412.5h5M535 422.5h5M530 432.5h5M525 442.5h5M520 447.5h5M510 462.5h5M505 467.5h5M500 472.5h5"/><path stroke="#ababab" d="M570 242.5h5M570 247.5h5M570 252.5h5M565 262.5h5M565 267.5h5M565 272.5h5M560 277.5h5M560 282.5h5M560 287.5h5M560 292.5h5M560 297.5h5M560 302.5h5M560 307.5h5M565 317.5h5M565 322.5h5M570 327.5h5M575 332.5h10M605 342.5h5M610 377.5h5M555 387.5h5M575 387.5h10M595 387.5h5M550 392.5h5M545 397.5h5M540 407.5h5M535 412.5h5M535 417.5h5M530 422.5h5M530 427.5h5M525 437.5h5M520 442.5h5M515 452.5h5M510 457.5h5M505 462.5h5"/><path stroke="#acacac" d="M570 237.5h5M565 252.5h5M565 257.5h5M560 267.5h5M560 272.5h5M555 282.5h5M555 287.5h5M555 292.5h5M555 297.5h5M560 312.5h5M560 317.5h5M560 322.5h5M565 327.5h5M565 332.5h10M595 337.5h5M555 382.5h20M605 382.5h5M550 387.5h5M585 387.5h10M545 392.5h5M540 397.5h5M540 402.5h5M535 407.5h5M530 417.5h5M525 432.5h5M515 447.5h5M500 467.5h5M495 472.5h5"/><path stroke="#adadad" d="M565 237.5h5M565 242.5h5M565 247.5h5M560 257.5h5M560 262.5h5M555 267.5h5M555 272.5h5M555 277.5h5M555 302.5h5M555 307.5h5M555 312.5h5M560 327.5h5M560 332.5h5M565 337.5h30M550 377.5h20M550 382.5h5M575 382.5h5M545 387.5h5M540 392.5h5M535 402.5h5M530 412.5h5M525 422.5h5M525 427.5h5M520 437.5h5M515 442.5h5M510 452.5h5M505 457.5h5M500 462.5h5M495 467.5h5"/><path stroke="#afafaf" d="M560 247.5h5M560 252.5h5M555 262.5h5M550 277.5h5M550 282.5h5M550 287.5h5M550 292.5h5M550 297.5h5M550 302.5h5M555 317.5h5M555 322.5h5M555 327.5h5M560 337.5h5M560 342.5h15M555 367.5h5M550 372.5h15M545 377.5h5M570 377.5h5M545 382.5h5M540 387.5h5M535 397.5h5M530 407.5h5M525 417.5h5M520 432.5h5M510 447.5h5"/><path stroke="#b0b0b0" d="M560 237.5h5M560 242.5h5M555 252.5h5M555 257.5h5M550 267.5h5M550 272.5h5M550 307.5h5M550 312.5h5M550 317.5h5M555 332.5h5M555 337.5h5M555 342.5h5M575 342.5h5M600 342.5h5M555 347.5h15M555 352.5h10M610 352.5h5M555 357.5h10M550 362.5h15M550 367.5h5M560 367.5h10M545 372.5h5M565 372.5h5M540 382.5h5M580 382.5h5M600 382.5h5M535 392.5h5M530 402.5h5M525 412.5h5M520 427.5h5M515 437.5h5M505 452.5h5M500 457.5h5M495 462.5h5M490 467.5h5"/><path stroke="#b1b1b1" d="M555 242.5h5M555 247.5h5M550 262.5h5M545 277.5h5M545 282.5h5M545 287.5h5M545 292.5h5M545 297.5h5M545 302.5h5M550 322.5h5M550 327.5h5M550 332.5h5M550 337.5h5M550 342.5h5M580 342.5h5M550 347.5h5M570 347.5h5M550 352.5h5M565 352.5h5M550 357.5h5M565 357.5h5M545 362.5h5M565 362.5h5M545 367.5h5M570 372.5h5M610 372.5h5M540 377.5h5M575 377.5h5M585 382.5h5M535 387.5h5M530 397.5h5M520 422.5h5M515 432.5h5M510 442.5h5M505 447.5h5"/><path stroke="#b2b2b2" d="M300 147.5h15M295 152.5h25M295 157.5h25M295 162.5h25M295 167.5h20M555 237.5h5M550 252.5h5M550 257.5h5M545 267.5h5M545 272.5h5M545 307.5h5M545 312.5h5M585 342.5h5M595 342.5h5M575 347.5h5M605 347.5h5M545 352.5h5M570 352.5h5M545 357.5h5M540 367.5h5M570 367.5h5M540 372.5h5M605 377.5h5M535 382.5h5M590 382.5h10M530 392.5h5M525 407.5h5M520 417.5h5M515 427.5h5M510 437.5h5M500 452.5h5M495 457.5h5M490 462.5h5"/><path stroke="#b4b4b4" d="M300 122.5h10M290 127.5h35M280 132.5h50M280 137.5h50M275 142.5h60M275 147.5h25M315 147.5h20M275 152.5h20M320 152.5h15M275 157.5h20M320 157.5h15M275 162.5h20M320 162.5h15M280 167.5h15M315 167.5h20M280 172.5h50M285 177.5h40M295 182.5h25M550 242.5h5M550 247.5h5M545 262.5h5M540 277.5h5M540 282.5h5M540 287.5h5M540 292.5h5M540 297.5h5M545 317.5h5M545 322.5h5M545 327.5h5M545 332.5h5M545 337.5h5M545 342.5h5M590 342.5h5M545 347.5h5M540 357.5h5M570 357.5h5M540 362.5h5M570 362.5h5M535 372.5h5M575 372.5h5M535 377.5h5M580 377.5h5M530 387.5h5M525 402.5h5M520 412.5h5M505 442.5h5"/><path stroke="#b5b5b5" d="M285 102.5h35M280 107.5h45M275 112.5h60M270 117.5h65M265 122.5h35M310 122.5h30M265 127.5h25M325 127.5h15M260 132.5h20M330 132.5h15M260 137.5h20M330 137.5h15M260 142.5h15M335 142.5h10M260 147.5h15M335 147.5h10M260 152.5h15M335 152.5h10M260 157.5h15M335 157.5h10M265 162.5h10M335 162.5h10M265 167.5h15M335 167.5h5M270 172.5h10M330 172.5h10M270 177.5h15M325 177.5h10M275 182.5h20M320 182.5h10M285 187.5h40M295 192.5h15M550 232.5h5M550 237.5h5M545 252.5h5M545 257.5h5M540 272.5h5M540 302.5h5M540 307.5h5M540 347.5h5M580 347.5h5M540 352.5h5M575 352.5h5M535 367.5h5M530 382.5h5M525 397.5h5M515 422.5h5M510 432.5h5M500 447.5h5M495 452.5h5M490 457.5h5"/><path stroke="#b6b6b6" d="M280 77.5h55M260 82.5h10M275 82.5h65M255 87.5h85M255 92.5h90M250 97.5h95M250 102.5h35M320 102.5h30M250 107.5h30M325 107.5h25M245 112.5h30M335 112.5h15M245 117.5h25M335 117.5h20M245 122.5h20M340 122.5h15M245 127.5h20M340 127.5h15M245 132.5h15M345 132.5h10M245 137.5h15M345 137.5h10M245 142.5h15M345 142.5h10M245 147.5h15M345 147.5h10M245 152.5h15M345 152.5h10M250 157.5h10M345 157.5h10M250 162.5h15M345 162.5h5M255 167.5h10M340 167.5h10M255 172.5h15M340 172.5h10M260 177.5h10M335 177.5h10M265 182.5h10M330 182.5h10M270 187.5h15M325 187.5h10M275 192.5h20M310 192.5h20M290 197.5h30M545 247.5h5M540 262.5h5M540 267.5h5M540 312.5h5M540 317.5h5M540 322.5h5M540 327.5h5M540 332.5h5M540 337.5h5M540 342.5h5M535 357.5h5M575 357.5h5M610 357.5h5M535 362.5h5M575 367.5h5M610 367.5h5M530 377.5h5M585 377.5h5M525 392.5h5M520 407.5h5M515 417.5h5M510 427.5h5M505 437.5h5"/><path stroke="#b8b8b8" d="M245 82.5h15M340 82.5h5M235 87.5h20M340 87.5h20M230 92.5h25M345 92.5h15M225 97.5h25M345 97.5h20M220 102.5h30M350 102.5h15M225 107.5h25M350 107.5h15M225 112.5h20M350 112.5h15M225 117.5h20M355 117.5h10M225 122.5h20M355 122.5h10M225 127.5h20M355 127.5h10M225 132.5h20M355 132.5h10M230 137.5h15M355 137.5h10M230 142.5h15M355 142.5h10M230 147.5h15M355 147.5h10M235 152.5h10M355 152.5h5M235 157.5h15M355 157.5h5M235 162.5h15M350 162.5h10M240 167.5h15M350 167.5h5M245 172.5h10M350 172.5h5M245 177.5h15M345 177.5h5M250 182.5h15M340 182.5h10M255 187.5h15M335 187.5h10M265 192.5h10M330 192.5h10M270 197.5h20M320 197.5h10M285 202.5h35M545 232.5h5M545 237.5h5M545 242.5h5M540 257.5h5M535 277.5h5M535 282.5h5M535 287.5h5M535 292.5h5M535 297.5h5M585 347.5h5M535 352.5h5M575 362.5h5M610 362.5h5M530 367.5h5M530 372.5h5M580 372.5h5M600 377.5h5M525 387.5h5M520 402.5h5M500 442.5h5M495 447.5h5M490 452.5h5M485 457.5h5"/><path stroke="#b9b9b9" d="M210 107.5h15M365 107.5h5M205 112.5h20M365 112.5h5M205 117.5h20M365 117.5h5M205 122.5h20M365 122.5h5M205 127.5h20M365 127.5h5M210 132.5h15M365 132.5h5M210 137.5h20M365 137.5h5M210 142.5h20M365 142.5h5M215 147.5h15M365 147.5h5M220 152.5h15M360 152.5h10M220 157.5h15M360 157.5h5M225 162.5h10M225 167.5h15M230 172.5h15M355 172.5h5M235 177.5h10M350 177.5h5M240 182.5h10M350 182.5h5M245 187.5h10M345 187.5h5M250 192.5h15M340 192.5h5M255 197.5h15M330 197.5h10M265 202.5h20M320 202.5h10M280 207.5h40M540 252.5h5M535 272.5h5M535 302.5h5M535 307.5h5M535 342.5h5M535 347.5h5M600 347.5h5M580 352.5h5M530 362.5h5M525 377.5h5M590 377.5h5M525 382.5h5M520 397.5h5M515 412.5h5M510 422.5h5M505 432.5h5"/><path stroke="#bababa" d="M205 132.5h5M205 137.5h5M205 142.5h5M200 147.5h15M200 152.5h20M205 157.5h15M210 162.5h15M210 167.5h15M215 172.5h15M220 177.5h15M355 177.5h10M225 182.5h15M355 182.5h5M230 187.5h15M350 187.5h5M235 192.5h15M345 192.5h5M245 197.5h10M340 197.5h5M250 202.5h15M330 202.5h10M260 207.5h20M320 207.5h10M275 212.5h45M540 237.5h5M540 242.5h5M540 247.5h5M535 262.5h5M535 267.5h5M535 312.5h5M535 317.5h5M535 322.5h5M535 327.5h5M535 332.5h5M535 337.5h5M590 347.5h10M530 352.5h5M605 352.5h5M530 357.5h5M580 367.5h5M525 372.5h5M605 372.5h5M595 377.5h5M520 392.5h5M515 407.5h5M500 437.5h5M495 442.5h5M490 447.5h5M485 452.5h5"/><path stroke="#bbbbbb" d="M200 157.5h5M200 162.5h10M200 167.5h10M200 172.5h15M205 177.5h15M210 182.5h15M360 182.5h5M215 187.5h15M355 187.5h5M220 192.5h15M350 192.5h5M230 197.5h15M345 197.5h5M235 202.5h15M340 202.5h5M245 207.5h15M330 207.5h10M255 212.5h20M320 212.5h10M275 217.5h40M540 232.5h5M535 257.5h5M530 282.5h5M530 287.5h5M530 292.5h5M530 297.5h5M530 347.5h5M580 357.5h5M525 362.5h5M580 362.5h5M525 367.5h5M585 372.5h5M520 387.5h5M515 402.5h5M510 417.5h5M505 427.5h5"/><path stroke="#bdbdbd" d="M195 172.5h5M190 177.5h15M190 182.5h20M200 187.5h15M360 187.5h5M205 192.5h15M355 192.5h5M210 197.5h20M350 197.5h5M220 202.5h15M345 202.5h5M230 207.5h15M340 207.5h5M240 212.5h15M330 212.5h10M250 217.5h25M315 217.5h15M270 222.5h45M535 247.5h5M535 252.5h5M530 272.5h5M530 277.5h5M530 302.5h5M530 307.5h5M530 337.5h5M530 342.5h5M585 352.5h5M525 357.5h5M520 377.5h5M520 382.5h5M515 397.5h5M510 412.5h5M505 422.5h5M500 432.5h5M495 437.5h5"/><path stroke="#bebebe" d="M180 182.5h10M175 187.5h25M365 187.5h5M185 192.5h20M360 192.5h5M195 197.5h15M355 197.5h5M200 202.5h20M350 202.5h10M210 207.5h20M345 207.5h5M220 212.5h20M340 212.5h5M230 217.5h20M330 217.5h10M245 222.5h25M315 222.5h10M265 227.5h45M535 232.5h5M535 237.5h5M535 242.5h5M530 267.5h5M530 312.5h5M530 317.5h5M530 322.5h5M530 327.5h5M530 332.5h5M525 352.5h5M520 367.5h5M520 372.5h5M515 392.5h5M490 442.5h5M485 447.5h5"/><path stroke="#bfbfbf" d="M170 187.5h5M165 192.5h20M365 192.5h5M170 197.5h25M360 197.5h5M180 202.5h20M360 202.5h5M190 207.5h20M350 207.5h5M200 212.5h20M345 212.5h5M210 217.5h20M340 217.5h5M220 222.5h25M325 222.5h10M235 227.5h30M310 227.5h15M260 232.5h45M530 257.5h5M530 262.5h5M525 342.5h5M525 347.5h5M520 362.5h5M585 367.5h5M590 372.5h5M515 387.5h5M510 407.5h5M505 417.5h5M500 427.5h5"/><path stroke="#c1c1c1" d="M370 192.5h5M160 197.5h10M365 197.5h5M155 202.5h25M165 207.5h25M355 207.5h5M175 212.5h25M350 212.5h5M185 217.5h25M345 217.5h5M195 222.5h25M335 222.5h10M205 227.5h30M325 227.5h10M220 232.5h40M305 232.5h20M250 237.5h45M530 247.5h5M530 252.5h5M525 277.5h5M525 282.5h5M525 287.5h5M525 292.5h5M525 297.5h5M525 302.5h5M525 307.5h5M525 337.5h5M520 352.5h5M590 352.5h5M600 352.5h5M520 357.5h5M585 357.5h5M605 357.5h5M605 367.5h5M600 372.5h5M515 377.5h5M515 382.5h5M510 402.5h5M495 432.5h5M490 437.5h5M485 442.5h5"/><path stroke="#c2c2c2" d="M375 192.5h5M370 197.5h5M365 202.5h5M155 207.5h10M360 207.5h5M150 212.5h25M355 212.5h5M155 217.5h30M350 217.5h5M170 222.5h25M345 222.5h5M180 227.5h25M335 227.5h10M190 232.5h30M325 232.5h10M530 232.5h5M205 237.5h45M295 237.5h25M530 237.5h5M225 242.5h65M530 242.5h5M525 272.5h5M525 312.5h5M525 317.5h5M525 322.5h5M525 327.5h5M525 332.5h5M520 347.5h5M595 352.5h5M585 362.5h5M515 367.5h5M515 372.5h5M595 372.5h5M510 397.5h5M505 412.5h5M500 422.5h5"/><path stroke="#c3c3c3" d="M380 192.5h5M375 197.5h5M370 202.5h5M365 207.5h5M360 212.5h5M145 217.5h10M355 217.5h5M140 222.5h30M350 222.5h5M150 227.5h30M345 227.5h5M165 232.5h25M335 232.5h5M175 237.5h30M320 237.5h10M190 242.5h35M290 242.5h25M205 247.5h85M525 262.5h5M525 267.5h5M520 342.5h5M515 357.5h5M515 362.5h5M605 362.5h5M510 392.5h5M495 427.5h5M490 432.5h5M485 437.5h5M480 442.5h5"/><path stroke="#c4c4c4" d="M385 192.5h5M380 197.5h5M375 202.5h5M370 207.5h5M365 212.5h5M360 217.5h5M355 222.5h5M135 227.5h15M350 227.5h5M135 232.5h30M340 232.5h10M145 237.5h30M330 237.5h10M160 242.5h30M315 242.5h15M170 247.5h35M290 247.5h25M185 252.5h105M525 252.5h5M200 257.5h55M525 257.5h5M520 287.5h5M520 292.5h5M520 297.5h5M520 302.5h5M520 307.5h5M520 332.5h5M520 337.5h5M515 352.5h5M590 367.5h5M510 377.5h5M510 382.5h5M510 387.5h5M505 407.5h5M500 417.5h5"/><path stroke="#c6c6c6" d="M390 192.5h5M385 197.5h5M380 202.5h5M375 207.5h5M370 212.5h5M365 217.5h5M360 222.5h5M355 227.5h5M525 227.5h5M350 232.5h5M525 232.5h5M135 237.5h10M340 237.5h10M525 237.5h5M130 242.5h30M330 242.5h10M525 242.5h5M140 247.5h30M315 247.5h15M525 247.5h5M155 252.5h30M290 252.5h25M165 257.5h35M255 257.5h35M180 262.5h85M190 267.5h55M520 277.5h5M520 282.5h5M520 312.5h5M520 317.5h5M520 322.5h5M520 327.5h5M515 347.5h5M590 357.5h5M510 362.5h5M510 367.5h5M510 372.5h5M505 402.5h5M495 422.5h5M475 442.5h5M470 447.5h5"/><path stroke="#c7c7c7" d="M390 197.5h5M385 202.5h5M380 207.5h5M375 212.5h5M370 217.5h5M365 222.5h5M360 227.5h5M355 232.5h5M350 237.5h5M340 242.5h5M130 247.5h10M330 247.5h10M125 252.5h30M315 252.5h15M135 257.5h30M290 257.5h25M150 262.5h30M265 262.5h25M160 267.5h30M245 267.5h25M170 272.5h85M520 272.5h5M180 277.5h65M195 282.5h35M515 337.5h5M515 342.5h5M510 352.5h5M510 357.5h5M600 357.5h5M590 362.5h5M595 367.5h10M505 397.5h5M500 412.5h5M490 427.5h5M485 432.5h5M480 437.5h5M465 447.5h5"/><path stroke="#c8c8c8" d="M380 212.5h5M375 217.5h5M370 222.5h5M365 227.5h5M520 227.5h5M360 232.5h5M355 237.5h5M345 242.5h10M340 247.5h5M330 252.5h10M120 257.5h15M315 257.5h15M115 262.5h35M290 262.5h25M520 262.5h5M130 267.5h30M270 267.5h25M520 267.5h5M145 272.5h25M255 272.5h25M155 277.5h25M245 277.5h20M165 282.5h30M230 282.5h25M175 287.5h70M180 292.5h60M190 297.5h40M515 297.5h5M515 302.5h5M515 307.5h5M515 327.5h5M515 332.5h5M510 347.5h5M595 357.5h5M505 387.5h5M505 392.5h5M500 407.5h5M495 417.5h5M470 442.5h5"/><path stroke="#c9c9c9" d="M395 197.5h5M390 202.5h5M385 207.5h5M375 222.5h5M370 227.5h5M365 232.5h5M520 232.5h5M360 237.5h5M520 237.5h5M355 242.5h5M520 242.5h5M345 247.5h10M520 247.5h5M340 252.5h5M520 252.5h5M330 257.5h10M520 257.5h5M315 262.5h15M115 267.5h15M295 267.5h20M115 272.5h30M280 272.5h20M115 277.5h40M265 277.5h20M140 282.5h25M255 282.5h20M150 287.5h25M245 287.5h20M515 287.5h5M155 292.5h25M240 292.5h15M515 292.5h5M165 297.5h25M230 297.5h20M170 302.5h75M175 307.5h65M180 312.5h55M515 312.5h5M185 317.5h45M515 317.5h5M190 322.5h30M515 322.5h5M510 342.5h5M505 352.5h5M505 357.5h5M505 362.5h5M595 362.5h10M505 367.5h5M505 372.5h5M505 377.5h5M505 382.5h5M115 407.5h5M115 412.5h10M115 417.5h15M115 422.5h20M490 422.5h5M120 427.5h20M485 427.5h5M120 432.5h20M480 432.5h5M135 437.5h10M475 437.5h5M460 447.5h5"/><path stroke="#cbcbcb" d="M400 197.5h5M395 202.5h5M390 207.5h5M385 212.5h5M380 217.5h5M375 227.5h5M370 232.5h5M365 237.5h5M360 242.5h5M355 247.5h5M345 252.5h10M340 257.5h5M330 262.5h10M315 267.5h15M300 272.5h20M285 277.5h20M115 282.5h25M275 282.5h15M515 282.5h5M110 287.5h40M265 287.5h15M125 292.5h30M255 292.5h20M140 297.5h25M250 297.5h15M145 302.5h25M245 302.5h15M155 307.5h20M240 307.5h15M160 312.5h20M235 312.5h20M160 317.5h25M230 317.5h20M165 322.5h25M220 322.5h25M165 327.5h75M170 332.5h70M510 332.5h5M170 337.5h65M510 337.5h5M170 342.5h65M170 347.5h60M505 347.5h5M170 352.5h55M170 357.5h55M170 362.5h50M170 367.5h45M170 372.5h40M170 377.5h30M160 382.5h25M115 387.5h60M115 392.5h55M115 397.5h55M115 402.5h50M500 402.5h5M120 407.5h45M125 412.5h40M495 412.5h5M130 417.5h35M135 422.5h30M140 427.5h25M140 432.5h25M145 437.5h20M145 442.5h25M465 442.5h5M150 447.5h20M155 452.5h20M160 457.5h20M185 462.5h5M215 462.5h10"/><path stroke="#cccccc" d="M400 202.5h5M395 207.5h5M390 212.5h5M385 217.5h5M380 222.5h5M515 222.5h5M515 227.5h5M370 237.5h5M365 242.5h5M360 247.5h5M355 252.5h5M345 257.5h10M340 262.5h10M330 267.5h10M320 272.5h10M515 272.5h5M305 277.5h15M515 277.5h5M290 282.5h20M280 287.5h20M110 292.5h15M275 292.5h15M105 297.5h35M265 297.5h15M105 302.5h40M260 302.5h15M510 302.5h5M105 307.5h50M255 307.5h15M510 307.5h5M130 312.5h30M255 312.5h15M510 312.5h5M140 317.5h20M250 317.5h15M510 317.5h5M140 322.5h25M245 322.5h15M510 322.5h5M145 327.5h20M240 327.5h20M510 327.5h5M145 332.5h25M240 332.5h15M145 337.5h25M235 337.5h20M145 342.5h25M235 342.5h15M505 342.5h5M140 347.5h30M230 347.5h20M140 352.5h30M225 352.5h25M105 357.5h5M130 357.5h40M225 357.5h20M500 357.5h5M105 362.5h65M220 362.5h25M500 362.5h5M105 367.5h65M215 367.5h30M500 367.5h5M115 372.5h55M210 372.5h35M500 372.5h5M115 377.5h55M200 377.5h40M120 382.5h40M185 382.5h55M175 387.5h65M170 392.5h70M500 392.5h5M170 397.5h70M500 397.5h5M165 402.5h75M165 407.5h75M165 412.5h80M165 417.5h80M490 417.5h5M165 422.5h85M165 427.5h90M165 432.5h95M475 432.5h5M165 437.5h80M470 437.5h5M170 442.5h70M170 447.5h70M455 447.5h5M175 452.5h60M180 457.5h45M190 462.5h25"/><path stroke="#cdcdcd" d="M390 217.5h5M385 222.5h5M380 227.5h5M375 232.5h5M515 232.5h5M370 242.5h5M365 247.5h5M360 252.5h5M355 257.5h5M350 262.5h5M340 267.5h10M515 267.5h5M330 272.5h10M320 277.5h15M310 282.5h15M300 287.5h15M290 292.5h15M510 292.5h5M280 297.5h20M510 297.5h5M275 302.5h15M270 307.5h15M105 312.5h25M270 312.5h10M105 317.5h35M265 317.5h15M105 322.5h35M260 322.5h15M105 327.5h40M260 327.5h10M105 332.5h40M255 332.5h15M505 332.5h5M105 337.5h40M255 337.5h10M505 337.5h5M105 342.5h40M250 342.5h15M105 347.5h35M250 347.5h15M500 347.5h5M105 352.5h35M250 352.5h10M500 352.5h5M110 357.5h20M245 357.5h15M245 362.5h15M245 367.5h15M245 372.5h10M240 377.5h15M500 377.5h5M240 382.5h15M500 382.5h5M240 387.5h15M500 387.5h5M240 392.5h20M240 397.5h20M240 402.5h20M240 407.5h20M495 407.5h5M245 412.5h20M245 417.5h20M250 422.5h20M485 422.5h5M255 427.5h15M480 427.5h5M260 432.5h15M270 437.5h10M465 437.5h5M460 442.5h5M450 447.5h5"/><path stroke="#cfcfcf" d="M405 202.5h5M400 207.5h5M395 212.5h5M510 222.5h5M385 227.5h5M380 232.5h5M375 237.5h5M515 237.5h5M515 242.5h5M370 247.5h5M515 247.5h5M365 252.5h5M515 252.5h5M360 257.5h5M515 257.5h5M355 262.5h5M515 262.5h5M350 267.5h5M340 272.5h10M335 277.5h10M325 282.5h10M315 287.5h15M510 287.5h5M305 292.5h15M300 297.5h15M290 302.5h15M285 307.5h15M280 312.5h15M505 312.5h5M280 317.5h10M505 317.5h5M275 322.5h10M505 322.5h5M270 327.5h15M505 327.5h5M270 332.5h10M265 337.5h15M500 337.5h5M265 342.5h10M500 342.5h5M265 347.5h10M260 352.5h10M260 357.5h10M495 357.5h5M260 362.5h10M495 362.5h5M260 367.5h10M255 372.5h15M255 377.5h15M255 382.5h15M255 387.5h15M260 392.5h10M260 397.5h10M260 402.5h10M495 402.5h5M260 407.5h10M265 412.5h10M490 412.5h5M265 417.5h10M270 422.5h10M270 427.5h10M275 432.5h10M470 432.5h5M280 437.5h10M455 442.5h5"/><path stroke="#d0d0d0" d="M410 202.5h5M405 207.5h5M400 212.5h5M395 217.5h5M390 222.5h5M510 227.5h5M385 232.5h5M380 237.5h5M375 242.5h5M370 252.5h5M365 257.5h5M360 262.5h5M355 267.5h5M350 272.5h5M345 277.5h5M335 282.5h10M510 282.5h5M330 287.5h10M320 292.5h10M315 297.5h10M305 302.5h15M505 302.5h5M300 307.5h10M505 307.5h5M295 312.5h10M290 317.5h10M285 322.5h10M285 327.5h10M500 327.5h5M280 332.5h10M500 332.5h5M280 337.5h5M275 342.5h10M495 342.5h5M275 347.5h5M495 347.5h5M270 352.5h10M495 352.5h5M270 357.5h10M270 362.5h10M270 367.5h5M495 367.5h5M270 372.5h5M495 372.5h5M270 377.5h5M495 377.5h5M270 382.5h5M270 387.5h5M270 392.5h5M270 397.5h10M495 397.5h5M270 402.5h10M270 407.5h10M275 412.5h5M275 417.5h10M485 417.5h5M280 422.5h5M480 422.5h5M280 427.5h10M475 427.5h5M285 432.5h10M290 437.5h10M460 437.5h5"/><path stroke="#d1d1d1" d="M400 217.5h5M395 222.5h5M390 227.5h5M510 232.5h5M385 237.5h5M380 242.5h5M375 247.5h5M375 252.5h5M370 257.5h5M365 262.5h5M360 267.5h5M355 272.5h10M350 277.5h10M510 277.5h5M345 282.5h5M340 287.5h5M330 292.5h10M325 297.5h10M505 297.5h5M320 302.5h5M310 307.5h10M305 312.5h10M500 312.5h5M300 317.5h10M500 317.5h5M295 322.5h10M500 322.5h5M295 327.5h5M290 332.5h10M495 332.5h5M285 337.5h10M495 337.5h5M285 342.5h10M280 347.5h10M280 352.5h10M280 357.5h5M490 357.5h5M280 362.5h5M275 367.5h10M275 372.5h10M275 377.5h10M275 382.5h10M495 382.5h5M275 387.5h10M495 387.5h5M275 392.5h10M495 392.5h5M280 397.5h5M280 402.5h5M280 407.5h5M490 407.5h5M280 412.5h10M285 417.5h5M285 422.5h10M290 427.5h5M470 427.5h5M295 432.5h5M465 432.5h5M450 442.5h5"/><path stroke="#d2d2d2" d="M410 207.5h5M405 212.5h5M505 222.5h5M395 227.5h5M390 232.5h5M510 237.5h5M385 242.5h5M380 247.5h5M375 257.5h5M370 262.5h5M365 267.5h5M365 272.5h5M510 272.5h5M360 277.5h5M350 282.5h10M345 287.5h10M340 292.5h10M505 292.5h5M335 297.5h5M325 302.5h10M320 307.5h10M500 307.5h5M315 312.5h10M310 317.5h10M305 322.5h10M495 322.5h5M300 327.5h10M495 327.5h5M300 332.5h5M295 337.5h10M295 342.5h5M490 342.5h5M290 347.5h5M490 347.5h5M290 352.5h5M490 352.5h5M285 357.5h10M285 362.5h5M490 362.5h5M285 367.5h5M490 367.5h5M285 372.5h5M490 372.5h5M285 377.5h5M285 382.5h5M285 387.5h5M285 392.5h5M285 397.5h5M285 402.5h5M490 402.5h5M285 407.5h10M290 412.5h5M485 412.5h5M290 417.5h5M480 417.5h5M295 422.5h5M475 422.5h5M295 427.5h10M300 432.5h5M460 432.5h5M455 437.5h5"/><path stroke="#d4d4d4" d="M415 207.5h5M410 212.5h5M405 217.5h5M500 217.5h5M400 222.5h5M505 227.5h5M390 237.5h5M510 242.5h5M385 247.5h5M510 247.5h5M380 252.5h5M510 252.5h5M510 257.5h5M375 262.5h5M510 262.5h5M370 267.5h5M510 267.5h5M370 272.5h5M365 277.5h5M360 282.5h5M355 287.5h5M505 287.5h5M350 292.5h5M340 297.5h10M335 302.5h5M500 302.5h5M330 307.5h5M325 312.5h5M495 312.5h5M320 317.5h5M495 317.5h5M315 322.5h5M310 327.5h5M490 327.5h5M305 332.5h5M490 332.5h5M305 337.5h5M490 337.5h5M300 342.5h5M295 347.5h10M295 352.5h5M485 352.5h5M295 357.5h5M485 357.5h5M290 362.5h5M290 367.5h5M290 372.5h5M290 377.5h5M490 377.5h5M290 382.5h5M490 382.5h5M290 387.5h5M290 392.5h5M290 397.5h5M490 397.5h5M290 402.5h5M295 407.5h5M295 412.5h5M295 417.5h5M300 422.5h5M305 427.5h5M465 427.5h5M305 432.5h5M445 442.5h5"/><path stroke="#d5d5d5" d="M400 227.5h5M395 232.5h5M390 242.5h5M385 252.5h5M380 257.5h5M380 262.5h5M375 267.5h5M375 272.5h5M370 277.5h5M365 282.5h5M505 282.5h5M360 287.5h5M355 292.5h5M350 297.5h5M500 297.5h5M340 302.5h10M335 307.5h10M495 307.5h5M330 312.5h5M325 317.5h5M490 317.5h5M320 322.5h5M490 322.5h5M315 327.5h5M310 332.5h10M310 337.5h5M485 337.5h5M305 342.5h5M485 342.5h5M305 347.5h5M485 347.5h5M300 352.5h5M300 357.5h5M295 362.5h5M485 362.5h5M295 367.5h5M485 367.5h5M295 372.5h5M485 372.5h5M295 377.5h5M295 382.5h5M295 387.5h5M490 387.5h5M295 392.5h5M490 392.5h5M295 397.5h5M295 402.5h5M485 407.5h5M300 412.5h5M480 412.5h5M300 417.5h5M475 417.5h5M305 422.5h5M470 422.5h5M310 427.5h5M455 432.5h5M450 437.5h5M440 442.5h5"/><path stroke="#d6d6d6" d="M415 212.5h5M410 217.5h5M405 222.5h5M500 222.5h5M400 232.5h5M505 232.5h5M395 237.5h5M390 247.5h5M385 257.5h5M380 267.5h5M380 272.5h5M375 277.5h5M505 277.5h5M370 282.5h5M365 287.5h10M360 292.5h10M500 292.5h5M355 297.5h5M350 302.5h5M495 302.5h5M345 307.5h5M335 312.5h10M490 312.5h5M330 317.5h5M325 322.5h5M485 322.5h5M320 327.5h5M485 327.5h5M320 332.5h5M485 332.5h5M315 337.5h5M310 342.5h5M310 347.5h5M480 347.5h5M305 352.5h5M480 352.5h5M305 357.5h5M480 357.5h5M300 362.5h5M480 362.5h5M300 367.5h5M300 372.5h5M300 377.5h5M485 377.5h5M300 382.5h5M300 387.5h5M300 392.5h5M300 397.5h5M300 402.5h5M485 402.5h5M300 407.5h5M305 412.5h5M305 417.5h5M310 422.5h5M465 422.5h5M460 427.5h5M445 437.5h5"/><path stroke="#d7d7d7" d="M420 212.5h5M415 217.5h5M495 217.5h5M410 222.5h5M405 227.5h5M500 227.5h5M505 237.5h5M395 242.5h5M390 252.5h5M385 262.5h5M385 267.5h5M505 272.5h5M380 277.5h5M375 282.5h5M375 287.5h5M370 292.5h5M360 297.5h10M355 302.5h5M350 307.5h5M490 307.5h5M345 312.5h5M335 317.5h10M485 317.5h5M330 322.5h5M325 327.5h5M325 332.5h5M480 332.5h5M320 337.5h5M480 337.5h5M315 342.5h5M480 342.5h5M310 352.5h5M305 362.5h5M305 367.5h5M480 367.5h5M305 372.5h5M480 372.5h5M485 382.5h5M485 387.5h5M485 392.5h5M305 397.5h5M485 397.5h5M305 402.5h5M305 407.5h5M480 407.5h5M310 412.5h5M475 412.5h5M310 417.5h5M470 417.5h5M315 422.5h5M450 432.5h5M435 442.5h5"/><path stroke="#d9d9d9" d="M425 212.5h5M495 222.5h5M405 232.5h5M400 237.5h5M505 242.5h5M395 247.5h5M505 247.5h5M390 257.5h5M390 262.5h5M505 267.5h5M385 272.5h5M385 277.5h5M380 282.5h5M380 287.5h5M500 287.5h5M375 292.5h5M370 297.5h5M495 297.5h5M360 302.5h10M355 307.5h5M350 312.5h5M485 312.5h5M345 317.5h5M335 322.5h5M480 322.5h5M330 327.5h5M480 327.5h5M325 337.5h5M320 342.5h5M475 342.5h5M315 347.5h5M475 347.5h5M315 352.5h5M475 352.5h5M310 357.5h5M475 357.5h5M310 362.5h5M475 362.5h5M475 367.5h5M305 377.5h5M480 377.5h5M305 382.5h5M480 382.5h5M305 387.5h5M305 392.5h5M480 397.5h5M310 402.5h5M480 402.5h5M310 407.5h5M475 407.5h5M470 412.5h5M315 417.5h5M465 417.5h5M460 422.5h5M455 427.5h5M440 437.5h5"/><path stroke="#dadada" d="M420 217.5h5M490 217.5h5M415 222.5h5M410 227.5h5M500 232.5h5M400 242.5h5M395 252.5h5M505 252.5h5M395 257.5h5M505 257.5h5M505 262.5h5M390 267.5h5M390 272.5h5M390 277.5h5M385 282.5h5M500 282.5h5M385 287.5h5M380 292.5h5M495 292.5h5M375 297.5h5M370 302.5h5M490 302.5h5M360 307.5h10M485 307.5h5M355 312.5h5M350 317.5h5M480 317.5h5M340 322.5h5M335 327.5h5M475 327.5h5M330 332.5h5M475 332.5h5M475 337.5h5M325 342.5h5M320 347.5h5M470 352.5h5M315 357.5h5M470 357.5h5M470 362.5h5M310 367.5h5M470 367.5h5M310 372.5h5M475 372.5h5M310 377.5h5M475 377.5h5M310 382.5h5M310 387.5h5M480 387.5h5M310 392.5h5M480 392.5h5M310 397.5h5M475 402.5h5M315 407.5h5M315 412.5h5M320 417.5h5M450 427.5h5M445 432.5h5"/><path stroke="#dbdbdb" d="M430 212.5h5M425 217.5h5M495 227.5h5M410 232.5h5M405 237.5h5M500 237.5h5M400 247.5h5M400 252.5h5M395 262.5h5M395 267.5h5M390 282.5h5M390 287.5h5M385 292.5h5M380 297.5h10M490 297.5h5M375 302.5h10M370 307.5h5M360 312.5h5M480 312.5h5M355 317.5h5M475 317.5h5M345 322.5h5M475 322.5h5M340 327.5h5M335 332.5h5M470 332.5h5M330 337.5h5M470 337.5h5M470 342.5h5M325 347.5h5M470 347.5h5M320 352.5h5M320 357.5h5M465 357.5h5M315 362.5h5M465 362.5h5M315 367.5h5M315 372.5h5M470 372.5h5M470 377.5h5M475 382.5h5M475 387.5h5M475 392.5h5M315 397.5h5M475 397.5h5M315 402.5h5M470 407.5h5M320 412.5h5M465 412.5h5M460 417.5h5M455 422.5h5M435 437.5h5"/><path stroke="#dddddd" d="M485 217.5h5M420 222.5h5M490 222.5h5M415 227.5h5M405 242.5h5M500 242.5h5M400 257.5h5M395 272.5h5M395 277.5h5M500 277.5h5M395 282.5h5M395 287.5h5M495 287.5h5M390 292.5h5M390 297.5h5M385 302.5h5M485 302.5h5M375 307.5h10M480 307.5h5M365 312.5h10M475 312.5h5M360 317.5h5M350 322.5h5M470 322.5h5M345 327.5h5M470 327.5h5M340 332.5h5M335 337.5h5M465 337.5h5M330 342.5h5M465 342.5h5M465 347.5h5M325 352.5h5M465 352.5h5M460 357.5h5M320 362.5h5M465 367.5h5M465 372.5h5M315 377.5h5M315 382.5h5M470 382.5h5M315 387.5h5M470 387.5h5M315 392.5h5M470 392.5h5M470 397.5h5M470 402.5h5M320 407.5h5M465 407.5h5M460 412.5h5M455 417.5h5M445 427.5h5M440 432.5h5M430 437.5h5"/><path stroke="#dedede" d="M430 217.5h5M480 217.5h5M425 222.5h5M415 232.5h5M495 232.5h5M410 237.5h5M405 247.5h5M500 247.5h5M405 252.5h5M400 262.5h5M400 267.5h5M400 272.5h5M500 272.5h5M400 277.5h5M400 282.5h5M400 287.5h5M395 292.5h5M490 292.5h5M395 297.5h5M390 302.5h10M385 307.5h10M375 312.5h5M365 317.5h5M470 317.5h5M355 322.5h5M465 322.5h5M350 327.5h5M465 327.5h5M345 332.5h5M465 332.5h5M340 337.5h5M460 337.5h5M335 342.5h5M460 342.5h5M330 347.5h5M460 347.5h5M460 352.5h5M325 357.5h5M455 357.5h5M460 362.5h5M320 367.5h5M460 367.5h5M320 372.5h5M460 372.5h5M320 377.5h5M465 377.5h5M465 382.5h5M320 387.5h5M465 387.5h5M320 392.5h5M465 392.5h5M320 397.5h5M465 397.5h5M320 402.5h5M465 402.5h5M460 407.5h5M325 412.5h5M450 422.5h5"/><path stroke="#dfdfdf" d="M485 222.5h5M420 227.5h5M490 227.5h5M410 242.5h5M500 252.5h5M405 257.5h5M500 257.5h5M500 262.5h5M500 267.5h5M495 282.5h5M400 292.5h5M400 297.5h5M485 297.5h5M400 302.5h5M480 302.5h5M395 307.5h10M475 307.5h5M380 312.5h15M470 312.5h5M370 317.5h10M465 317.5h5M360 322.5h5M460 322.5h5M355 327.5h5M460 327.5h5M455 332.5h10M455 337.5h5M455 342.5h5M450 347.5h10M330 352.5h5M450 352.5h10M450 357.5h5M325 362.5h5M455 362.5h5M325 367.5h5M455 367.5h5M455 372.5h5M460 377.5h5M320 382.5h5M460 382.5h5M460 387.5h5M460 397.5h5M325 402.5h5M460 402.5h5M325 407.5h5M455 412.5h5M450 417.5h5M435 432.5h5M425 437.5h5"/><path stroke="#e0e0e0" d="M475 217.5h5M430 222.5h5M425 227.5h5M420 232.5h5M415 237.5h5M495 237.5h5M410 247.5h5M405 262.5h5M405 267.5h5M405 272.5h5M405 277.5h5M405 282.5h5M405 287.5h5M405 292.5h5M405 297.5h10M405 302.5h10M405 307.5h10M470 307.5h5M395 312.5h15M465 312.5h5M380 317.5h10M460 317.5h5M365 322.5h10M450 322.5h10M360 327.5h5M445 327.5h15M350 332.5h5M445 332.5h10M345 337.5h5M445 337.5h10M340 342.5h5M445 342.5h10M335 347.5h5M445 347.5h5M445 352.5h5M330 357.5h5M445 357.5h5M450 362.5h5M450 367.5h5M325 372.5h5M325 377.5h5M455 377.5h5M325 382.5h5M455 382.5h5M325 387.5h5M325 392.5h5M460 392.5h5M325 397.5h5M330 407.5h5M455 407.5h5M445 422.5h5M440 427.5h5M430 432.5h5"/><path stroke="#e2e2e2" d="M470 217.5h5M435 222.5h5M480 222.5h5M485 227.5h5M490 232.5h5M415 242.5h5M495 242.5h5M410 252.5h5M410 257.5h5M495 277.5h5M410 282.5h5M410 287.5h5M490 287.5h5M410 292.5h5M485 292.5h5M415 297.5h5M480 297.5h5M415 302.5h5M475 302.5h5M415 307.5h10M410 312.5h20M460 312.5h5M390 317.5h70M375 322.5h10M415 322.5h35M365 327.5h5M425 327.5h20M355 332.5h5M430 332.5h15M350 337.5h5M435 337.5h10M345 342.5h5M435 342.5h10M340 347.5h5M440 347.5h5M335 352.5h5M440 352.5h5M330 362.5h5M445 362.5h5M330 367.5h5M445 367.5h5M450 372.5h5M450 377.5h5M455 387.5h5M455 392.5h5M455 397.5h5M330 402.5h5M455 402.5h5M450 412.5h5M435 427.5h5"/><path stroke="#e3e3e3" d="M465 217.5h5M475 222.5h5M430 227.5h5M425 232.5h5M420 237.5h5M415 247.5h5M495 247.5h5M410 262.5h5M410 267.5h5M410 272.5h5M495 272.5h5M410 277.5h5M415 292.5h5M420 297.5h5M420 302.5h5M425 307.5h10M460 307.5h10M430 312.5h30M385 322.5h30M370 327.5h5M410 327.5h15M360 332.5h5M420 332.5h10M425 337.5h10M430 342.5h5M435 347.5h5M435 352.5h5M335 357.5h5M440 357.5h5M440 362.5h5M330 372.5h5M445 372.5h5M330 377.5h5M330 382.5h5M450 382.5h5M330 387.5h5M450 387.5h5M330 392.5h5M330 397.5h5M450 402.5h5M450 407.5h5M445 417.5h5M440 422.5h5M425 432.5h5"/><path stroke="#e4e4e4" d="M440 222.5h5M480 227.5h5M490 237.5h5M420 242.5h5M415 252.5h5M495 252.5h5M495 267.5h5M415 282.5h5M490 282.5h5M415 287.5h5M420 292.5h5M425 297.5h5M425 302.5h10M470 302.5h5M435 307.5h25M375 327.5h35M365 332.5h5M415 332.5h5M355 337.5h5M420 337.5h5M350 342.5h5M425 342.5h5M345 347.5h5M430 347.5h5M340 352.5h5M430 352.5h5M435 357.5h5M335 362.5h5M335 367.5h5M440 367.5h5M445 377.5h5M450 392.5h5M450 397.5h5M335 402.5h5M445 412.5h5M430 427.5h5M420 432.5h5"/><path stroke="#e6e6e6" d="M445 222.5h10M465 222.5h10M435 227.5h5M430 232.5h5M485 232.5h5M425 237.5h5M415 257.5h5M495 257.5h5M415 262.5h5M495 262.5h5M415 267.5h5M415 272.5h5M415 277.5h5M420 287.5h5M485 287.5h5M480 292.5h5M475 297.5h5M435 302.5h5M465 302.5h5M370 332.5h5M405 332.5h10M360 337.5h5M415 337.5h5M420 342.5h5M425 347.5h5M345 352.5h5M340 357.5h5M430 357.5h5M435 362.5h5M435 367.5h5M335 372.5h5M440 372.5h5M335 377.5h5M445 382.5h5M335 387.5h5M445 387.5h5M335 392.5h5M335 397.5h5M445 407.5h5M440 417.5h5M435 422.5h5M425 427.5h5"/><path stroke="#e7e7e7" d="M455 222.5h10M440 227.5h5M475 227.5h5M490 242.5h5M420 247.5h5M420 252.5h5M490 277.5h5M420 282.5h5M425 292.5h5M430 297.5h10M470 297.5h5M440 302.5h25M375 332.5h30M365 337.5h5M410 337.5h5M355 342.5h5M415 342.5h5M350 347.5h5M420 347.5h5M425 352.5h5M340 362.5h5M430 362.5h5M435 372.5h5M440 377.5h5M335 382.5h5M445 392.5h5M445 397.5h5M445 402.5h5M420 427.5h5"/><path stroke="#e8e8e8" d="M445 227.5h5M470 227.5h5M435 232.5h5M480 232.5h5M430 237.5h5M485 237.5h5M425 242.5h5M490 247.5h5M420 257.5h5M420 262.5h5M420 267.5h5M420 272.5h5M420 277.5h5M425 287.5h5M430 292.5h5M440 297.5h5M370 337.5h5M400 337.5h10M360 342.5h5M410 342.5h5M355 347.5h5M350 352.5h5M420 352.5h5M345 357.5h5M425 357.5h5M340 367.5h5M430 367.5h5M340 372.5h5M435 377.5h5M440 382.5h5M440 387.5h5M340 392.5h5M340 397.5h5M440 412.5h5M435 417.5h5M430 422.5h5M415 427.5h5"/><path stroke="#e9e9e9" d="M450 227.5h5M465 227.5h5M425 247.5h5M490 252.5h5M490 272.5h5M425 282.5h5M485 282.5h5M430 287.5h5M480 287.5h5M435 292.5h5M475 292.5h5M445 297.5h5M460 297.5h10M375 337.5h25M365 342.5h5M405 342.5h5M415 347.5h5M345 362.5h5M425 362.5h5M430 372.5h5M340 377.5h5M340 382.5h5M340 387.5h5M440 392.5h5M440 397.5h5M440 402.5h5M440 407.5h5M425 422.5h5"/><path stroke="#ebebeb" d="M455 227.5h10M440 232.5h5M475 232.5h5M435 237.5h5M480 237.5h5M430 242.5h5M485 242.5h5M425 252.5h5M490 257.5h5M490 262.5h5M490 267.5h5M425 277.5h5M440 292.5h5M470 292.5h5M450 297.5h10M370 342.5h5M400 342.5h5M360 347.5h5M410 347.5h5M355 352.5h5M415 352.5h5M350 357.5h5M420 357.5h5M345 367.5h5M425 367.5h5M430 377.5h5M435 382.5h5M435 387.5h5M345 397.5h5M435 412.5h5M430 417.5h5M415 422.5h10"/><path stroke="#ececec" d="M445 232.5h5M470 232.5h5M430 247.5h5M425 257.5h5M425 262.5h5M425 267.5h5M425 272.5h5M485 277.5h5M430 282.5h5M435 287.5h5M445 292.5h5M375 342.5h5M395 342.5h5M365 347.5h5M405 347.5h5M350 362.5h5M420 362.5h5M345 372.5h5M425 372.5h5M345 377.5h5M345 382.5h5M430 382.5h5M345 387.5h5M345 392.5h5M435 392.5h5M435 407.5h5M425 417.5h5M410 422.5h5"/><path stroke="#ededed" d="M450 232.5h10M465 232.5h5M440 237.5h5M475 237.5h5M435 242.5h5M485 247.5h5M430 277.5h5M480 282.5h5M475 287.5h5M450 292.5h5M460 292.5h10M380 342.5h15M400 347.5h5M360 352.5h5M410 352.5h5M355 357.5h5M415 357.5h5M350 367.5h5M420 367.5h5M425 377.5h5M430 387.5h5M350 397.5h5M435 397.5h5M435 402.5h5M430 412.5h5M420 417.5h5"/><path stroke="#eeeeee" d="M460 232.5h5M445 237.5h5M480 242.5h5M430 252.5h5M485 252.5h5M430 257.5h5M430 272.5h5M485 272.5h5M435 282.5h5M440 287.5h5M455 292.5h5M370 347.5h10M395 347.5h5M365 352.5h5M405 352.5h5M410 357.5h5M355 362.5h5M415 362.5h5M350 372.5h5M420 372.5h5M350 377.5h5M425 382.5h5M350 387.5h5M350 392.5h5M430 392.5h5M430 407.5h5M425 412.5h5M400 417.5h20"/><path stroke="#f0f0f0" d="M470 237.5h5M440 242.5h5M435 247.5h5M485 257.5h5M430 262.5h5M485 262.5h5M430 267.5h5M485 267.5h5M435 277.5h5M480 277.5h5M445 287.5h5M470 287.5h5M380 347.5h15M360 357.5h5M355 367.5h5M415 367.5h5M420 377.5h5M350 382.5h5M425 387.5h5M355 397.5h5M430 397.5h5M430 402.5h5M425 407.5h5M410 412.5h15"/><path stroke="#f1f1f1" d="M450 237.5h20M475 242.5h5M480 247.5h5M435 252.5h5M435 272.5h5M440 282.5h5M475 282.5h5M450 287.5h5M465 287.5h5M370 352.5h5M400 352.5h5M365 357.5h5M405 357.5h5M360 362.5h5M410 362.5h5M355 372.5h5M415 372.5h5M420 382.5h5M420 387.5h5M355 392.5h5M425 392.5h5M425 397.5h5M425 402.5h5M420 407.5h5M400 412.5h10"/><path stroke="#f2f2f2" d="M445 242.5h5M440 247.5h5M480 252.5h5M435 257.5h5M435 262.5h5M435 267.5h5M480 272.5h5M440 277.5h5M445 282.5h5M455 287.5h10M375 352.5h10M390 352.5h10M410 367.5h5M355 377.5h5M415 377.5h5M355 382.5h5M415 382.5h5M355 387.5h5M420 392.5h5M360 397.5h5M420 397.5h5M415 402.5h10M405 407.5h15"/><path stroke="#f4f4f4" d="M450 242.5h5M470 242.5h5M475 247.5h5M440 252.5h5M480 257.5h5M480 267.5h5M475 277.5h5M470 282.5h5M385 352.5h5M370 357.5h5M400 357.5h5M365 362.5h5M405 362.5h5M360 367.5h5M410 372.5h5M415 387.5h5M360 392.5h5M415 392.5h5M410 397.5h10M405 402.5h10M395 407.5h10"/><path stroke="#f5f5f5" d="M455 242.5h15M445 247.5h5M440 257.5h5M480 262.5h5M440 267.5h5M440 272.5h5M445 277.5h5M450 282.5h10M465 282.5h5M375 357.5h5M395 357.5h5M405 367.5h5M360 372.5h5M360 377.5h5M410 377.5h5M360 382.5h5M410 382.5h5M360 387.5h5M410 387.5h5M410 392.5h5M365 397.5h5M405 397.5h5M400 402.5h5"/><path stroke="#f6f6f6" d="M450 247.5h5M470 247.5h5M445 252.5h5M475 252.5h5M440 262.5h5M475 272.5h5M470 277.5h5M460 282.5h5M380 357.5h15M370 362.5h5M400 362.5h5M365 367.5h5M405 372.5h5M365 392.5h5M405 392.5h5M370 397.5h5M400 397.5h5M380 402.5h20"/><path stroke="#f7f7f7" d="M455 247.5h15M445 257.5h5M475 257.5h5M475 262.5h5M475 267.5h5M445 272.5h5M450 277.5h5M375 362.5h5M395 362.5h5M370 367.5h5M400 367.5h5M365 372.5h5M365 377.5h5M405 377.5h5M365 382.5h5M405 382.5h5M365 387.5h5M405 387.5h5M375 397.5h5M395 397.5h5"/><path stroke="#f9f9f9" d="M450 252.5h5M470 252.5h5M445 262.5h5M445 267.5h5M450 272.5h5M470 272.5h5M455 277.5h15M380 362.5h15M370 372.5h5M400 372.5h5M370 387.5h5M400 387.5h5M370 392.5h5M400 392.5h5M380 397.5h15"/><path stroke="#fafafa" d="M455 252.5h15M450 257.5h5M470 257.5h5M450 267.5h5M470 267.5h5M375 367.5h10M390 367.5h10M370 377.5h5M400 377.5h5M370 382.5h5M400 382.5h5M375 392.5h5M395 392.5h5"/><path stroke="#fbfbfb" d="M455 257.5h5M465 257.5h5M450 262.5h5M470 262.5h5M455 272.5h15M385 367.5h5M375 372.5h5M395 372.5h5M375 377.5h5M395 377.5h5M375 382.5h5M395 382.5h5M375 387.5h5M395 387.5h5M380 392.5h15"/><path stroke="#fcfcfc" d="M460 257.5h5M455 262.5h15M455 267.5h15M380 372.5h15M380 377.5h5M390 377.5h5M380 382.5h5M390 382.5h5M380 387.5h15"/><path stroke="#fefefe" d="M385 377.5h5M385 382.5h5"/></g><g id="fld2" fill="none" stroke-width="5.8" stroke-linecap="square"><path stroke="#000000" d="M745 642.5h15M735 647.5h30M730 652.5h40M720 657.5h55M720 662.5h60M715 667.5h65M710 672.5h70M710 677.5h75M705 682.5h90M705 687.5h90M705 692.5h90M705 697.5h90M705 702.5h90M705 707.5h15M725 707.5h70M705 712.5h15M745 712.5h45M705 717.5h10M750 717.5h40M755 722.5h35"/><path stroke="#010101" d="M725 652.5h5M715 662.5h5M705 677.5h5M700 697.5h5M700 702.5h5M700 707.5h5M700 712.5h5M700 717.5h5"/><path stroke="#030303" d="M755 637.5h10M740 642.5h5M730 647.5h5M710 667.5h5M700 692.5h5"/><path stroke="#040404" d="M750 637.5h5M705 672.5h5M700 687.5h5"/><path stroke="#050505" d="M745 637.5h5M735 642.5h5M725 647.5h5M720 652.5h5M715 657.5h5M710 662.5h5M700 682.5h5"/><path stroke="#060606" d="M705 667.5h5M700 677.5h5M695 697.5h5M695 702.5h5M695 707.5h5M695 712.5h5M695 717.5h5"/><path stroke="#080808" d="M760 632.5h5M740 637.5h5M730 642.5h5M695 692.5h5"/><path stroke="#090909" d="M755 632.5h5M720 647.5h5M715 652.5h5M710 657.5h5M700 672.5h5M695 687.5h5"/><path stroke="#0a0a0a" d="M750 632.5h5M735 637.5h5M725 642.5h5M705 662.5h5M695 682.5h5"/><path stroke="#0b0b0b" d="M745 632.5h5M700 667.5h5M690 702.5h5M690 707.5h5M690 712.5h5"/><path stroke="#0d0d0d" d="M760 627.5h10M740 632.5h5M730 637.5h5M715 647.5h5M710 652.5h5M695 677.5h5M690 697.5h5M690 717.5h5"/><path stroke="#0e0e0e" d="M755 627.5h5M720 642.5h5M705 657.5h5M690 687.5h5M690 692.5h5"/><path stroke="#0f0f0f" d="M750 627.5h5M735 632.5h5M725 637.5h5M700 662.5h5M695 672.5h5"/><path stroke="#111111" d="M745 627.5h5M710 647.5h5M690 682.5h5"/><path stroke="#121212" d="M765 622.5h5M730 632.5h5M715 642.5h5M705 652.5h5M695 667.5h5M690 677.5h5M685 697.5h5M685 702.5h5M685 707.5h5M685 712.5h5M685 717.5h5"/><path stroke="#131313" d="M755 622.5h10M740 627.5h5M720 637.5h5M700 657.5h5M685 692.5h5"/><path stroke="#141414" d="M750 622.5h5M735 627.5h5M725 632.5h5M695 662.5h5M690 672.5h5M685 687.5h5"/><path stroke="#161616" d="M745 622.5h5M715 637.5h5M710 642.5h5M705 647.5h5M700 652.5h5M685 682.5h5"/><path stroke="#171717" d="M770 617.5h5M730 627.5h5M695 657.5h5M690 667.5h5M680 707.5h5M680 712.5h5M680 717.5h5"/><path stroke="#181818" d="M760 617.5h10M740 622.5h5M720 632.5h5M685 677.5h5M680 697.5h5M680 702.5h5M680 722.5h5"/><path stroke="#1a1a1a" d="M750 617.5h10M735 622.5h5M725 627.5h5M710 637.5h5M705 642.5h5M700 647.5h5M690 662.5h5M685 672.5h5M680 692.5h5"/><path stroke="#1b1b1b" d="M715 632.5h5M695 652.5h5M680 687.5h5"/><path stroke="#1c1c1c" d="M770 612.5h10M745 617.5h5M730 622.5h5M720 627.5h5M690 657.5h5M685 667.5h5M680 682.5h5"/><path stroke="#1d1d1d" d="M760 612.5h10M740 617.5h5M705 637.5h5M700 642.5h5M680 677.5h5M675 702.5h5M675 707.5h5M675 712.5h5M675 717.5h5M675 722.5h5"/><path stroke="#1f1f1f" d="M755 612.5h5M735 617.5h5M725 622.5h5M710 632.5h5M695 647.5h5M685 662.5h5M680 672.5h5M675 692.5h5M675 697.5h5"/><path stroke="#202020" d="M750 612.5h5M715 627.5h5M690 652.5h5M675 687.5h5"/><path stroke="#212121" d="M770 607.5h10M745 612.5h5M730 617.5h5M720 622.5h5M700 637.5h5M685 657.5h5M680 667.5h5M675 682.5h5"/><path stroke="#222222" d="M760 607.5h10M740 612.5h5M710 627.5h5M705 632.5h5M695 642.5h5M690 647.5h5M675 677.5h5M670 707.5h5M670 712.5h5M670 717.5h5M670 722.5h5M670 727.5h5"/><path stroke="#242424" d="M755 607.5h5M735 612.5h5M725 617.5h5M715 622.5h5M685 652.5h5M680 662.5h5M670 697.5h5M670 702.5h5M670 732.5h5"/><path stroke="#252525" d="M750 607.5h5M700 632.5h5M695 637.5h5M675 672.5h5M670 692.5h5"/><path stroke="#262626" d="M765 602.5h15M745 607.5h5M730 612.5h5M720 617.5h5M705 627.5h5M690 642.5h5M680 657.5h5M675 667.5h5M670 687.5h5"/><path stroke="#282828" d="M760 602.5h5M740 607.5h5M710 622.5h5M685 647.5h5M670 682.5h5M665 722.5h5"/><path stroke="#292929" d="M750 602.5h10M735 607.5h5M725 612.5h5M715 617.5h5M695 632.5h5M680 652.5h5M675 662.5h5M670 677.5h5M665 702.5h5M665 707.5h5M665 712.5h5M665 717.5h5M665 727.5h5M665 732.5h5"/><path stroke="#2a2a2a" d="M745 602.5h5M730 607.5h5M720 612.5h5M705 622.5h5M700 627.5h5M690 637.5h5M685 642.5h5M670 672.5h5M665 692.5h5M665 697.5h5"/><path stroke="#2b2b2b" d="M765 597.5h15M740 602.5h5M710 617.5h5M680 647.5h5M675 657.5h5M670 667.5h5M665 687.5h5"/><path stroke="#2d2d2d" d="M755 597.5h10M725 607.5h5M715 612.5h5M695 627.5h5M690 632.5h5M665 682.5h5"/><path stroke="#2e2e2e" d="M750 597.5h5M735 602.5h5M705 617.5h5M700 622.5h5M685 637.5h5M680 642.5h5M675 652.5h5M670 662.5h5M665 677.5h5M660 707.5h5M660 712.5h5M660 717.5h5M660 722.5h5M660 727.5h5M660 732.5h5"/><path stroke="#2f2f2f" d="M770 592.5h10M745 597.5h5M730 602.5h5M720 607.5h5M710 612.5h5M670 657.5h5M665 672.5h5M660 697.5h5M660 702.5h5"/><path stroke="#303030" d="M760 592.5h10M740 597.5h5M725 602.5h5M715 607.5h5M695 622.5h5M690 627.5h5M685 632.5h5M675 647.5h5M665 667.5h5M660 687.5h5M660 692.5h5"/><path stroke="#323232" d="M750 592.5h10M735 597.5h5M705 612.5h5M700 617.5h5M680 637.5h5M670 652.5h5M660 682.5h5"/><path stroke="#333333" d="M770 587.5h15M745 592.5h5M730 597.5h5M720 602.5h5M710 607.5h5M675 642.5h5M665 662.5h5M660 677.5h5M655 712.5h5M655 717.5h5M655 722.5h5M655 727.5h5M655 732.5h5"/><path stroke="#343434" d="M760 587.5h10M740 592.5h5M700 612.5h5M695 617.5h5M690 622.5h5M685 627.5h5M680 632.5h5M670 647.5h5M665 657.5h5M660 672.5h5M655 702.5h5M655 707.5h5"/><path stroke="#363636" d="M750 587.5h10M735 592.5h5M725 597.5h5M715 602.5h5M705 607.5h5M675 637.5h5M660 667.5h5M655 692.5h5M655 697.5h5"/><path stroke="#373737" d="M770 582.5h15M745 587.5h5M730 592.5h5M720 597.5h5M710 602.5h5M690 617.5h5M685 622.5h5M680 627.5h5M670 642.5h5M665 652.5h5M660 662.5h5M655 682.5h5M655 687.5h5M650 732.5h5"/><path stroke="#383838" d="M760 582.5h10M740 587.5h5M725 592.5h5M715 597.5h5M700 607.5h5M695 612.5h5M675 632.5h5M665 647.5h5M655 677.5h5M650 717.5h5M650 722.5h5M650 727.5h5"/><path stroke="#393939" d="M750 582.5h10M735 587.5h5M705 602.5h5M670 637.5h5M660 657.5h5M655 672.5h5M650 702.5h5M650 707.5h5M650 712.5h5"/><path stroke="#3b3b3b" d="M770 577.5h20M745 582.5h5M730 587.5h5M720 592.5h5M710 597.5h5M695 607.5h5M690 612.5h5M685 617.5h5M680 622.5h5M675 627.5h5M665 642.5h5M660 652.5h5M655 667.5h5M650 692.5h5M650 697.5h5"/><path stroke="#3c3c3c" d="M755 577.5h15M740 582.5h5M725 587.5h5M715 592.5h5M700 602.5h5M670 632.5h5M660 647.5h5M655 662.5h5M650 682.5h5M650 687.5h5M645 727.5h5M645 732.5h5"/><path stroke="#3d3d3d" d="M640 377.5h10M640 382.5h10M780 572.5h15M750 577.5h5M735 582.5h5M720 587.5h5M710 592.5h5M705 597.5h5M695 602.5h5M690 607.5h5M685 612.5h5M680 617.5h5M675 622.5h5M665 637.5h5M655 657.5h5M650 677.5h5M645 717.5h5M645 722.5h5"/><path stroke="#3e3e3e" d="M765 572.5h15M740 577.5h10M730 582.5h5M700 597.5h5M670 627.5h5M665 632.5h5M660 642.5h5M655 652.5h5M650 667.5h5M650 672.5h5M645 702.5h5M645 707.5h5M645 712.5h5"/><path stroke="#404040" d="M640 372.5h10M650 377.5h5M650 382.5h5M640 387.5h10M755 572.5h10M735 577.5h5M725 582.5h5M715 587.5h5M705 592.5h5M690 602.5h5M685 607.5h5M680 612.5h5M675 617.5h5M670 622.5h5M660 637.5h5M655 647.5h5M650 662.5h5M645 692.5h5M645 697.5h5"/><path stroke="#414141" d="M650 372.5h5M635 377.5h5M635 382.5h5M650 387.5h5M650 482.5h5M650 487.5h5M770 567.5h25M745 572.5h10M730 577.5h5M720 582.5h5M710 587.5h5M700 592.5h5M695 597.5h5M665 627.5h5M650 657.5h5M645 682.5h5M645 687.5h5M640 727.5h5M640 732.5h5"/><path stroke="#424242" d="M655 377.5h5M655 382.5h5M645 477.5h15M645 482.5h5M655 482.5h10M640 487.5h10M655 487.5h10M645 492.5h15M755 567.5h15M735 572.5h10M725 577.5h5M715 582.5h5M705 587.5h5M690 597.5h5M685 602.5h5M680 607.5h5M675 612.5h5M670 617.5h5M660 632.5h5M655 642.5h5M650 652.5h5M645 672.5h5M645 677.5h5M640 717.5h5M640 722.5h5"/><path stroke="#444444" d="M650 342.5h15M650 347.5h15M655 352.5h5M640 367.5h15M635 372.5h5M655 372.5h5M635 387.5h5M645 392.5h5M640 477.5h5M660 477.5h5M640 482.5h5M665 487.5h5M640 492.5h5M660 492.5h5M645 497.5h20M775 562.5h20M745 567.5h10M730 572.5h5M720 577.5h5M710 582.5h5M700 587.5h5M695 592.5h5M665 622.5h5M655 637.5h5M650 647.5h5M645 662.5h5M645 667.5h5M640 702.5h5M640 707.5h5M640 712.5h5"/><path stroke="#454545" d="M650 337.5h15M645 342.5h5M645 347.5h5M650 352.5h5M660 352.5h5M650 357.5h10M650 362.5h5M655 367.5h5M655 387.5h5M640 392.5h5M650 392.5h5M645 472.5h20M665 477.5h5M635 482.5h5M665 482.5h5M635 487.5h5M635 492.5h5M665 492.5h5M640 497.5h5M665 497.5h5M645 502.5h20M755 562.5h20M735 567.5h10M725 572.5h5M715 577.5h5M705 582.5h5M690 592.5h5M685 597.5h5M680 602.5h5M675 607.5h5M670 612.5h5M665 617.5h5M660 627.5h5M655 632.5h5M650 642.5h5M645 657.5h5M640 687.5h5M640 692.5h5M640 697.5h5M635 732.5h5"/><path stroke="#464646" d="M665 342.5h5M665 347.5h5M645 352.5h5M665 352.5h5M645 357.5h5M660 357.5h5M645 362.5h5M655 362.5h10M660 367.5h5M660 372.5h5M660 377.5h5M660 382.5h5M650 467.5h10M640 472.5h5M665 472.5h5M635 477.5h5M670 482.5h5M670 487.5h5M670 492.5h5M635 497.5h5M670 497.5h5M640 502.5h5M665 502.5h5M650 507.5h10M775 557.5h25M745 562.5h10M730 567.5h5M720 572.5h5M710 577.5h5M700 582.5h5M695 587.5h5M660 622.5h5M645 652.5h5M640 677.5h5M640 682.5h5M635 722.5h5M635 727.5h5"/><path stroke="#474747" d="M650 332.5h15M645 337.5h5M665 337.5h5M665 357.5h5M640 362.5h5M665 362.5h5M635 367.5h5M630 377.5h5M630 382.5h5M660 387.5h5M635 392.5h5M655 392.5h5M645 467.5h5M660 467.5h5M635 472.5h5M670 477.5h5M630 482.5h5M630 487.5h5M675 487.5h5M630 492.5h5M675 492.5h5M635 502.5h5M670 502.5h5M640 507.5h10M660 507.5h10M755 557.5h20M735 562.5h10M725 567.5h5M715 572.5h5M705 577.5h5M695 582.5h5M690 587.5h5M685 592.5h5M680 597.5h5M675 602.5h5M670 607.5h5M665 612.5h5M655 627.5h5M650 637.5h5M645 647.5h5M640 667.5h5M640 672.5h5M635 712.5h5M635 717.5h5"/><path stroke="#494949" d="M640 342.5h5M670 342.5h5M640 347.5h5M670 347.5h5M640 352.5h5M670 352.5h5M640 357.5h5M670 357.5h5M665 367.5h5M665 372.5h5M665 377.5h5M665 382.5h5M630 387.5h5M660 392.5h5M645 397.5h10M640 467.5h5M665 467.5h5M670 472.5h5M630 477.5h5M675 477.5h5M675 482.5h5M630 497.5h5M675 497.5h5M675 502.5h5M670 507.5h5M645 512.5h20M770 552.5h30M745 557.5h10M725 562.5h10M715 567.5h10M705 572.5h10M700 577.5h5M685 587.5h5M680 592.5h5M675 597.5h5M670 602.5h5M660 617.5h5M655 622.5h5M650 632.5h5M645 642.5h5M640 657.5h5M640 662.5h5M635 702.5h5M635 707.5h5"/><path stroke="#4a4a4a" d="M645 332.5h5M665 332.5h5M670 337.5h5M670 362.5h5M670 367.5h5M630 372.5h5M670 372.5h5M665 387.5h5M640 397.5h5M655 397.5h5M645 462.5h20M635 467.5h5M670 467.5h5M675 472.5h5M680 482.5h5M680 487.5h5M680 492.5h5M680 497.5h5M630 502.5h5M635 507.5h5M675 507.5h5M640 512.5h5M665 512.5h10M655 517.5h5M750 552.5h20M730 557.5h15M720 562.5h5M710 567.5h5M700 572.5h5M695 577.5h5M690 582.5h5M665 607.5h5M660 612.5h5M650 627.5h5M645 637.5h5M640 652.5h5M635 677.5h5M635 682.5h5M635 687.5h5M635 692.5h5M635 697.5h5M630 727.5h5"/><path stroke="#4b4b4b" d="M650 327.5h15M670 332.5h5M640 337.5h5M675 342.5h5M675 347.5h5M675 352.5h5M675 357.5h5M635 362.5h5M675 362.5h5M670 377.5h5M670 382.5h5M665 392.5h5M660 397.5h5M640 462.5h5M665 462.5h5M675 467.5h5M630 472.5h5M680 472.5h5M680 477.5h5M625 482.5h5M625 487.5h5M685 487.5h5M625 492.5h5M685 492.5h5M625 497.5h5M680 502.5h5M630 507.5h5M680 507.5h5M635 512.5h5M675 512.5h5M645 517.5h10M660 517.5h15M760 547.5h40M735 552.5h15M720 557.5h10M710 562.5h10M705 567.5h5M695 572.5h5M690 577.5h5M685 582.5h5M680 587.5h5M675 592.5h5M670 597.5h5M665 602.5h5M660 607.5h5M655 617.5h5M650 622.5h5M645 632.5h5M640 647.5h5M635 662.5h5M635 667.5h5M635 672.5h5M630 717.5h5M630 722.5h5"/><path stroke="#4c4c4c" d="M665 327.5h5M675 337.5h5M680 352.5h5M675 367.5h5M675 372.5h5M675 377.5h5M670 387.5h5M630 392.5h5M635 397.5h5M645 402.5h10M650 457.5h20M670 462.5h5M630 467.5h5M680 467.5h5M625 477.5h5M685 477.5h5M685 482.5h5M685 497.5h5M625 502.5h5M685 502.5h5M685 507.5h5M680 512.5h5M640 517.5h5M675 517.5h5M650 522.5h20M780 542.5h25M740 547.5h20M725 552.5h10M710 557.5h10M705 562.5h5M695 567.5h10M690 572.5h5M685 577.5h5M680 582.5h5M675 587.5h5M670 592.5h5M665 597.5h5M655 612.5h5M645 627.5h5M640 637.5h5M640 642.5h5M635 657.5h5M630 707.5h5M630 712.5h5"/><path stroke="#4e4e4e" d="M645 327.5h5M670 327.5h5M640 332.5h5M675 332.5h5M680 342.5h5M635 347.5h5M680 347.5h5M635 352.5h5M635 357.5h5M680 357.5h5M680 362.5h5M630 367.5h5M680 367.5h5M675 382.5h5M670 392.5h5M665 397.5h5M640 402.5h5M655 402.5h10M645 457.5h5M670 457.5h5M635 462.5h5M675 462.5h5M625 472.5h5M685 472.5h5M690 482.5h5M690 487.5h5M690 492.5h5M690 497.5h5M690 502.5h5M690 507.5h5M630 512.5h5M685 512.5h5M635 517.5h5M680 517.5h10M645 522.5h5M670 522.5h15M655 527.5h15M745 542.5h35M725 547.5h15M710 552.5h15M700 557.5h10M695 562.5h10M690 567.5h5M685 572.5h5M680 577.5h5M675 582.5h5M670 587.5h5M660 602.5h5M655 607.5h5M650 617.5h5M645 622.5h5M640 632.5h5M635 647.5h5M635 652.5h5M630 687.5h5M630 692.5h5M630 697.5h5M630 702.5h5M625 727.5h5"/><path stroke="#4f4f4f" d="M655 322.5h10M680 337.5h5M635 342.5h5M685 352.5h5M685 357.5h5M680 372.5h5M680 377.5h5M675 387.5h5M670 397.5h5M665 402.5h5M650 452.5h20M640 457.5h5M675 457.5h5M680 462.5h5M685 467.5h5M690 472.5h5M690 477.5h5M620 482.5h5M695 482.5h5M620 487.5h5M695 487.5h5M620 492.5h5M695 492.5h5M620 497.5h5M695 497.5h5M695 502.5h5M625 507.5h5M695 507.5h5M690 512.5h5M690 517.5h5M640 522.5h5M685 522.5h5M645 527.5h10M670 527.5h20M665 532.5h10M750 537.5h55M720 542.5h25M705 547.5h20M700 552.5h10M690 557.5h10M690 562.5h5M685 567.5h5M680 572.5h5M675 577.5h5M670 582.5h5M665 592.5h5M660 597.5h5M655 602.5h5M650 612.5h5M640 627.5h5M635 642.5h5M630 662.5h5M630 667.5h5M630 672.5h5M630 677.5h5M630 682.5h5M625 722.5h5"/><path stroke="#505050" d="M650 322.5h5M665 322.5h5M640 327.5h5M675 327.5h5M680 332.5h5M635 337.5h5M685 342.5h5M685 347.5h5M685 362.5h5M685 367.5h5M685 372.5h5M625 382.5h5M680 382.5h5M680 387.5h5M675 392.5h5M630 397.5h5M635 402.5h5M645 407.5h20M645 452.5h5M670 452.5h10M635 457.5h5M680 457.5h5M630 462.5h5M685 462.5h5M625 467.5h5M690 467.5h5M695 472.5h5M620 477.5h5M695 477.5h5M700 487.5h5M700 492.5h5M700 497.5h5M620 502.5h5M700 502.5h5M700 507.5h5M625 512.5h5M695 512.5h10M630 517.5h5M695 517.5h10M635 522.5h5M690 522.5h15M640 527.5h5M690 527.5h15M650 532.5h15M675 532.5h30M760 532.5h45M665 537.5h85M685 542.5h35M685 547.5h20M685 552.5h15M685 557.5h5M680 562.5h10M675 567.5h10M675 572.5h5M670 577.5h5M665 582.5h5M665 587.5h5M660 592.5h5M655 597.5h5M650 607.5h5M645 617.5h5M635 637.5h5M630 652.5h5M630 657.5h5M625 712.5h5M625 717.5h5"/><path stroke="#525252" d="M645 322.5h5M670 322.5h5M685 337.5h5M690 352.5h5M690 357.5h5M630 362.5h5M690 362.5h5M690 367.5h5M625 377.5h5M685 377.5h5M685 382.5h5M625 387.5h5M680 392.5h5M675 397.5h5M670 402.5h5M640 407.5h5M665 407.5h5M650 447.5h25M640 452.5h5M680 452.5h5M685 457.5h5M690 462.5h5M695 467.5h5M620 472.5h5M700 477.5h5M700 482.5h5M705 487.5h5M705 492.5h5M705 497.5h5M705 502.5h5M620 507.5h5M705 507.5h5M705 512.5h10M625 517.5h5M705 517.5h10M630 522.5h5M705 522.5h15M635 527.5h5M705 527.5h30M780 527.5h25M645 532.5h5M705 532.5h55M650 537.5h15M660 542.5h25M670 547.5h15M675 552.5h10M675 557.5h10M675 562.5h5M670 567.5h5M670 572.5h5M665 577.5h5M660 587.5h5M655 592.5h5M650 602.5h5M645 612.5h5M640 622.5h5M635 632.5h5M630 642.5h5M630 647.5h5M625 697.5h5M625 702.5h5M625 707.5h5M620 727.5h5"/><path stroke="#535353" d="M655 317.5h10M675 322.5h5M680 327.5h5M635 332.5h5M685 332.5h5M690 342.5h5M690 347.5h5M690 372.5h5M690 377.5h5M690 382.5h5M685 387.5h5M625 392.5h5M685 392.5h5M680 397.5h5M675 402.5h5M670 407.5h5M650 412.5h20M645 447.5h5M675 447.5h10M635 452.5h5M685 452.5h5M630 457.5h5M690 457.5h5M625 462.5h5M695 462.5h5M700 467.5h5M700 472.5h5M705 477.5h5M615 482.5h5M705 482.5h5M615 487.5h5M710 487.5h5M615 492.5h5M710 492.5h5M615 497.5h5M710 497.5h5M710 502.5h10M710 507.5h10M620 512.5h5M715 512.5h10M715 517.5h15M720 522.5h40M735 527.5h45M640 532.5h5M645 537.5h5M650 542.5h10M660 547.5h10M665 552.5h10M665 557.5h10M665 562.5h10M665 567.5h5M665 572.5h5M660 577.5h5M660 582.5h5M655 587.5h5M650 597.5h5M645 607.5h5M640 612.5h5M640 617.5h5M635 622.5h5M635 627.5h5M630 637.5h5M625 652.5h5M625 657.5h5M625 662.5h5M625 667.5h5M625 672.5h5M625 677.5h5M625 682.5h5M625 687.5h5M625 692.5h5M620 722.5h5"/><path stroke="#545454" d="M650 317.5h5M665 317.5h5M690 337.5h5M695 347.5h5M695 352.5h5M630 357.5h5M695 357.5h5M695 362.5h5M695 367.5h5M625 372.5h5M695 372.5h5M695 377.5h5M690 387.5h5M690 392.5h5M685 397.5h5M630 402.5h5M680 402.5h5M635 407.5h5M675 407.5h10M645 412.5h5M670 412.5h5M655 417.5h10M650 442.5h35M640 447.5h5M685 447.5h5M690 452.5h5M695 457.5h5M700 462.5h5M620 467.5h5M705 467.5h5M705 472.5h5M615 477.5h5M710 477.5h5M710 482.5h5M715 487.5h5M715 492.5h5M715 497.5h10M615 502.5h5M720 502.5h5M720 507.5h10M725 512.5h15M730 517.5h40M625 522.5h5M760 522.5h45M630 527.5h5M635 532.5h5M640 537.5h5M645 542.5h5M650 547.5h10M655 552.5h10M660 557.5h5M660 562.5h5M660 567.5h5M660 572.5h5M655 577.5h5M655 582.5h5M650 592.5h5M645 602.5h5M640 607.5h5M635 617.5h5M630 627.5h5M630 632.5h5M625 642.5h5M625 647.5h5M620 712.5h5M620 717.5h5"/><path stroke="#555555" d="M670 317.5h5M640 322.5h5M680 322.5h5M635 327.5h5M685 327.5h5M690 332.5h5M630 342.5h5M695 342.5h5M630 347.5h5M630 352.5h5M700 357.5h5M700 362.5h5M700 367.5h5M700 372.5h5M695 382.5h5M695 387.5h5M695 392.5h5M690 397.5h5M685 402.5h10M685 407.5h5M640 412.5h5M675 412.5h10M650 417.5h5M665 417.5h15M655 422.5h20M665 427.5h5M660 432.5h20M655 437.5h30M645 442.5h5M685 442.5h10M690 447.5h10M630 452.5h5M695 452.5h10M625 457.5h5M700 457.5h10M705 462.5h5M710 467.5h5M615 472.5h5M710 472.5h10M715 477.5h5M715 482.5h10M720 487.5h5M720 492.5h10M725 497.5h10M725 502.5h15M615 507.5h5M730 507.5h20M740 512.5h45M620 517.5h5M770 517.5h35M625 527.5h5M630 532.5h5M635 537.5h5M640 542.5h5M645 547.5h5M650 552.5h5M655 557.5h5M655 562.5h5M655 567.5h5M655 572.5h5M650 582.5h5M650 587.5h5M645 592.5h5M645 597.5h5M640 602.5h5M635 612.5h5M630 622.5h5M625 637.5h5M620 657.5h5M620 662.5h5M620 667.5h5M620 672.5h5M620 677.5h5M620 682.5h5M620 702.5h5M620 707.5h5M615 727.5h5"/><path stroke="#575757" d="M645 317.5h5M675 317.5h5M685 322.5h5M690 327.5h5M630 337.5h5M695 337.5h5M700 347.5h5M700 352.5h5M700 377.5h5M700 382.5h5M700 387.5h5M700 392.5h5M625 397.5h5M695 397.5h5M695 402.5h5M690 407.5h5M635 412.5h5M685 412.5h10M645 417.5h5M680 417.5h10M650 422.5h5M675 422.5h15M650 427.5h15M670 427.5h20M650 432.5h10M680 432.5h15M645 437.5h10M685 437.5h15M640 442.5h5M695 442.5h10M635 447.5h5M700 447.5h5M705 452.5h5M710 457.5h5M620 462.5h5M710 462.5h10M715 467.5h10M720 472.5h5M720 477.5h10M725 482.5h10M610 487.5h5M725 487.5h10M610 492.5h5M730 492.5h10M610 497.5h5M735 497.5h15M740 502.5h20M750 507.5h55M615 512.5h5M785 512.5h20M620 522.5h5M630 537.5h5M635 542.5h5M640 547.5h5M645 552.5h5M645 557.5h10M650 562.5h5M650 567.5h5M650 572.5h5M650 577.5h5M645 582.5h5M645 587.5h5M640 597.5h5M635 607.5h5M630 617.5h5M625 627.5h5M625 632.5h5M620 642.5h5M620 647.5h5M620 652.5h5M620 687.5h5M620 692.5h5M620 697.5h5M615 717.5h5M615 722.5h5"/><path stroke="#585858" d="M655 312.5h20M680 317.5h5M695 332.5h5M700 337.5h5M700 342.5h5M705 352.5h5M705 357.5h5M705 362.5h5M625 367.5h5M705 367.5h5M705 372.5h5M705 377.5h5M705 382.5h5M705 387.5h5M705 392.5h5M700 397.5h5M700 402.5h5M630 407.5h5M695 407.5h10M695 412.5h5M640 417.5h5M690 417.5h10M645 422.5h5M690 422.5h10M645 427.5h5M690 427.5h10M645 432.5h5M695 432.5h10M640 437.5h5M700 437.5h10M635 442.5h5M705 442.5h5M630 447.5h5M705 447.5h10M625 452.5h5M710 452.5h10M715 457.5h10M720 462.5h10M615 467.5h5M725 467.5h5M725 472.5h10M730 477.5h10M610 482.5h5M735 482.5h10M735 487.5h15M740 492.5h20M750 497.5h25M610 502.5h5M760 502.5h50M615 517.5h5M620 527.5h5M625 532.5h5M635 547.5h5M640 552.5h5M640 557.5h5M645 562.5h5M645 567.5h5M645 572.5h5M645 577.5h5M640 587.5h5M640 592.5h5M635 602.5h5M630 612.5h5M625 622.5h5M620 637.5h5M615 657.5h5M615 662.5h5M615 667.5h5M615 712.5h5"/><path stroke="#595959" d="M650 312.5h5M675 312.5h5M640 317.5h5M635 322.5h5M690 322.5h5M695 327.5h5M630 332.5h5M700 332.5h5M705 342.5h5M705 347.5h5M710 357.5h5M710 362.5h5M710 367.5h5M710 372.5h5M710 377.5h5M710 382.5h5M710 387.5h5M710 392.5h5M705 397.5h10M625 402.5h5M705 402.5h5M705 407.5h5M700 412.5h10M635 417.5h5M700 417.5h10M640 422.5h5M700 422.5h10M640 427.5h5M700 427.5h10M640 432.5h5M705 432.5h10M710 437.5h10M710 442.5h10M715 447.5h10M720 452.5h10M620 457.5h5M725 457.5h10M730 462.5h10M730 467.5h15M735 472.5h15M610 477.5h5M740 477.5h15M745 482.5h20M750 487.5h25M760 492.5h50M775 497.5h35M610 507.5h5M610 512.5h5M615 522.5h5M620 532.5h5M625 537.5h5M630 542.5h5M630 547.5h5M635 552.5h5M640 562.5h5M640 567.5h5M640 572.5h5M640 577.5h5M640 582.5h5M635 592.5h5M635 597.5h5M630 602.5h5M630 607.5h5M625 617.5h5M620 627.5h5M620 632.5h5M615 642.5h5M615 647.5h5M615 652.5h5M615 672.5h5M615 677.5h5M615 682.5h5M615 687.5h5M615 692.5h5M615 697.5h5M615 702.5h5M615 707.5h5M610 722.5h5"/><path stroke="#5b5b5b" d="M645 312.5h5M680 312.5h5M685 317.5h5M705 337.5h5M710 347.5h5M710 352.5h5M715 357.5h5M715 362.5h5M715 367.5h5M715 372.5h5M715 377.5h5M715 382.5h5M620 387.5h5M715 387.5h5M715 392.5h5M715 397.5h5M710 402.5h10M710 407.5h10M630 412.5h5M710 412.5h10M710 417.5h10M635 422.5h5M710 422.5h10M710 427.5h15M715 432.5h10M635 437.5h5M720 437.5h10M630 442.5h5M720 442.5h15M625 447.5h5M725 447.5h15M730 452.5h15M735 457.5h15M615 462.5h5M740 462.5h15M745 467.5h15M610 472.5h5M750 472.5h25M755 477.5h40M765 482.5h45M775 487.5h35M610 517.5h5M615 527.5h5M625 542.5h5M630 552.5h5M635 557.5h5M635 562.5h5M635 567.5h5M635 572.5h5M635 577.5h5M635 582.5h5M635 587.5h5M630 597.5h5M625 607.5h5M625 612.5h5M620 622.5h5M615 632.5h5M615 637.5h5M610 652.5h5M610 657.5h5M610 662.5h5M610 667.5h5M610 717.5h5"/><path stroke="#5c5c5c" d="M655 307.5h20M690 317.5h5M695 322.5h5M630 327.5h5M700 327.5h5M705 332.5h5M710 337.5h5M710 342.5h5M715 347.5h5M715 352.5h5M625 362.5h5M720 362.5h5M720 367.5h5M720 372.5h5M720 377.5h5M620 382.5h5M720 382.5h5M720 387.5h5M620 392.5h5M720 392.5h5M720 397.5h5M720 402.5h10M625 407.5h5M720 407.5h10M720 412.5h10M630 417.5h5M720 417.5h10M720 422.5h15M635 427.5h5M725 427.5h10M635 432.5h5M725 432.5h15M630 437.5h5M730 437.5h15M735 442.5h15M740 447.5h20M620 452.5h5M745 452.5h25M750 457.5h40M755 462.5h55M610 467.5h5M760 467.5h50M775 472.5h35M795 477.5h15M605 482.5h5M605 487.5h5M605 492.5h5M605 497.5h5M605 502.5h5M615 532.5h5M620 537.5h5M625 547.5h5M630 557.5h5M630 562.5h5M630 582.5h5M630 587.5h5M630 592.5h5M625 602.5h5M620 612.5h5M620 617.5h5M615 627.5h5M610 637.5h5M610 642.5h5M610 647.5h5M610 672.5h5M610 677.5h5M610 682.5h5M610 687.5h5M610 707.5h5M610 712.5h5M605 722.5h5"/><path stroke="#5d5d5d" d="M650 307.5h5M675 307.5h5M640 312.5h5M685 312.5h5M635 317.5h5M695 317.5h5M700 322.5h5M705 327.5h5M710 332.5h5M715 342.5h5M720 347.5h5M720 352.5h5M625 357.5h5M720 357.5h5M725 362.5h5M725 367.5h5M725 382.5h10M725 387.5h10M725 392.5h10M620 397.5h5M725 397.5h10M730 402.5h10M730 407.5h10M625 412.5h5M730 412.5h10M730 417.5h15M630 422.5h5M735 422.5h15M630 427.5h5M735 427.5h20M630 432.5h5M740 432.5h25M745 437.5h45M625 442.5h5M750 442.5h60M760 447.5h50M770 452.5h40M615 457.5h5M790 457.5h20M605 477.5h5M605 507.5h5M605 512.5h5M610 522.5h5M615 537.5h5M620 542.5h5M620 547.5h5M625 552.5h5M625 557.5h5M630 567.5h5M630 572.5h5M630 577.5h5M625 592.5h5M625 597.5h5M620 607.5h5M615 617.5h5M615 622.5h5M610 632.5h5M605 647.5h5M605 652.5h5M605 657.5h5M605 662.5h5M605 667.5h5M605 672.5h5M610 692.5h5M610 697.5h5M610 702.5h5M605 717.5h5"/><path stroke="#5e5e5e" d="M645 307.5h5M680 307.5h5M690 312.5h5M700 317.5h5M630 322.5h5M705 322.5h5M710 327.5h5M715 332.5h5M715 337.5h5M625 342.5h5M720 342.5h5M625 347.5h5M725 347.5h5M625 352.5h5M725 352.5h5M725 357.5h5M620 377.5h5M735 387.5h10M735 392.5h10M735 397.5h15M620 402.5h5M740 402.5h10M740 407.5h15M740 412.5h20M745 417.5h25M750 422.5h40M755 427.5h55M765 432.5h45M625 437.5h5M790 437.5h20M620 447.5h5M610 462.5h5M605 472.5h5M605 517.5h5M610 527.5h5M615 542.5h5M620 552.5h5M625 562.5h5M625 567.5h5M625 572.5h5M625 577.5h5M625 582.5h5M625 587.5h5M620 597.5h5M620 602.5h5M615 612.5h5M610 622.5h5M610 627.5h5M605 637.5h5M605 642.5h5M605 677.5h5M605 682.5h5M605 687.5h5M605 707.5h5M605 712.5h5M600 722.5h5"/><path stroke="#606060" d="M655 302.5h20M685 307.5h5M695 312.5h5M710 322.5h5M715 327.5h5M720 332.5h5M625 337.5h5M720 337.5h5M745 387.5h5M745 392.5h15M750 397.5h15M750 402.5h20M755 407.5h25M760 412.5h40M625 417.5h5M770 417.5h40M625 422.5h5M790 422.5h20M625 432.5h5M620 442.5h5M615 452.5h5M600 487.5h5M600 492.5h5M600 497.5h5M600 502.5h5M605 522.5h5M610 532.5h5M610 537.5h5M615 547.5h5M620 557.5h5M620 562.5h5M620 567.5h5M620 577.5h5M620 582.5h5M620 587.5h5M620 592.5h5M615 602.5h5M615 607.5h5M610 617.5h5M605 627.5h5M605 632.5h5M600 642.5h5M600 647.5h5M600 652.5h5M600 657.5h5M600 662.5h5M600 667.5h5M600 672.5h5M600 677.5h5M605 692.5h5M605 697.5h5M605 702.5h5M600 712.5h5M600 717.5h5M595 722.5h5"/><path stroke="#616161" d="M650 302.5h5M675 302.5h10M640 307.5h5M690 307.5h5M635 312.5h5M700 312.5h5M705 317.5h5M715 322.5h5M720 327.5h5M625 332.5h5M725 332.5h5M620 372.5h5M765 397.5h10M770 402.5h35M620 407.5h5M780 407.5h30M800 412.5h10M625 427.5h5M615 447.5h5M610 457.5h5M605 467.5h5M600 482.5h5M600 507.5h5M600 512.5h5M605 527.5h5M610 542.5h5M615 552.5h5M615 557.5h5M620 572.5h5M615 592.5h5M615 597.5h5M610 607.5h5M610 612.5h5M605 617.5h5M605 622.5h5M600 632.5h5M600 637.5h5M595 647.5h5M595 652.5h5M595 657.5h5M595 662.5h5M595 667.5h5M595 672.5h5M600 682.5h5M600 687.5h5M600 692.5h5M600 697.5h5M600 702.5h5M600 707.5h5M595 717.5h5"/><path stroke="#626262" d="M685 302.5h5M695 307.5h5M705 312.5h5M630 317.5h5M710 317.5h10M720 322.5h5M625 327.5h5M725 327.5h5M805 402.5h5M620 412.5h5M620 417.5h5M620 432.5h5M620 437.5h5M610 452.5h5M605 462.5h5M600 477.5h5M600 517.5h5M605 532.5h5M610 547.5h5M615 562.5h5M615 567.5h5M615 572.5h5M615 577.5h5M615 582.5h5M615 587.5h5M610 597.5h5M610 602.5h5M605 612.5h5M600 622.5h5M600 627.5h5M595 637.5h5M595 642.5h5M590 652.5h5M590 657.5h5M590 662.5h5M590 667.5h5M590 672.5h5M595 677.5h5M595 682.5h5M595 687.5h5M595 707.5h5M595 712.5h5M590 717.5h5"/><path stroke="#636363" d="M655 297.5h30M645 302.5h5M690 302.5h5M700 307.5h5M710 312.5h5M720 317.5h5M725 322.5h5M620 422.5h5M620 427.5h5M615 442.5h5M600 472.5h5M595 492.5h5M595 497.5h5M595 502.5h5M600 522.5h5M600 527.5h5M605 537.5h5M605 542.5h5M610 552.5h5M610 557.5h5M610 562.5h5M610 582.5h5M610 587.5h5M610 592.5h5M605 602.5h5M605 607.5h5M600 617.5h5M595 627.5h5M595 632.5h5M590 637.5h5M590 642.5h5M590 647.5h5M585 657.5h5M585 662.5h5M585 667.5h5M585 672.5h5M590 677.5h5M590 682.5h5M590 687.5h5M595 692.5h5M595 697.5h5M590 702.5h10M590 707.5h5M585 712.5h10"/><path stroke="#656565" d="M650 297.5h5M685 297.5h5M640 302.5h5M695 302.5h10M635 307.5h5M705 307.5h10M630 312.5h5M715 312.5h10M725 317.5h5M625 322.5h5M615 392.5h5M615 397.5h5M615 402.5h5M615 437.5h5M610 447.5h5M605 457.5h5M600 467.5h5M595 482.5h5M595 487.5h5M595 507.5h5M595 512.5h5M600 532.5h5M605 547.5h5M610 567.5h5M610 572.5h5M610 577.5h5M605 592.5h5M605 597.5h5M600 607.5h5M600 612.5h5M595 622.5h5M590 632.5h5M585 642.5h5M585 647.5h5M585 652.5h5M580 657.5h5M580 662.5h5M580 667.5h5M580 672.5h5M580 677.5h10M580 682.5h10M585 687.5h5M585 692.5h10M585 697.5h10M585 702.5h5M580 707.5h10"/><path stroke="#666666" d="M660 292.5h20M645 297.5h5M690 297.5h10M705 302.5h5M715 307.5h10M725 312.5h5M620 367.5h5M615 387.5h5M615 407.5h5M615 412.5h5M615 432.5h5M605 452.5h5M595 477.5h5M595 517.5h5M595 522.5h5M600 537.5h5M605 552.5h5M605 557.5h5M605 562.5h5M605 567.5h5M605 572.5h5M605 577.5h5M605 582.5h5M605 587.5h5M600 597.5h5M600 602.5h5M595 612.5h5M595 617.5h5M590 622.5h5M590 627.5h5M585 632.5h5M585 637.5h5M580 647.5h5M580 652.5h5M575 657.5h5M575 662.5h5M575 667.5h5M575 672.5h5M575 677.5h5M570 682.5h10M570 687.5h15M570 692.5h15M570 697.5h15M575 702.5h10M575 707.5h5"/><path stroke="#676767" d="M655 292.5h5M680 292.5h15M700 297.5h10M710 302.5h10M625 317.5h5M615 417.5h5M615 422.5h5M615 427.5h5M610 442.5h5M600 462.5h5M595 472.5h5M595 527.5h5M600 542.5h5M600 547.5h5M600 587.5h5M600 592.5h5M595 602.5h5M595 607.5h5M590 617.5h5M585 627.5h5M580 637.5h5M580 642.5h5M575 647.5h5M575 652.5h5M570 657.5h5M570 662.5h5M570 667.5h5M570 672.5h5M570 677.5h5"/><path stroke="#696969" d="M665 287.5h20M650 292.5h5M695 292.5h10M640 297.5h5M710 297.5h10M635 302.5h5M630 307.5h5M620 332.5h5M620 337.5h5M620 342.5h5M620 362.5h5M615 382.5h5M610 437.5h5M605 447.5h5M600 457.5h5M590 487.5h5M590 492.5h5M590 497.5h5M590 502.5h5M590 507.5h5M590 512.5h5M595 532.5h5M595 537.5h5M600 552.5h5M600 557.5h5M600 562.5h5M600 567.5h5M600 572.5h5M600 577.5h5M600 582.5h5M595 597.5h5M590 607.5h5M590 612.5h5M585 617.5h5M585 622.5h5M580 627.5h5M580 632.5h5M575 637.5h5M575 642.5h5M570 647.5h5M570 652.5h5M565 657.5h5M565 662.5h5"/><path stroke="#6a6a6a" d="M655 287.5h10M685 287.5h15M645 292.5h5M705 292.5h15M625 312.5h5M620 327.5h5M620 347.5h5M620 357.5h5M610 427.5h5M610 432.5h5M605 442.5h5M595 467.5h5M590 482.5h5M590 517.5h5M590 522.5h5M595 542.5h5M595 547.5h5M595 582.5h5M595 587.5h5M595 592.5h5M590 602.5h5M585 612.5h5M580 622.5h5M575 632.5h5M570 637.5h5M570 642.5h5M565 647.5h5M565 652.5h5"/><path stroke="#6b6b6b" d="M665 282.5h35M650 287.5h5M700 287.5h20M635 297.5h5M620 322.5h5M620 352.5h5M610 402.5h5M610 407.5h5M610 412.5h5M610 417.5h5M610 422.5h5M600 452.5h5M595 462.5h5M590 477.5h5M590 527.5h5M590 532.5h5M595 552.5h5M595 557.5h5M595 562.5h5M595 567.5h5M595 572.5h5M595 577.5h5M590 592.5h5M590 597.5h5M585 607.5h5M580 617.5h5M575 622.5h5M575 627.5h5M570 632.5h5M565 642.5h5M560 647.5h5M560 652.5h5"/><path stroke="#6c6c6c" d="M675 277.5h20M655 282.5h10M700 282.5h20M640 292.5h5M630 302.5h5M625 307.5h5M620 317.5h5M615 377.5h5M610 397.5h5M605 437.5h5M600 447.5h5M595 457.5h5M590 472.5h5M585 487.5h5M585 492.5h5M585 497.5h5M585 502.5h5M585 507.5h5M585 512.5h5M585 517.5h5M590 537.5h5M590 542.5h5M590 582.5h5M590 587.5h5M585 597.5h5M585 602.5h5M580 607.5h5M580 612.5h5M575 617.5h5M570 627.5h5M565 632.5h5M565 637.5h5M560 642.5h5M555 647.5h5M555 652.5h5"/><path stroke="#6e6e6e" d="M665 277.5h10M695 277.5h20M645 287.5h5M610 392.5h5M605 427.5h5M605 432.5h5M600 442.5h5M590 467.5h5M585 482.5h5M585 522.5h5M585 527.5h5M590 547.5h5M590 552.5h5M590 557.5h5M590 562.5h5M590 567.5h5M590 572.5h5M590 577.5h5M585 587.5h5M585 592.5h5M580 602.5h5M575 612.5h5M570 622.5h5M565 627.5h5M560 637.5h5M555 642.5h5M550 652.5h5"/><path stroke="#6f6f6f" d="M690 267.5h25M670 272.5h45M655 277.5h10M650 282.5h5M640 287.5h5M635 292.5h5M630 297.5h5M620 312.5h5M605 417.5h5M605 422.5h5M595 452.5h5M590 462.5h5M585 477.5h5M585 532.5h5M585 537.5h5M585 577.5h5M585 582.5h5M580 592.5h5M580 597.5h5M575 607.5h5M570 612.5h5M570 617.5h5M565 622.5h5M560 627.5h5M560 632.5h5M555 637.5h5M550 642.5h5M550 647.5h5"/><path stroke="#707070" d="M690 262.5h25M675 267.5h15M660 272.5h10M650 277.5h5M645 282.5h5M625 302.5h5M615 372.5h5M610 387.5h5M605 407.5h5M605 412.5h5M600 437.5h5M595 447.5h5M585 472.5h5M580 492.5h5M580 497.5h5M580 502.5h5M580 507.5h5M580 512.5h5M580 517.5h5M585 542.5h5M585 547.5h5M585 552.5h5M585 557.5h5M585 562.5h5M585 567.5h5M585 572.5h5M580 587.5h5M575 597.5h5M575 602.5h5M570 607.5h5M565 617.5h5M560 622.5h5M555 632.5h5M550 637.5h5M545 642.5h5M545 647.5h5"/><path stroke="#717171" d="M690 257.5h25M675 262.5h15M665 267.5h10M655 272.5h5M640 282.5h5M635 287.5h5M630 292.5h5M620 307.5h5M615 322.5h5M615 327.5h5M615 332.5h5M605 402.5h5M600 427.5h5M600 432.5h5M590 457.5h5M585 467.5h5M580 482.5h5M580 487.5h5M580 522.5h5M580 527.5h5M580 532.5h5M580 577.5h5M580 582.5h5M575 592.5h5M570 602.5h5M565 612.5h5M560 617.5h5M555 622.5h5M555 627.5h5M550 632.5h5M545 637.5h5M540 642.5h5M540 647.5h5"/><path stroke="#737373" d="M685 252.5h25M675 257.5h15M665 262.5h10M660 267.5h5M650 272.5h5M645 277.5h5M625 297.5h5M615 317.5h5M615 337.5h5M605 397.5h5M600 422.5h5M595 442.5h5M590 452.5h5M585 462.5h5M580 477.5h5M575 502.5h5M575 507.5h5M580 537.5h5M580 542.5h5M580 547.5h5M580 552.5h5M580 557.5h5M580 562.5h5M580 567.5h5M580 572.5h5M575 582.5h5M575 587.5h5M570 597.5h5M565 602.5h5M565 607.5h5M560 612.5h5M555 617.5h5M550 627.5h5M545 632.5h5M540 637.5h5"/><path stroke="#747474" d="M675 252.5h10M670 257.5h5M660 262.5h5M655 267.5h5M640 277.5h5M635 282.5h5M620 302.5h5M615 312.5h5M615 342.5h5M610 382.5h5M600 412.5h5M600 417.5h5M595 437.5h5M590 447.5h5M580 472.5h5M575 487.5h5M575 492.5h5M575 497.5h5M575 512.5h5M575 517.5h5M575 522.5h5M575 577.5h5M570 587.5h5M570 592.5h5M565 597.5h5M560 607.5h5M555 612.5h5M550 617.5h5M550 622.5h5M545 627.5h5M540 632.5h5"/><path stroke="#757575" d="M670 252.5h5M665 257.5h5M655 262.5h5M650 267.5h5M645 272.5h5M630 287.5h5M625 292.5h5M615 367.5h5M605 392.5h5M600 407.5h5M595 432.5h5M585 457.5h5M580 467.5h5M575 482.5h5M575 527.5h5M575 532.5h5M575 537.5h5M575 542.5h5M575 562.5h5M575 567.5h5M575 572.5h5M570 582.5h5M565 592.5h5M560 602.5h5M555 607.5h5M550 612.5h5M545 622.5h5M540 627.5h5"/><path stroke="#777777" d="M665 252.5h5M660 257.5h5M650 262.5h5M645 267.5h5M640 272.5h5M635 277.5h5M620 297.5h5M615 307.5h5M615 347.5h5M600 402.5h5M595 422.5h5M595 427.5h5M590 442.5h5M585 452.5h5M575 477.5h5M570 497.5h5M570 502.5h5M570 507.5h5M570 512.5h5M570 517.5h5M575 547.5h5M575 552.5h5M575 557.5h5M570 572.5h5M570 577.5h5M565 587.5h5M560 597.5h5M555 602.5h5M550 607.5h5M545 617.5h5M540 622.5h5"/><path stroke="#787878" d="M660 252.5h5M655 257.5h5M630 282.5h5M625 287.5h5M610 322.5h5M610 327.5h5M595 417.5h5M590 437.5h5M580 462.5h5M575 472.5h5M570 487.5h5M570 492.5h5M570 522.5h5M570 527.5h5M570 532.5h5M570 562.5h5M570 567.5h5M565 582.5h5M560 587.5h5M560 592.5h5M555 597.5h5M550 602.5h5M545 607.5h5M545 612.5h5M540 617.5h5M535 622.5h5"/><path stroke="#797979" d="M655 252.5h5M650 257.5h5M645 262.5h5M640 267.5h5M635 272.5h5M630 277.5h5M620 292.5h5M615 302.5h5M610 317.5h5M610 332.5h5M615 352.5h5M615 362.5h5M605 387.5h5M600 397.5h5M595 412.5h5M590 432.5h5M585 447.5h5M580 457.5h5M575 467.5h5M570 482.5h5M570 537.5h5M570 542.5h5M570 547.5h5M570 552.5h5M570 557.5h5M565 572.5h5M565 577.5h5M560 582.5h5M555 592.5h5M550 597.5h5M545 602.5h5M540 612.5h5M535 617.5h5"/><path stroke="#7a7a7a" d="M650 252.5h5M645 257.5h5M640 262.5h5M625 282.5h5M610 312.5h5M615 357.5h5M610 377.5h5M595 407.5h5M590 427.5h5M585 442.5h5M580 452.5h5M570 477.5h5M565 492.5h5M565 497.5h5M565 502.5h5M565 507.5h5M565 512.5h5M565 517.5h5M565 522.5h5M565 527.5h5M565 562.5h5M565 567.5h5M560 577.5h5M555 587.5h5M550 592.5h5M545 597.5h5M540 607.5h5M535 612.5h5"/><path stroke="#7c7c7c" d="M645 252.5h5M635 267.5h5M630 272.5h5M620 287.5h5M615 297.5h5M610 307.5h5M610 337.5h5M595 402.5h5M590 422.5h5M585 437.5h5M575 462.5h5M570 472.5h5M565 487.5h5M565 532.5h5M565 537.5h5M565 542.5h5M565 547.5h5M565 552.5h5M565 557.5h5M560 572.5h5M555 582.5h5M550 587.5h5M545 592.5h5M540 602.5h5M535 607.5h5"/><path stroke="#7d7d7d" d="M640 257.5h5M635 262.5h5M630 267.5h5M625 277.5h5M615 292.5h5M600 392.5h5M590 412.5h5M590 417.5h5M585 432.5h5M580 447.5h5M575 457.5h5M570 467.5h5M565 482.5h5M560 497.5h5M560 502.5h5M560 507.5h5M560 512.5h5M560 517.5h5M560 522.5h5M560 562.5h5M560 567.5h5M555 577.5h5M550 582.5h5M545 587.5h5M540 597.5h5M535 602.5h5"/><path stroke="#7e7e7e" d="M640 252.5h5M635 257.5h5M625 272.5h5M620 282.5h5M610 302.5h5M605 317.5h5M605 322.5h5M595 397.5h5M585 427.5h5M580 442.5h5M565 477.5h5M560 487.5h5M560 492.5h5M560 527.5h5M560 532.5h5M560 537.5h5M560 542.5h5M560 547.5h5M560 552.5h5M560 557.5h5M555 567.5h5M555 572.5h5M550 577.5h5M545 582.5h5M540 592.5h5M530 597.5h10M530 602.5h5"/><path stroke="#808080" d="M635 252.5h5M630 262.5h5M620 277.5h5M615 287.5h5M610 297.5h5M605 312.5h5M605 327.5h5M610 342.5h5M605 382.5h5M590 407.5h5M585 422.5h5M580 437.5h5M575 452.5h5M570 462.5h5M565 472.5h5M560 482.5h5M555 497.5h5M555 502.5h5M555 507.5h5M555 512.5h5M555 517.5h5M555 522.5h5M555 562.5h5M550 572.5h5M545 577.5h5M540 587.5h5M530 592.5h10M525 597.5h5"/><path stroke="#818181" d="M630 257.5h5M625 267.5h5M615 282.5h5M605 307.5h5M605 332.5h5M610 372.5h5M590 402.5h5M585 417.5h5M575 447.5h5M570 457.5h5M565 467.5h5M560 477.5h5M555 492.5h5M555 527.5h5M555 532.5h5M555 537.5h5M555 542.5h5M555 547.5h5M555 552.5h5M555 557.5h5M550 567.5h5M545 572.5h5M540 582.5h5M530 587.5h10M525 592.5h5M520 597.5h5"/><path stroke="#828282" d="M630 252.5h5M625 262.5h5M620 272.5h5M610 292.5h5M605 302.5h5M600 387.5h5M595 392.5h5M585 412.5h5M580 427.5h5M580 432.5h5M575 442.5h5M570 452.5h5M565 462.5h5M560 472.5h5M555 482.5h5M555 487.5h5M550 497.5h5M550 502.5h5M550 507.5h5M550 512.5h5M550 517.5h5M550 522.5h5M550 527.5h5M550 557.5h5M550 562.5h5M545 567.5h5M540 572.5h5M535 577.5h10M530 582.5h10M525 587.5h5M520 592.5h5"/><path stroke="#838383" d="M625 257.5h5M620 267.5h5M615 277.5h5M610 287.5h5M600 317.5h5M590 397.5h5M585 407.5h5M580 422.5h5M555 477.5h5M550 492.5h5M550 532.5h5M550 537.5h5M550 542.5h5M550 547.5h5M550 552.5h5M545 562.5h5M540 567.5h5M535 572.5h5M530 577.5h5M525 582.5h5M520 587.5h5M515 592.5h5"/><path stroke="#858585" d="M625 252.5h5M620 262.5h5M615 272.5h5M610 282.5h5M605 297.5h5M600 312.5h5M600 322.5h5M600 327.5h5M605 337.5h5M610 347.5h5M585 402.5h5M580 417.5h5M575 437.5h5M570 447.5h5M565 457.5h5M560 467.5h5M550 487.5h5M545 497.5h5M545 502.5h5M545 507.5h5M545 512.5h5M545 517.5h5M545 522.5h5M545 527.5h5M545 532.5h5M545 537.5h5M545 547.5h5M545 552.5h5M545 557.5h5M540 562.5h5M535 567.5h5M530 572.5h5M525 577.5h5M515 582.5h10M510 587.5h10"/><path stroke="#868686" d="M620 257.5h5M615 267.5h5M605 292.5h5M600 307.5h5M580 412.5h5M575 432.5h5M570 442.5h5M565 452.5h5M560 462.5h5M555 472.5h5M550 482.5h5M545 492.5h5M540 507.5h5M540 512.5h5M540 517.5h5M540 522.5h5M540 527.5h5M545 542.5h5M540 552.5h5M540 557.5h5M535 562.5h5M530 567.5h5M520 572.5h10M515 577.5h10M510 582.5h5"/><path stroke="#878787" d="M620 252.5h5M610 277.5h5M605 287.5h5M600 302.5h5M610 367.5h5M605 377.5h5M595 387.5h5M590 392.5h5M585 397.5h5M580 407.5h5M575 427.5h5M560 457.5h5M555 467.5h5M550 477.5h5M545 487.5h5M540 497.5h5M540 502.5h5M535 512.5h5M535 517.5h5M535 522.5h5M535 527.5h5M540 532.5h5M540 537.5h5M540 542.5h5M540 547.5h5M535 552.5h5M530 557.5h10M525 562.5h10M520 567.5h10M515 572.5h5M510 577.5h5"/><path stroke="#888888" d="M610 272.5h5M605 282.5h5M600 297.5h5M595 317.5h5M595 322.5h5M600 332.5h5M610 352.5h5M600 382.5h5M580 402.5h5M575 417.5h5M575 422.5h5M570 437.5h5M565 447.5h5M555 462.5h5M550 472.5h5M545 482.5h5M540 492.5h5M535 502.5h5M535 507.5h5M530 522.5h5M530 527.5h5M530 532.5h10M530 537.5h10M530 542.5h10M530 547.5h10M525 552.5h10M520 557.5h10M515 562.5h10M510 567.5h10M505 572.5h10"/><path stroke="#8a8a8a" d="M610 267.5h5M605 277.5h5M600 292.5h5M595 307.5h5M595 312.5h5M595 327.5h5M605 342.5h5M585 392.5h5M580 397.5h5M575 412.5h5M570 432.5h5M565 442.5h5M560 452.5h5M550 467.5h5M545 477.5h5M540 487.5h5M535 492.5h5M535 497.5h5M530 507.5h5M530 512.5h5M530 517.5h5M525 522.5h5M525 527.5h5M525 532.5h5M525 537.5h5M520 542.5h10M520 547.5h10M515 552.5h10M510 557.5h10M505 562.5h10M505 567.5h5"/><path stroke="#8b8b8b" d="M605 272.5h5M600 287.5h5M595 302.5h5M610 362.5h5M575 407.5h5M570 427.5h5M560 447.5h5M555 457.5h5M545 472.5h5M540 482.5h5M535 487.5h5M530 497.5h5M530 502.5h5M525 507.5h5M525 512.5h5M525 517.5h5M520 522.5h5M520 527.5h5M520 532.5h5M515 537.5h10M510 542.5h10M510 547.5h10M505 552.5h10M500 557.5h10M500 562.5h5"/><path stroke="#8c8c8c" d="M605 267.5h5M600 282.5h5M595 297.5h5M600 337.5h5M610 357.5h5M590 387.5h5M580 392.5h5M575 402.5h5M570 417.5h5M570 422.5h5M565 437.5h5M555 452.5h5M550 462.5h5M545 467.5h5M540 477.5h5M535 482.5h5M530 492.5h5M525 502.5h5M520 512.5h5M520 517.5h5M515 522.5h5M515 527.5h5M510 532.5h10M510 537.5h5M505 542.5h5M500 547.5h10M500 552.5h5"/><path stroke="#8e8e8e" d="M605 262.5h5M600 277.5h5M590 312.5h5M590 317.5h5M590 322.5h5M595 332.5h5M575 397.5h5M570 407.5h5M570 412.5h5M565 432.5h5M560 442.5h5M550 457.5h5M540 472.5h5M530 487.5h5M525 497.5h5M520 502.5h5M520 507.5h5M515 512.5h5M515 517.5h5M510 522.5h5M510 527.5h5M505 532.5h5M505 537.5h5M500 542.5h5"/><path stroke="#8f8f8f" d="M600 272.5h5M595 292.5h5M590 307.5h5M590 327.5h5M595 382.5h5M585 387.5h5M575 392.5h5M570 402.5h5M565 422.5h5M565 427.5h5M560 437.5h5M555 447.5h5M550 452.5h5M545 462.5h5M540 467.5h5M535 477.5h5M530 482.5h5M525 492.5h5M520 497.5h5M515 507.5h5M510 512.5h5M510 517.5h5"/><path stroke="#909090" d="M600 267.5h5M595 282.5h5M595 287.5h5M590 302.5h5M605 347.5h5M605 372.5h5M580 387.5h5M570 397.5h5M565 412.5h5M565 417.5h5M560 432.5h5M555 442.5h5M545 457.5h5M535 472.5h5M530 477.5h5M525 487.5h5M520 492.5h5M515 502.5h5M510 507.5h5"/><path stroke="#919191" d="M600 262.5h5M595 277.5h5M590 297.5h5M585 312.5h5M585 317.5h5M585 322.5h5M585 327.5h5M590 332.5h5M595 337.5h5M600 377.5h5M575 387.5h5M570 392.5h5M565 402.5h5M565 407.5h5M560 427.5h5M550 447.5h5M545 452.5h5M540 462.5h5M535 467.5h5M525 482.5h5M520 487.5h5M515 497.5h5M510 502.5h5M505 512.5h5"/><path stroke="#939393" d="M595 267.5h5M595 272.5h5M590 292.5h5M585 307.5h5M600 342.5h5M590 382.5h5M570 387.5h5M565 397.5h5M560 422.5h5M555 437.5h5M550 442.5h5M540 457.5h5M535 462.5h5M530 472.5h5M525 477.5h5M515 492.5h5M510 497.5h5M505 507.5h5"/><path stroke="#949494" d="M595 257.5h5M595 262.5h5M590 282.5h5M590 287.5h5M585 302.5h5M580 317.5h5M580 322.5h5M580 327.5h5M585 332.5h5M580 382.5h10M565 392.5h5M560 402.5h5M560 407.5h5M560 412.5h5M560 417.5h5M555 432.5h5M545 447.5h5M540 452.5h5M530 467.5h5M525 472.5h5M520 482.5h5M515 487.5h5M510 492.5h5M505 502.5h5"/><path stroke="#959595" d="M590 272.5h5M590 277.5h5M585 297.5h5M580 312.5h5M580 332.5h5M590 337.5h5M570 382.5h10M565 387.5h5M560 392.5h5M560 397.5h5M555 422.5h5M555 427.5h5M550 437.5h5M545 442.5h5M535 457.5h5M530 462.5h5M520 477.5h5M515 482.5h5M505 497.5h5"/><path stroke="#969696" d="M590 262.5h5M590 267.5h5M585 287.5h5M585 292.5h5M580 307.5h5M575 322.5h5M575 327.5h5M585 337.5h5M565 382.5h5M560 387.5h5M555 407.5h5M555 412.5h5M555 417.5h5M550 432.5h5M545 437.5h5M540 447.5h5M535 452.5h5M525 467.5h5M520 472.5h5M510 487.5h5M505 492.5h5"/><path stroke="#989898" d="M590 252.5h5M590 257.5h5M585 277.5h5M585 282.5h5M580 302.5h5M575 312.5h5M575 317.5h5M575 332.5h5M580 337.5h5M595 342.5h5M605 352.5h5M605 367.5h5M565 377.5h15M595 377.5h5M560 382.5h5M555 392.5h5M555 397.5h5M555 402.5h5M550 422.5h5M550 427.5h5M545 432.5h5M540 442.5h5M535 447.5h5M530 457.5h5M525 462.5h5M515 477.5h5M510 482.5h5M505 487.5h5"/><path stroke="#999999" d="M585 262.5h5M585 267.5h5M585 272.5h5M580 292.5h5M580 297.5h5M575 307.5h5M570 327.5h5M570 332.5h5M575 337.5h5M560 377.5h5M580 377.5h5M555 387.5h5M550 407.5h5M550 412.5h5M550 417.5h5M545 427.5h5M540 437.5h5M530 452.5h5M525 457.5h5M520 467.5h5M515 472.5h5M510 477.5h5"/><path stroke="#9a9a9a" d="M585 252.5h5M585 257.5h5M580 282.5h5M580 287.5h5M575 302.5h5M570 317.5h5M570 322.5h5M570 337.5h5M575 342.5h5M590 342.5h5M600 347.5h5M560 372.5h15M555 377.5h5M585 377.5h10M555 382.5h5M550 392.5h5M550 397.5h5M550 402.5h5M545 417.5h5M545 422.5h5M540 432.5h5M535 442.5h5M530 447.5h5M520 462.5h5M515 467.5h5M505 482.5h5M500 487.5h5"/><path stroke="#9c9c9c" d="M585 247.5h5M580 267.5h5M580 272.5h5M580 277.5h5M575 297.5h5M570 312.5h5M565 327.5h5M565 332.5h5M565 337.5h5M565 342.5h10M580 342.5h10M605 357.5h5M565 362.5h5M560 367.5h15M555 372.5h5M575 372.5h5M600 372.5h5M550 387.5h5M545 402.5h5M545 407.5h5M545 412.5h5M540 422.5h5M540 427.5h5M535 432.5h5M535 437.5h5M530 442.5h5M525 452.5h5M520 457.5h5M510 472.5h5M505 477.5h5"/><path stroke="#9d9d9d" d="M580 247.5h5M580 252.5h5M580 257.5h5M580 262.5h5M575 282.5h5M575 287.5h5M575 292.5h5M570 302.5h5M570 307.5h5M565 317.5h5M565 322.5h5M565 347.5h15M560 352.5h15M560 357.5h10M560 362.5h5M570 362.5h5M605 362.5h5M555 367.5h5M550 377.5h5M550 382.5h5M545 392.5h5M545 397.5h5M540 412.5h5M540 417.5h5M535 427.5h5M530 437.5h5M525 447.5h5M515 462.5h5M510 467.5h5M500 482.5h5"/><path stroke="#9e9e9e" d="M580 237.5h5M580 242.5h5M575 262.5h5M575 267.5h5M575 272.5h5M575 277.5h5M570 297.5h5M565 312.5h5M560 327.5h5M560 332.5h5M560 337.5h5M560 342.5h5M560 347.5h5M580 347.5h5M555 357.5h5M570 357.5h5M555 362.5h5M575 367.5h5M550 372.5h5M580 372.5h5M545 387.5h5M540 402.5h5M540 407.5h5M535 422.5h5M530 432.5h5M525 442.5h5M520 452.5h5M515 457.5h5M505 472.5h5M500 477.5h5"/><path stroke="#9f9f9f" d="M300 147.5h5M295 152.5h15M295 157.5h15M295 162.5h15M575 247.5h5M575 252.5h5M575 257.5h5M570 282.5h5M570 287.5h5M570 292.5h5M565 302.5h5M565 307.5h5M560 317.5h5M560 322.5h5M555 342.5h5M555 347.5h5M595 347.5h5M555 352.5h5M575 352.5h5M550 362.5h5M575 362.5h5M550 367.5h5M545 377.5h5M545 382.5h5M540 397.5h5M535 412.5h5M535 417.5h5M530 427.5h5M525 437.5h5M520 447.5h5M510 462.5h5M505 467.5h5"/><path stroke="#a1a1a1" d="M290 132.5h25M285 137.5h35M280 142.5h45M280 147.5h20M305 147.5h20M275 152.5h20M310 152.5h15M275 157.5h20M310 157.5h15M280 162.5h15M310 162.5h15M280 167.5h40M285 172.5h35M290 177.5h20M575 237.5h5M575 242.5h5M570 262.5h5M570 267.5h5M570 272.5h5M570 277.5h5M565 287.5h5M565 292.5h5M565 297.5h5M560 307.5h5M560 312.5h5M555 332.5h5M555 337.5h5M585 347.5h10M550 357.5h5M575 357.5h5M545 372.5h5M585 372.5h5M595 372.5h5M540 387.5h5M540 392.5h5M535 407.5h5M530 422.5h5M525 432.5h5M520 442.5h5M515 452.5h5M500 472.5h5"/><path stroke="#a2a2a2" d="M290 117.5h20M280 122.5h40M275 127.5h50M270 132.5h20M315 132.5h15M270 137.5h15M320 137.5h10M265 142.5h15M325 142.5h10M265 147.5h15M325 147.5h10M265 152.5h10M325 152.5h10M265 157.5h10M325 157.5h10M265 162.5h15M325 162.5h10M270 167.5h10M320 167.5h10M275 172.5h10M320 172.5h10M275 177.5h15M310 177.5h15M285 182.5h30M570 247.5h5M570 252.5h5M570 257.5h5M565 272.5h5M565 277.5h5M565 282.5h5M560 297.5h5M560 302.5h5M555 322.5h5M555 327.5h5M550 347.5h5M550 352.5h5M580 352.5h5M600 352.5h5M545 367.5h5M580 367.5h5M590 372.5h5M540 382.5h5M535 397.5h5M535 402.5h5M530 412.5h5M530 417.5h5M525 427.5h5M515 447.5h5M510 457.5h5M505 462.5h5"/><path stroke="#a3a3a3" d="M280 107.5h35M270 112.5h55M265 117.5h25M310 117.5h20M260 122.5h20M320 122.5h15M260 127.5h15M325 127.5h10M260 132.5h10M330 132.5h10M255 137.5h15M330 137.5h10M255 142.5h10M335 142.5h5M255 147.5h10M335 147.5h5M255 152.5h10M335 152.5h5M255 157.5h10M335 157.5h5M260 162.5h5M335 162.5h5M260 167.5h10M330 167.5h5M265 172.5h10M330 172.5h5M265 177.5h10M325 177.5h5M270 182.5h15M315 182.5h10M280 187.5h40M570 237.5h5M570 242.5h5M565 257.5h5M565 262.5h5M565 267.5h5M560 277.5h5M560 282.5h5M560 287.5h5M560 292.5h5M555 302.5h5M555 307.5h5M555 312.5h5M555 317.5h5M550 337.5h5M550 342.5h5M545 357.5h5M545 362.5h5M540 377.5h5M535 392.5h5M530 407.5h5M525 422.5h5M520 437.5h5M510 452.5h5M500 467.5h5M495 472.5h5"/><path stroke="#a4a4a4" d="M275 92.5h40M265 97.5h60M260 102.5h70M255 107.5h25M315 107.5h20M255 112.5h15M325 112.5h15M250 117.5h15M330 117.5h10M250 122.5h10M335 122.5h10M245 127.5h15M335 127.5h10M245 132.5h15M340 132.5h5M245 137.5h10M340 137.5h5M245 142.5h10M340 142.5h5M245 147.5h10M340 147.5h5M245 152.5h10M340 152.5h5M245 157.5h10M340 157.5h5M250 162.5h10M340 162.5h5M250 167.5h10M335 167.5h10M255 172.5h10M335 172.5h5M260 177.5h5M330 177.5h5M260 182.5h10M325 182.5h10M270 187.5h10M320 187.5h5M275 192.5h45M565 247.5h5M565 252.5h5M560 267.5h5M560 272.5h5M555 287.5h5M555 292.5h5M555 297.5h5M550 327.5h5M550 332.5h5M545 352.5h5M580 357.5h5M580 362.5h5M540 367.5h5M600 367.5h5M540 372.5h5M535 387.5h5M530 402.5h5M525 417.5h5M520 432.5h5M515 442.5h5M505 457.5h5M500 462.5h5"/><path stroke="#a6a6a6" d="M280 77.5h40M260 82.5h10M275 82.5h50M255 87.5h75M250 92.5h25M315 92.5h20M245 97.5h20M325 97.5h15M240 102.5h20M330 102.5h15M240 107.5h15M335 107.5h10M240 112.5h15M340 112.5h10M235 117.5h15M340 117.5h10M235 122.5h15M345 122.5h5M235 127.5h10M345 127.5h5M235 132.5h10M345 132.5h10M235 137.5h10M345 137.5h10M235 142.5h10M345 142.5h10M235 147.5h10M345 147.5h10M235 152.5h10M345 152.5h5M240 157.5h5M345 157.5h5M240 162.5h10M345 162.5h5M245 167.5h5M345 167.5h5M245 172.5h10M340 172.5h5M250 177.5h10M335 177.5h5M255 182.5h5M335 182.5h5M260 187.5h10M325 187.5h10M265 192.5h10M320 192.5h5M275 197.5h45M565 237.5h5M565 242.5h5M560 257.5h5M560 262.5h5M555 272.5h5M555 277.5h5M555 282.5h5M550 297.5h5M550 302.5h5M550 307.5h5M550 312.5h5M550 317.5h5M550 322.5h5M545 342.5h5M545 347.5h5M585 352.5h5M540 362.5h5M585 367.5h5M535 382.5h5M530 397.5h5M525 412.5h5M520 427.5h5M515 437.5h5M510 447.5h5M495 467.5h5"/><path stroke="#a7a7a7" d="M320 77.5h15M245 82.5h15M325 82.5h20M235 87.5h20M330 87.5h20M230 92.5h20M335 92.5h15M225 97.5h20M340 97.5h15M225 102.5h15M345 102.5h10M225 107.5h15M345 107.5h10M225 112.5h15M350 112.5h5M225 117.5h10M350 117.5h10M225 122.5h10M350 122.5h10M225 127.5h10M350 127.5h10M225 132.5h10M355 132.5h5M225 137.5h10M355 137.5h5M225 142.5h10M355 142.5h5M225 147.5h10M355 147.5h5M225 152.5h10M350 152.5h5M230 157.5h10M350 157.5h5M230 162.5h10M350 162.5h5M235 167.5h10M235 172.5h10M345 172.5h5M240 177.5h10M340 177.5h5M245 182.5h10M340 182.5h5M250 187.5h10M335 187.5h5M255 192.5h10M325 192.5h10M265 197.5h10M320 197.5h5M275 202.5h40M560 247.5h5M560 252.5h5M555 267.5h5M550 282.5h5M550 287.5h5M550 292.5h5M545 337.5h5M595 352.5h5M540 357.5h5M535 372.5h5M535 377.5h5M530 392.5h5M525 407.5h5M520 422.5h5M505 452.5h5M500 457.5h5"/><path stroke="#a8a8a8" d="M350 87.5h10M350 92.5h10M355 97.5h10M220 102.5h5M355 102.5h10M210 107.5h15M355 107.5h10M210 112.5h15M355 112.5h10M210 117.5h15M360 117.5h5M210 122.5h15M360 122.5h5M210 127.5h15M360 127.5h5M210 132.5h15M360 132.5h5M210 137.5h15M360 137.5h5M215 142.5h10M360 142.5h5M215 147.5h10M360 147.5h5M215 152.5h10M355 152.5h5M220 157.5h10M355 157.5h5M220 162.5h10M355 162.5h5M225 167.5h10M350 167.5h5M230 172.5h5M350 172.5h5M230 177.5h10M345 177.5h5M235 182.5h10M345 182.5h5M240 187.5h10M340 187.5h5M245 192.5h10M335 192.5h5M255 197.5h10M325 197.5h5M260 202.5h15M315 202.5h10M275 207.5h35M560 237.5h5M560 242.5h5M555 257.5h5M555 262.5h5M550 272.5h5M550 277.5h5M545 292.5h5M545 297.5h5M545 302.5h5M545 322.5h5M545 327.5h5M545 332.5h5M540 352.5h5M590 352.5h5M585 357.5h5M600 357.5h5M535 367.5h5M530 387.5h5M525 402.5h5M520 417.5h5M515 432.5h5M510 442.5h5M495 462.5h5M490 467.5h5"/><path stroke="#aaaaaa" d="M365 107.5h5M205 112.5h5M365 112.5h5M205 117.5h5M365 117.5h5M205 122.5h5M365 122.5h5M205 127.5h5M365 127.5h5M205 132.5h5M365 132.5h5M205 137.5h5M365 137.5h5M205 142.5h10M365 142.5h5M205 147.5h10M365 147.5h5M205 152.5h10M360 152.5h5M210 157.5h10M360 157.5h5M210 162.5h10M215 167.5h10M220 172.5h10M355 172.5h5M220 177.5h10M350 177.5h5M225 182.5h10M230 187.5h10M345 187.5h5M235 192.5h10M340 192.5h5M245 197.5h10M330 197.5h10M250 202.5h10M325 202.5h5M260 207.5h15M310 207.5h10M280 212.5h25M555 247.5h5M555 252.5h5M550 267.5h5M545 282.5h5M545 287.5h5M545 307.5h5M545 312.5h5M545 317.5h5M540 342.5h5M540 347.5h5M535 362.5h5M585 362.5h5M600 362.5h5M590 367.5h10M530 382.5h5M515 427.5h5M510 437.5h5M505 447.5h5M500 452.5h5"/><path stroke="#ababab" d="M200 147.5h5M200 152.5h5M365 152.5h5M200 157.5h10M200 162.5h10M205 167.5h10M210 172.5h10M210 177.5h10M355 177.5h5M215 182.5h10M350 182.5h5M220 187.5h10M225 192.5h10M345 192.5h5M235 197.5h10M240 202.5h10M330 202.5h5M250 207.5h10M320 207.5h10M265 212.5h15M305 212.5h10M555 237.5h5M555 242.5h5M550 257.5h5M550 262.5h5M545 272.5h5M545 277.5h5M540 337.5h5M535 357.5h5M530 377.5h5M525 397.5h5M520 412.5h5M515 422.5h5M505 442.5h5M495 457.5h5M490 462.5h5"/><path stroke="#acacac" d="M200 167.5h5M195 172.5h15M200 177.5h10M360 177.5h5M205 182.5h10M355 182.5h5M210 187.5h10M350 187.5h5M215 192.5h10M225 197.5h10M340 197.5h5M230 202.5h10M335 202.5h5M240 207.5h10M330 207.5h5M250 212.5h15M315 212.5h10M265 217.5h45M550 252.5h5M545 267.5h5M540 287.5h5M540 292.5h5M540 297.5h5M540 302.5h5M540 307.5h5M540 312.5h5M540 322.5h5M540 327.5h5M540 332.5h5M535 352.5h5M530 367.5h5M530 372.5h5M525 392.5h5M520 407.5h5M510 432.5h5M500 447.5h5"/><path stroke="#adadad" d="M190 177.5h10M195 182.5h10M360 182.5h5M200 187.5h10M355 187.5h5M205 192.5h10M350 192.5h5M210 197.5h15M345 197.5h5M220 202.5h10M340 202.5h5M225 207.5h15M335 207.5h5M235 212.5h15M325 212.5h5M250 217.5h15M310 217.5h10M270 222.5h35M550 242.5h5M550 247.5h5M545 262.5h5M540 277.5h5M540 282.5h5M540 317.5h5M535 347.5h5M590 357.5h10M530 362.5h5M590 362.5h5M525 382.5h5M525 387.5h5M520 402.5h5M515 417.5h5M505 437.5h5M495 452.5h5M490 457.5h5"/><path stroke="#afafaf" d="M180 182.5h15M185 187.5h15M360 187.5h5M190 192.5h15M355 192.5h5M200 197.5h10M350 197.5h5M205 202.5h15M345 202.5h5M215 207.5h10M340 207.5h5M220 212.5h15M330 212.5h5M235 217.5h15M320 217.5h10M250 222.5h20M305 222.5h10M550 232.5h5M550 237.5h5M545 257.5h5M540 272.5h5M535 342.5h5M530 357.5h5M595 362.5h5M525 377.5h5M520 397.5h5M515 412.5h5M510 427.5h5M500 442.5h5"/><path stroke="#b0b0b0" d="M170 187.5h15M180 192.5h10M360 192.5h5M185 197.5h15M355 197.5h5M190 202.5h15M350 202.5h5M200 207.5h15M345 207.5h5M210 212.5h10M335 212.5h5M220 217.5h15M330 217.5h5M230 222.5h20M315 222.5h10M250 227.5h60M545 247.5h5M545 252.5h5M540 267.5h5M535 287.5h5M535 292.5h5M535 297.5h5M535 302.5h5M535 307.5h5M535 332.5h5M535 337.5h5M530 352.5h5M525 372.5h5M510 422.5h5M505 432.5h5M495 447.5h5M490 452.5h5M485 457.5h5"/><path stroke="#b1b1b1" d="M365 187.5h5M165 192.5h15M170 197.5h15M175 202.5h15M185 207.5h15M195 212.5h15M340 212.5h5M205 217.5h15M335 217.5h5M215 222.5h15M325 222.5h5M225 227.5h25M310 227.5h10M250 232.5h50M545 237.5h5M545 242.5h5M540 262.5h5M535 277.5h5M535 282.5h5M535 312.5h5M535 317.5h5M535 322.5h5M535 327.5h5M530 347.5h5M525 367.5h5M520 387.5h5M520 392.5h5M515 407.5h5"/><path stroke="#b2b2b2" d="M365 192.5h5M160 197.5h10M360 197.5h5M160 202.5h15M355 202.5h5M170 207.5h15M350 207.5h5M175 212.5h20M345 212.5h5M185 217.5h20M340 217.5h5M195 222.5h20M330 222.5h5M210 227.5h15M320 227.5h5M220 232.5h30M300 232.5h15M545 232.5h5M250 237.5h35M540 252.5h5M540 257.5h5M535 272.5h5M530 342.5h5M525 357.5h5M525 362.5h5M520 382.5h5M515 402.5h5M510 417.5h5M505 427.5h5M500 437.5h5M495 442.5h5"/><path stroke="#b4b4b4" d="M365 197.5h5M155 202.5h5M360 202.5h5M155 207.5h15M355 207.5h5M160 212.5h15M350 212.5h5M170 217.5h15M345 217.5h5M180 222.5h15M335 222.5h5M190 227.5h20M325 227.5h10M200 232.5h20M315 232.5h10M215 237.5h35M285 237.5h20M250 242.5h15M540 247.5h5M535 267.5h5M530 337.5h5M520 372.5h5M520 377.5h5M490 447.5h5M485 452.5h5"/><path stroke="#b5b5b5" d="M370 192.5h5M360 207.5h5M150 212.5h10M355 212.5h5M145 217.5h25M160 222.5h20M340 222.5h5M170 227.5h20M335 227.5h5M180 232.5h20M325 232.5h5M540 232.5h5M190 237.5h25M305 237.5h15M540 237.5h5M210 242.5h40M265 242.5h35M540 242.5h5M535 262.5h5M530 282.5h5M530 287.5h5M530 292.5h5M530 297.5h5M530 302.5h5M530 307.5h5M530 312.5h5M530 332.5h5M525 352.5h5M520 367.5h5M515 397.5h5M510 412.5h5M505 422.5h5M500 432.5h5"/><path stroke="#b6b6b6" d="M375 192.5h5M370 197.5h5M365 202.5h5M350 217.5h5M140 222.5h20M345 222.5h5M145 227.5h25M340 227.5h5M160 232.5h20M330 232.5h5M170 237.5h20M320 237.5h5M185 242.5h25M300 242.5h15M195 247.5h95M225 252.5h25M535 257.5h5M530 277.5h5M530 317.5h5M530 322.5h5M530 327.5h5M525 347.5h5M520 362.5h5M515 392.5h5M510 407.5h5M495 437.5h5M490 442.5h5M485 447.5h5"/><path stroke="#b8b8b8" d="M375 197.5h5M370 202.5h5M365 207.5h5M360 212.5h5M355 217.5h5M350 222.5h5M135 227.5h10M345 227.5h5M135 232.5h25M335 232.5h5M150 237.5h20M325 237.5h10M160 242.5h25M315 242.5h5M175 247.5h20M290 247.5h15M535 247.5h5M185 252.5h40M250 252.5h35M535 252.5h5M205 257.5h45M530 272.5h5M525 342.5h5M520 357.5h5M515 382.5h5M515 387.5h5M505 417.5h5M500 427.5h5"/><path stroke="#b9b9b9" d="M380 192.5h5M365 212.5h5M360 217.5h5M355 222.5h5M350 227.5h5M340 232.5h5M535 232.5h5M135 237.5h15M335 237.5h5M535 237.5h5M135 242.5h25M320 242.5h10M535 242.5h5M150 247.5h25M305 247.5h15M160 252.5h25M285 252.5h15M175 257.5h30M250 257.5h30M190 262.5h65M530 267.5h5M525 292.5h5M525 297.5h5M525 337.5h5M520 352.5h5M515 372.5h5M515 377.5h5M510 402.5h5M495 432.5h5"/><path stroke="#bababa" d="M385 192.5h5M380 197.5h5M375 202.5h5M370 207.5h5M345 232.5h5M340 237.5h5M130 242.5h5M330 242.5h5M130 247.5h20M320 247.5h5M135 252.5h25M300 252.5h15M150 257.5h25M280 257.5h15M530 257.5h5M165 262.5h25M255 262.5h20M530 262.5h5M175 267.5h80M190 272.5h45M525 282.5h5M525 287.5h5M525 302.5h5M525 307.5h5M525 312.5h5M525 327.5h5M525 332.5h5M520 347.5h5M515 362.5h5M515 367.5h5M510 397.5h5M505 412.5h5M500 422.5h5M490 437.5h5M485 442.5h5"/><path stroke="#bbbbbb" d="M380 202.5h5M375 207.5h5M370 212.5h5M365 217.5h5M360 222.5h5M355 227.5h5M350 232.5h5M345 237.5h5M335 242.5h5M325 247.5h10M125 252.5h10M315 252.5h10M530 252.5h5M120 257.5h30M295 257.5h15M140 262.5h25M275 262.5h15M150 267.5h25M255 267.5h20M165 272.5h25M235 272.5h25M175 277.5h70M525 277.5h5M190 282.5h40M525 317.5h5M525 322.5h5M520 342.5h5M515 357.5h5M510 392.5h5"/><path stroke="#bdbdbd" d="M390 192.5h5M385 197.5h5M370 217.5h5M365 222.5h5M360 227.5h5M355 232.5h5M530 232.5h5M350 237.5h5M530 237.5h5M340 242.5h5M530 242.5h5M335 247.5h5M530 247.5h5M325 252.5h5M310 257.5h10M115 262.5h25M290 262.5h15M115 267.5h35M275 267.5h15M140 272.5h25M260 272.5h15M525 272.5h5M150 277.5h25M245 277.5h15M160 282.5h30M230 282.5h20M170 287.5h70M185 292.5h45M515 352.5h5M510 382.5h5M510 387.5h5M505 407.5h5M495 427.5h5M490 432.5h5M480 442.5h5"/><path stroke="#bebebe" d="M390 197.5h5M385 202.5h5M380 207.5h5M375 212.5h5M345 242.5h5M340 247.5h5M330 252.5h5M320 257.5h10M305 262.5h10M290 267.5h15M525 267.5h5M115 272.5h25M275 272.5h15M115 277.5h35M260 277.5h15M140 282.5h20M250 282.5h15M150 287.5h20M240 287.5h15M160 292.5h25M230 292.5h15M520 292.5h5M165 297.5h75M520 297.5h5M175 302.5h55M520 302.5h5M185 307.5h35M520 332.5h5M520 337.5h5M515 347.5h5M510 367.5h5M510 372.5h5M510 377.5h5M500 417.5h5M485 437.5h5"/><path stroke="#bfbfbf" d="M380 212.5h5M375 217.5h5M370 222.5h5M365 227.5h5M360 232.5h5M355 237.5h5M350 242.5h5M345 247.5h5M335 252.5h10M330 257.5h5M525 257.5h5M315 262.5h10M525 262.5h5M305 267.5h10M290 272.5h15M275 277.5h15M115 282.5h25M265 282.5h15M110 287.5h40M255 287.5h15M520 287.5h5M135 292.5h25M245 292.5h15M145 297.5h20M240 297.5h15M155 302.5h20M230 302.5h20M160 307.5h25M220 307.5h20M520 307.5h5M165 312.5h70M520 312.5h5M170 317.5h60M520 317.5h5M175 322.5h45M520 322.5h5M185 327.5h25M520 327.5h5M510 357.5h5M510 362.5h5M115 402.5h5M505 402.5h5M115 407.5h10M115 412.5h15M115 417.5h15M115 422.5h20M495 422.5h5M120 427.5h15M120 432.5h20M135 437.5h5M470 447.5h5"/><path stroke="#c1c1c1" d="M395 197.5h5M390 202.5h5M385 207.5h5M370 227.5h5M525 227.5h5M365 232.5h5M525 232.5h5M360 237.5h5M525 237.5h5M355 242.5h5M525 242.5h5M350 247.5h5M525 247.5h5M345 252.5h5M525 252.5h5M335 257.5h5M325 262.5h10M315 267.5h10M305 272.5h10M290 277.5h15M520 277.5h5M280 282.5h10M520 282.5h5M270 287.5h10M110 292.5h25M260 292.5h15M105 297.5h40M255 297.5h10M105 302.5h10M120 302.5h35M250 302.5h10M135 307.5h25M240 307.5h15M145 312.5h20M235 312.5h15M150 317.5h20M230 317.5h15M155 322.5h20M220 322.5h20M155 327.5h30M210 327.5h25M160 332.5h70M160 337.5h65M160 342.5h60M515 342.5h5M165 347.5h50M165 352.5h45M510 352.5h5M165 357.5h40M165 362.5h35M170 367.5h15M115 377.5h10M120 382.5h35M115 387.5h45M115 392.5h45M115 397.5h40M505 397.5h5M120 402.5h35M125 407.5h30M130 412.5h25M500 412.5h5M130 417.5h25M135 422.5h20M135 427.5h20M490 427.5h5M140 432.5h15M485 432.5h5M140 437.5h20M480 437.5h5M145 442.5h15M475 442.5h5M150 447.5h10M155 452.5h10M160 457.5h10"/><path stroke="#c2c2c2" d="M390 207.5h5M385 212.5h5M380 217.5h5M375 222.5h5M365 237.5h5M360 242.5h5M355 247.5h5M350 252.5h5M340 257.5h5M335 262.5h5M325 267.5h10M315 272.5h10M520 272.5h5M305 277.5h10M290 282.5h15M280 287.5h15M275 292.5h10M265 297.5h15M115 302.5h5M260 302.5h10M105 307.5h30M255 307.5h10M105 312.5h40M250 312.5h10M105 317.5h45M245 317.5h10M105 322.5h50M240 322.5h15M105 327.5h5M125 327.5h30M235 327.5h15M105 332.5h5M130 332.5h30M230 332.5h15M105 337.5h5M130 337.5h30M225 337.5h15M515 337.5h5M105 342.5h5M130 342.5h30M220 342.5h20M105 347.5h60M215 347.5h20M510 347.5h5M105 352.5h60M210 352.5h25M105 357.5h60M205 357.5h25M105 362.5h60M200 362.5h30M105 367.5h65M185 367.5h40M115 372.5h105M125 377.5h95M155 382.5h60M160 387.5h50M505 387.5h5M160 392.5h45M505 392.5h5M155 397.5h45M155 402.5h40M155 407.5h35M155 412.5h30M155 417.5h25M155 422.5h25M155 427.5h20M155 432.5h20M160 437.5h15M160 442.5h20M160 447.5h20M465 447.5h5M165 452.5h20M170 457.5h20M185 462.5h40"/><path stroke="#c3c3c3" d="M400 197.5h5M395 202.5h5M380 222.5h5M375 227.5h5M370 232.5h5M345 257.5h5M340 262.5h5M335 267.5h5M520 267.5h5M325 272.5h5M315 277.5h10M305 282.5h10M295 287.5h10M285 292.5h10M280 297.5h10M515 297.5h5M270 302.5h15M515 302.5h5M265 307.5h15M515 307.5h5M260 312.5h15M515 312.5h5M255 317.5h15M255 322.5h10M110 327.5h15M250 327.5h10M515 327.5h5M110 332.5h20M245 332.5h10M515 332.5h5M110 337.5h20M240 337.5h15M110 342.5h20M240 342.5h10M235 347.5h15M235 352.5h10M230 357.5h15M505 357.5h5M230 362.5h15M505 362.5h5M225 367.5h15M505 367.5h5M220 372.5h20M505 372.5h5M220 377.5h20M505 377.5h5M215 382.5h20M505 382.5h5M210 387.5h25M205 392.5h30M200 397.5h35M195 402.5h40M190 407.5h40M500 407.5h5M185 412.5h45M180 417.5h50M495 417.5h5M180 422.5h55M175 427.5h60M175 432.5h65M175 437.5h70M180 442.5h60M470 442.5h5M180 447.5h60M185 452.5h50M190 457.5h35"/><path stroke="#c4c4c4" d="M400 202.5h5M395 207.5h5M390 212.5h5M385 217.5h5M520 227.5h5M375 232.5h5M370 237.5h5M365 242.5h5M360 247.5h5M355 252.5h5M350 257.5h5M345 262.5h5M520 262.5h5M340 267.5h5M330 272.5h10M325 277.5h5M315 282.5h10M305 287.5h10M515 287.5h5M295 292.5h15M515 292.5h5M290 297.5h10M285 302.5h10M280 307.5h10M275 312.5h10M270 317.5h10M515 317.5h5M265 322.5h10M515 322.5h5M260 327.5h10M255 332.5h10M255 337.5h10M250 342.5h10M510 342.5h5M250 347.5h10M245 352.5h10M505 352.5h5M245 357.5h10M245 362.5h10M240 367.5h10M240 372.5h10M240 377.5h10M235 382.5h15M235 387.5h15M235 392.5h15M235 397.5h15M235 402.5h15M500 402.5h5M230 407.5h20M230 412.5h20M230 417.5h25M235 422.5h20M490 422.5h5M235 427.5h20M485 427.5h5M240 432.5h20M480 432.5h5M475 437.5h5M460 447.5h5"/><path stroke="#c6c6c6" d="M385 222.5h5M380 227.5h5M520 232.5h5M520 237.5h5M370 242.5h5M520 242.5h5M365 247.5h5M520 247.5h5M360 252.5h5M520 252.5h5M355 257.5h5M520 257.5h5M350 262.5h5M345 267.5h5M340 272.5h5M330 277.5h10M325 282.5h5M515 282.5h5M315 287.5h10M310 292.5h10M300 297.5h10M295 302.5h10M290 307.5h10M285 312.5h10M280 317.5h10M275 322.5h10M270 327.5h10M265 332.5h10M265 337.5h10M510 337.5h5M260 342.5h10M260 347.5h10M505 347.5h5M255 352.5h10M255 357.5h10M255 362.5h5M250 367.5h10M250 372.5h10M250 377.5h10M250 382.5h10M250 387.5h10M250 392.5h10M250 397.5h10M500 397.5h5M250 402.5h10M250 407.5h10M250 412.5h10M495 412.5h5M255 417.5h10M255 422.5h10M255 427.5h15M260 432.5h10M270 437.5h5M465 442.5h5"/><path stroke="#c7c7c7" d="M405 202.5h5M400 207.5h5M395 212.5h5M390 217.5h5M515 222.5h5M380 232.5h5M375 237.5h5M365 252.5h5M360 257.5h5M355 262.5h5M350 267.5h5M345 272.5h5M340 277.5h5M515 277.5h5M330 282.5h10M325 287.5h5M320 292.5h5M310 297.5h10M305 302.5h10M300 307.5h5M510 307.5h5M295 312.5h5M290 317.5h5M285 322.5h5M280 327.5h10M510 327.5h5M275 332.5h10M510 332.5h5M275 337.5h5M270 342.5h10M505 342.5h5M270 347.5h5M265 352.5h10M265 357.5h5M500 357.5h5M260 362.5h10M500 362.5h5M260 367.5h10M500 367.5h5M260 372.5h5M500 372.5h5M260 377.5h5M500 377.5h5M260 382.5h5M500 382.5h5M260 387.5h5M500 387.5h5M260 392.5h5M500 392.5h5M260 397.5h5M260 402.5h10M260 407.5h10M260 412.5h10M265 417.5h5M490 417.5h5M265 422.5h10M270 427.5h5M270 432.5h10M475 432.5h5M275 437.5h10M470 437.5h5M455 447.5h5"/><path stroke="#c8c8c8" d="M390 222.5h5M385 227.5h5M515 227.5h5M375 242.5h5M370 247.5h5M365 257.5h5M360 262.5h5M355 267.5h5M350 272.5h5M515 272.5h5M345 277.5h5M340 282.5h5M330 287.5h10M325 292.5h5M320 297.5h5M510 297.5h5M315 302.5h5M510 302.5h5M305 307.5h10M300 312.5h10M510 312.5h5M295 317.5h10M510 317.5h5M290 322.5h10M510 322.5h5M290 327.5h5M285 332.5h5M280 337.5h10M505 337.5h5M280 342.5h5M275 347.5h5M500 347.5h5M275 352.5h5M500 352.5h5M270 357.5h10M270 362.5h5M270 367.5h5M265 372.5h10M265 377.5h10M265 382.5h10M265 387.5h10M265 392.5h10M265 397.5h10M270 402.5h5M270 407.5h5M495 407.5h5M270 412.5h5M270 417.5h10M275 422.5h5M485 422.5h5M275 427.5h10M480 427.5h5M280 432.5h5M285 437.5h5M460 442.5h5"/><path stroke="#c9c9c9" d="M410 202.5h5M405 207.5h5M400 212.5h5M395 217.5h5M385 232.5h5M515 232.5h5M380 237.5h5M375 247.5h5M370 252.5h5M365 262.5h5M360 267.5h5M515 267.5h5M355 272.5h5M350 277.5h5M345 282.5h5M340 287.5h5M510 287.5h5M330 292.5h10M510 292.5h5M325 297.5h5M320 302.5h5M315 307.5h5M310 312.5h5M305 317.5h5M300 322.5h5M295 327.5h5M290 332.5h10M505 332.5h5M290 337.5h5M285 342.5h5M500 342.5h5M280 347.5h10M280 352.5h5M280 357.5h5M275 362.5h5M275 367.5h5M275 372.5h5M275 377.5h5M275 382.5h5M275 387.5h5M275 392.5h5M275 397.5h5M275 402.5h5M495 402.5h5M275 407.5h5M275 412.5h5M280 417.5h5M280 422.5h5M285 427.5h5M285 432.5h5M290 437.5h5M465 437.5h5M450 447.5h5"/><path stroke="#cbcbcb" d="M395 222.5h5M390 227.5h5M385 237.5h5M515 237.5h5M380 242.5h5M515 242.5h5M515 247.5h5M375 252.5h5M515 252.5h5M370 257.5h5M515 257.5h5M515 262.5h5M365 267.5h5M360 272.5h5M355 277.5h5M350 282.5h5M345 287.5h5M340 292.5h5M330 297.5h10M325 302.5h5M320 307.5h5M505 307.5h5M315 312.5h5M505 312.5h5M310 317.5h5M505 317.5h5M305 322.5h5M505 322.5h5M300 327.5h10M505 327.5h5M300 332.5h5M295 337.5h5M500 337.5h5M290 342.5h5M290 347.5h5M285 352.5h5M495 352.5h5M285 357.5h5M495 357.5h5M280 362.5h5M495 362.5h5M280 367.5h5M495 367.5h5M280 372.5h5M495 372.5h5M280 377.5h5M280 382.5h5M280 387.5h5M280 392.5h5M280 397.5h5M495 397.5h5M280 402.5h5M280 407.5h5M280 412.5h5M490 412.5h5M285 417.5h5M485 417.5h5M285 422.5h5M290 427.5h5M475 427.5h5M290 432.5h5M470 432.5h5M295 437.5h5M455 442.5h5"/><path stroke="#cccccc" d="M410 207.5h5M405 212.5h5M400 217.5h5M510 222.5h5M390 232.5h5M380 247.5h5M375 257.5h5M370 262.5h5M365 272.5h5M360 277.5h5M355 282.5h5M510 282.5h5M350 287.5h5M345 292.5h5M340 297.5h5M505 297.5h5M330 302.5h10M505 302.5h5M325 307.5h5M320 312.5h5M315 317.5h5M310 322.5h5M310 327.5h5M500 327.5h5M305 332.5h5M500 332.5h5M300 337.5h5M295 342.5h5M495 342.5h5M295 347.5h5M495 347.5h5M290 352.5h5M290 357.5h5M285 362.5h5M285 367.5h5M285 372.5h5M285 377.5h5M495 377.5h5M285 382.5h5M495 382.5h5M285 387.5h5M495 387.5h5M285 392.5h5M495 392.5h5M285 397.5h5M285 402.5h5M285 407.5h5M490 407.5h5M285 412.5h5M290 417.5h5M290 422.5h5M480 422.5h5M295 427.5h5M295 432.5h5M460 437.5h5"/><path stroke="#cdcdcd" d="M400 222.5h5M395 227.5h5M510 227.5h5M390 237.5h5M385 242.5h5M380 252.5h5M375 262.5h5M370 267.5h5M365 277.5h5M510 277.5h5M360 282.5h5M355 287.5h5M350 292.5h5M505 292.5h5M345 297.5h5M340 302.5h5M330 307.5h5M325 312.5h5M500 312.5h5M320 317.5h5M500 317.5h5M315 322.5h5M500 322.5h5M310 332.5h5M305 337.5h5M495 337.5h5M300 342.5h5M300 347.5h5M295 352.5h5M490 352.5h5M295 357.5h5M490 357.5h5M290 362.5h5M490 362.5h5M290 367.5h5M290 372.5h5M290 397.5h5M290 402.5h5M290 407.5h5M290 412.5h5M295 417.5h5M295 422.5h5M300 427.5h5M470 427.5h5M300 432.5h5M465 432.5h5M450 442.5h5"/><path stroke="#cfcfcf" d="M415 207.5h5M410 212.5h5M405 217.5h5M395 232.5h5M510 232.5h5M385 247.5h5M380 257.5h5M375 267.5h5M370 272.5h5M510 272.5h5M370 277.5h5M365 282.5h5M360 287.5h5M355 292.5h5M350 297.5h5M345 302.5h5M335 307.5h5M500 307.5h5M330 312.5h5M325 317.5h5M320 322.5h5M315 327.5h5M495 327.5h5M495 332.5h5M310 337.5h5M305 342.5h5M490 342.5h5M490 347.5h5M300 352.5h5M295 362.5h5M295 367.5h5M490 367.5h5M490 372.5h5M290 377.5h5M290 382.5h5M290 387.5h5M290 392.5h5M490 402.5h5M295 407.5h5M295 412.5h5M485 412.5h5M480 417.5h5M300 422.5h5M475 422.5h5M305 427.5h5M305 432.5h5M460 432.5h5M455 437.5h5"/><path stroke="#d0d0d0" d="M405 222.5h5M505 222.5h5M400 227.5h5M510 237.5h5M390 242.5h5M510 242.5h5M385 252.5h5M380 262.5h5M510 262.5h5M510 267.5h5M375 272.5h5M370 282.5h5M365 287.5h5M505 287.5h5M360 292.5h5M355 297.5h5M500 302.5h5M340 307.5h5M335 312.5h5M330 317.5h5M495 317.5h5M325 322.5h5M495 322.5h5M320 327.5h5M315 332.5h5M490 332.5h5M490 337.5h5M310 342.5h5M305 347.5h5M305 352.5h5M300 357.5h5M485 357.5h5M300 362.5h5M295 372.5h5M295 377.5h5M490 377.5h5M295 382.5h5M490 382.5h5M295 387.5h5M490 387.5h5M295 392.5h5M490 392.5h5M295 397.5h5M490 397.5h5M295 402.5h5M300 412.5h5M300 417.5h5M305 422.5h5M465 427.5h5M445 442.5h5"/><path stroke="#d1d1d1" d="M415 212.5h5M410 217.5h5M500 217.5h5M505 227.5h5M400 232.5h5M395 237.5h5M390 247.5h5M510 247.5h5M510 252.5h5M385 257.5h5M510 257.5h5M380 267.5h5M380 272.5h5M375 277.5h5M505 282.5h5M370 287.5h5M365 292.5h5M360 297.5h5M500 297.5h5M350 302.5h5M345 307.5h5M495 307.5h5M340 312.5h5M495 312.5h5M335 317.5h5M330 322.5h5M490 322.5h5M325 327.5h5M490 327.5h5M320 332.5h5M315 337.5h5M485 342.5h5M310 347.5h5M485 347.5h5M485 352.5h5M305 357.5h5M485 362.5h5M300 367.5h5M485 367.5h5M300 372.5h5M300 377.5h5M300 382.5h5M300 387.5h5M300 392.5h5M300 397.5h5M300 402.5h5M300 407.5h5M485 407.5h5M480 412.5h5M305 417.5h5M475 417.5h5M470 422.5h5M310 427.5h5M455 432.5h5M450 437.5h5"/><path stroke="#d2d2d2" d="M420 212.5h5M500 222.5h5M405 227.5h5M505 232.5h5M395 242.5h5M390 252.5h5M385 262.5h5M385 267.5h5M380 277.5h5M375 282.5h5M375 287.5h5M370 292.5h5M500 292.5h5M365 297.5h5M355 302.5h5M350 307.5h5M345 312.5h5M340 317.5h5M490 317.5h5M335 322.5h5M330 327.5h5M325 332.5h5M485 332.5h5M320 337.5h5M485 337.5h5M315 342.5h5M310 352.5h5M480 357.5h5M305 362.5h5M305 367.5h5M485 372.5h5M485 377.5h5M305 402.5h5M485 402.5h5M305 407.5h5M305 412.5h5M310 417.5h5M310 422.5h5M460 427.5h5M440 442.5h5"/><path stroke="#d4d4d4" d="M415 217.5h5M495 217.5h5M410 222.5h5M400 237.5h5M395 247.5h5M390 257.5h5M390 262.5h5M385 272.5h5M505 277.5h5M380 282.5h5M375 292.5h5M370 297.5h5M360 302.5h5M495 302.5h5M355 307.5h5M350 312.5h5M490 312.5h5M485 322.5h5M485 327.5h5M325 337.5h5M320 342.5h5M480 342.5h5M315 347.5h5M480 347.5h5M315 352.5h5M480 352.5h5M310 357.5h5M310 362.5h5M480 362.5h5M480 367.5h5M305 372.5h5M305 377.5h5M305 382.5h5M485 382.5h5M305 387.5h5M485 387.5h5M305 392.5h5M485 392.5h5M305 397.5h5M485 397.5h5M480 407.5h5M310 412.5h5M475 412.5h5M470 417.5h5M315 422.5h5M465 422.5h5M450 432.5h5M445 437.5h5M435 442.5h5"/><path stroke="#d5d5d5" d="M425 212.5h5M410 227.5h5M500 227.5h5M405 232.5h5M505 237.5h5M400 242.5h5M505 242.5h5M395 252.5h5M390 267.5h5M505 272.5h5M385 277.5h5M385 282.5h5M380 287.5h5M500 287.5h5M380 292.5h5M375 297.5h5M495 297.5h5M365 302.5h5M360 307.5h5M490 307.5h5M355 312.5h5M345 317.5h5M485 317.5h5M340 322.5h5M335 327.5h5M480 327.5h5M330 332.5h5M480 332.5h5M480 337.5h5M320 347.5h5M475 352.5h5M315 357.5h5M475 357.5h5M475 362.5h5M310 367.5h5M310 372.5h5M480 372.5h5M480 377.5h5M310 397.5h5M310 402.5h5M480 402.5h5M310 407.5h5M315 417.5h5M460 422.5h5M455 427.5h5"/><path stroke="#d6d6d6" d="M420 217.5h5M415 222.5h5M495 222.5h5M405 237.5h5M400 247.5h5M505 247.5h5M395 257.5h5M395 262.5h5M505 262.5h5M505 267.5h5M390 272.5h5M390 277.5h5M385 287.5h5M385 292.5h5M380 297.5h5M370 302.5h10M490 302.5h5M365 307.5h5M360 312.5h5M485 312.5h5M350 317.5h5M345 322.5h5M480 322.5h5M340 327.5h5M335 332.5h5M330 337.5h5M325 342.5h5M475 342.5h5M475 347.5h5M320 352.5h5M315 362.5h5M475 367.5h5M475 372.5h5M310 377.5h5M310 382.5h5M480 382.5h5M310 387.5h5M480 387.5h5M310 392.5h5M480 392.5h5M480 397.5h5M315 407.5h5M475 407.5h5M315 412.5h5M470 412.5h5M320 417.5h5M465 417.5h5M440 437.5h5"/><path stroke="#d7d7d7" d="M430 212.5h5M425 217.5h5M490 217.5h5M410 232.5h5M500 232.5h5M400 252.5h5M505 252.5h5M505 257.5h5M395 267.5h5M395 272.5h5M390 282.5h5M500 282.5h5M390 287.5h5M495 292.5h5M385 297.5h5M380 302.5h5M370 307.5h5M485 307.5h5M365 312.5h5M355 317.5h5M480 317.5h5M350 322.5h5M475 327.5h5M475 332.5h5M475 337.5h5M330 342.5h5M325 347.5h5M470 352.5h5M320 357.5h5M470 357.5h5M470 362.5h5M315 367.5h5M470 367.5h5M315 372.5h5M475 377.5h5M315 397.5h5M315 402.5h5M475 402.5h5M470 407.5h5M320 412.5h5M465 412.5h5M460 417.5h5M455 422.5h5M450 427.5h5M445 432.5h5"/><path stroke="#d9d9d9" d="M420 222.5h5M415 227.5h5M495 227.5h5M500 237.5h5M405 242.5h5M400 257.5h5M395 277.5h5M500 277.5h5M395 282.5h5M395 287.5h5M390 292.5h5M390 297.5h5M490 297.5h5M385 302.5h5M375 307.5h10M370 312.5h5M480 312.5h5M360 317.5h5M475 317.5h5M475 322.5h5M345 327.5h5M340 332.5h5M335 337.5h5M470 337.5h5M470 342.5h5M470 347.5h5M325 352.5h5M465 357.5h5M320 362.5h5M465 362.5h5M470 372.5h5M315 377.5h5M470 377.5h5M315 382.5h5M475 382.5h5M315 387.5h5M475 387.5h5M315 392.5h5M475 392.5h5M475 397.5h5M320 407.5h5M435 437.5h5"/><path stroke="#dadada" d="M430 217.5h5M485 217.5h5M490 222.5h5M415 232.5h5M410 237.5h5M405 247.5h5M400 262.5h5M400 267.5h5M400 272.5h5M495 287.5h5M395 292.5h5M395 297.5h5M390 302.5h5M485 302.5h5M385 307.5h5M480 307.5h5M375 312.5h5M365 317.5h5M355 322.5h5M470 322.5h5M350 327.5h5M470 327.5h5M345 332.5h5M470 332.5h5M340 337.5h5M335 342.5h5M465 342.5h5M330 347.5h5M465 347.5h5M465 352.5h5M325 357.5h5M320 367.5h5M465 367.5h5M320 372.5h5M465 372.5h5M470 382.5h5M470 387.5h5M470 392.5h5M320 397.5h5M470 397.5h5M320 402.5h5M470 402.5h5M465 407.5h5M325 412.5h5M460 412.5h5M455 417.5h5M450 422.5h5M445 427.5h5M440 432.5h5M430 437.5h5"/><path stroke="#dbdbdb" d="M425 222.5h5M420 227.5h5M495 232.5h5M410 242.5h5M500 242.5h5M405 252.5h5M405 257.5h5M500 272.5h5M400 277.5h5M400 282.5h5M400 287.5h5M400 292.5h5M490 292.5h5M400 297.5h5M395 302.5h10M390 307.5h10M380 312.5h10M475 312.5h5M370 317.5h5M470 317.5h5M360 322.5h5M465 327.5h5M465 332.5h5M465 337.5h5M460 342.5h5M460 347.5h5M330 352.5h5M460 352.5h5M460 357.5h5M325 362.5h5M460 362.5h5M460 367.5h5M460 372.5h5M320 377.5h5M465 377.5h5M320 382.5h5M465 382.5h5M320 387.5h5M465 387.5h5M320 392.5h5M465 397.5h5M465 402.5h5M325 407.5h5M460 407.5h5"/><path stroke="#dddddd" d="M480 217.5h5M485 222.5h5M490 227.5h5M415 237.5h5M410 247.5h5M500 247.5h5M500 252.5h5M405 262.5h5M500 262.5h5M405 267.5h5M500 267.5h5M405 272.5h5M405 277.5h5M405 282.5h5M495 282.5h5M405 287.5h5M405 292.5h5M405 297.5h5M485 297.5h5M405 302.5h5M480 302.5h5M400 307.5h5M475 307.5h5M390 312.5h10M470 312.5h5M375 317.5h10M465 317.5h5M365 322.5h5M465 322.5h5M355 327.5h5M460 327.5h5M350 332.5h5M460 332.5h5M345 337.5h5M460 337.5h5M340 342.5h5M455 342.5h5M335 347.5h5M455 347.5h5M455 352.5h5M330 357.5h5M455 357.5h5M455 362.5h5M325 367.5h5M455 367.5h5M325 372.5h5M460 377.5h5M460 382.5h5M465 392.5h5M325 397.5h5M325 402.5h5M460 402.5h5M455 412.5h5M450 417.5h5M435 432.5h5M425 437.5h5"/><path stroke="#dedede" d="M475 217.5h5M430 222.5h5M425 227.5h5M420 232.5h5M495 237.5h5M410 252.5h5M500 257.5h5M410 297.5h5M410 302.5h5M405 307.5h10M400 312.5h15M465 312.5h5M385 317.5h15M460 317.5h5M370 322.5h5M455 322.5h10M360 327.5h5M455 327.5h5M450 332.5h10M450 337.5h10M450 342.5h5M450 347.5h5M335 352.5h5M450 352.5h5M450 357.5h5M330 362.5h5M450 362.5h5M450 367.5h5M455 372.5h5M325 377.5h5M455 377.5h5M325 382.5h5M325 387.5h5M460 387.5h5M325 392.5h5M460 392.5h5M460 397.5h5M330 407.5h5M455 407.5h5M445 422.5h5M440 427.5h5"/><path stroke="#dfdfdf" d="M470 217.5h5M435 222.5h5M480 222.5h5M490 232.5h5M415 242.5h5M410 257.5h5M410 262.5h5M495 277.5h5M410 282.5h5M410 287.5h5M490 287.5h5M410 292.5h5M415 297.5h5M415 302.5h5M475 302.5h5M415 307.5h10M470 307.5h5M415 312.5h10M460 312.5h5M400 317.5h35M450 317.5h10M375 322.5h10M415 322.5h40M365 327.5h5M430 327.5h25M355 332.5h5M435 332.5h15M350 337.5h5M435 337.5h15M345 342.5h5M440 342.5h10M340 347.5h5M440 347.5h10M445 352.5h5M335 357.5h5M445 357.5h5M445 362.5h5M330 367.5h5M450 372.5h5M455 382.5h5M455 387.5h5M455 392.5h5M455 397.5h5M330 402.5h5M455 402.5h5M450 412.5h5M430 432.5h5"/><path stroke="#e0e0e0" d="M465 217.5h5M430 227.5h5M485 227.5h5M425 232.5h5M420 237.5h5M495 242.5h5M415 247.5h5M410 267.5h5M410 272.5h5M410 277.5h5M415 292.5h5M485 292.5h5M480 297.5h5M420 302.5h5M425 307.5h5M465 307.5h5M425 312.5h35M435 317.5h15M385 322.5h30M370 327.5h5M415 327.5h15M360 332.5h5M425 332.5h10M430 337.5h5M435 342.5h5M435 347.5h5M340 352.5h5M440 352.5h5M440 357.5h5M445 367.5h5M330 372.5h5M445 372.5h5M330 377.5h5M450 377.5h5M330 382.5h5M450 382.5h5M330 387.5h5M330 392.5h5M330 397.5h5M450 407.5h5M445 417.5h5M440 422.5h5M435 427.5h5M425 432.5h5"/><path stroke="#e2e2e2" d="M440 222.5h5M475 222.5h5M490 237.5h5M420 242.5h5M495 247.5h5M415 252.5h5M495 272.5h5M415 282.5h5M490 282.5h5M415 287.5h5M420 292.5h5M420 297.5h5M425 302.5h5M470 302.5h5M430 307.5h10M460 307.5h5M375 327.5h15M400 327.5h15M365 332.5h5M415 332.5h10M355 337.5h5M420 337.5h10M350 342.5h5M425 342.5h10M345 347.5h5M430 347.5h5M435 352.5h5M435 357.5h5M335 362.5h5M440 362.5h5M440 367.5h5M445 377.5h5M450 387.5h5M450 392.5h5M450 397.5h5M335 402.5h5M450 402.5h5M420 432.5h5"/><path stroke="#e3e3e3" d="M445 222.5h5M470 222.5h5M435 227.5h5M480 227.5h5M430 232.5h5M485 232.5h5M425 237.5h5M495 252.5h5M415 257.5h5M495 257.5h5M415 262.5h5M495 262.5h5M415 267.5h5M495 267.5h5M415 272.5h5M415 277.5h5M420 287.5h5M425 297.5h5M475 297.5h5M430 302.5h10M465 302.5h5M440 307.5h20M390 327.5h10M370 332.5h5M405 332.5h10M360 337.5h5M415 337.5h5M425 347.5h5M430 352.5h5M340 357.5h5M435 362.5h5M335 367.5h5M335 372.5h5M440 372.5h5M445 382.5h5M335 392.5h5M335 397.5h5M445 412.5h5M430 427.5h5"/><path stroke="#e4e4e4" d="M450 222.5h20M490 242.5h5M420 247.5h5M420 282.5h5M485 287.5h5M425 292.5h5M480 292.5h5M430 297.5h5M440 302.5h5M460 302.5h5M375 332.5h10M395 332.5h10M365 337.5h5M410 337.5h5M355 342.5h5M420 342.5h5M350 347.5h5M345 352.5h5M425 352.5h5M430 357.5h5M340 362.5h5M435 367.5h5M335 377.5h5M440 377.5h5M335 382.5h5M335 387.5h5M445 387.5h5M445 392.5h5M445 402.5h5M445 407.5h5M440 417.5h5M435 422.5h5M425 427.5h5"/><path stroke="#e6e6e6" d="M440 227.5h5M475 227.5h5M435 232.5h5M425 242.5h5M420 252.5h5M420 277.5h5M490 277.5h5M425 287.5h5M430 292.5h5M435 297.5h5M470 297.5h5M445 302.5h15M385 332.5h10M370 337.5h5M405 337.5h5M360 342.5h5M415 342.5h5M420 347.5h5M345 357.5h5M430 362.5h5M340 367.5h5M435 372.5h5M440 382.5h5M340 397.5h5M445 397.5h5M440 412.5h5M430 422.5h5M420 427.5h5"/><path stroke="#e7e7e7" d="M445 227.5h5M470 227.5h5M480 232.5h5M430 237.5h5M485 237.5h5M425 247.5h5M490 247.5h5M420 257.5h5M420 262.5h5M420 267.5h5M420 272.5h5M490 272.5h5M425 282.5h5M485 282.5h5M475 292.5h5M440 297.5h5M465 297.5h5M375 337.5h5M400 337.5h5M410 342.5h5M355 347.5h5M415 347.5h5M350 352.5h5M420 352.5h5M425 357.5h5M345 362.5h5M430 367.5h5M340 372.5h5M340 377.5h5M435 377.5h5M340 382.5h5M340 387.5h5M440 387.5h5M340 392.5h5M435 417.5h5M415 427.5h5"/><path stroke="#e8e8e8" d="M450 227.5h10M465 227.5h5M440 232.5h5M490 252.5h5M490 267.5h5M425 277.5h5M430 287.5h5M480 287.5h5M435 292.5h5M445 297.5h20M380 337.5h20M365 342.5h5M405 342.5h5M350 357.5h5M420 357.5h5M425 362.5h5M430 372.5h5M435 382.5h5M440 392.5h5M440 397.5h5M440 402.5h5M440 407.5h5M425 422.5h5"/><path stroke="#e9e9e9" d="M460 227.5h5M475 232.5h5M435 237.5h5M480 237.5h5M430 242.5h5M485 242.5h5M425 252.5h5M425 257.5h5M490 257.5h5M490 262.5h5M425 272.5h5M440 292.5h5M470 292.5h5M370 342.5h5M400 342.5h5M360 347.5h5M410 347.5h5M355 352.5h5M415 352.5h5M345 367.5h5M425 367.5h5M345 372.5h5M430 377.5h5M435 387.5h5M345 392.5h5M345 397.5h5M435 412.5h5M430 417.5h5M415 422.5h10"/><path stroke="#ebebeb" d="M445 232.5h5M470 232.5h5M430 247.5h5M425 262.5h5M425 267.5h5M485 277.5h5M430 282.5h5M435 287.5h5M445 292.5h5M375 342.5h10M390 342.5h10M365 347.5h5M405 347.5h5M415 357.5h5M350 362.5h5M420 362.5h5M425 372.5h5M345 377.5h5M345 382.5h5M430 382.5h5M345 387.5h5M435 392.5h5M435 407.5h5M425 417.5h5M410 422.5h5"/><path stroke="#ececec" d="M450 232.5h5M465 232.5h5M440 237.5h5M435 242.5h5M485 247.5h5M430 252.5h5M430 277.5h5M480 282.5h5M475 287.5h5M450 292.5h5M460 292.5h10M385 342.5h5M370 347.5h5M400 347.5h5M360 352.5h5M410 352.5h5M355 357.5h5M350 367.5h5M420 367.5h5M425 377.5h5M350 397.5h5M435 397.5h5M435 402.5h5M430 412.5h5M420 417.5h5"/><path stroke="#ededed" d="M455 232.5h10M475 237.5h5M480 242.5h5M485 252.5h5M430 257.5h5M430 272.5h5M485 272.5h5M435 282.5h5M440 287.5h5M455 292.5h5M375 347.5h5M395 347.5h5M365 352.5h5M405 352.5h5M410 357.5h5M355 362.5h5M415 362.5h5M350 372.5h5M420 372.5h5M425 382.5h5M350 387.5h5M430 387.5h5M350 392.5h5M430 392.5h5M430 407.5h5M425 412.5h5M400 417.5h20"/><path stroke="#eeeeee" d="M445 237.5h5M470 237.5h5M440 242.5h5M435 247.5h5M485 257.5h5M430 262.5h5M485 262.5h5M430 267.5h5M485 267.5h5M435 277.5h5M480 277.5h5M445 287.5h5M470 287.5h5M380 347.5h15M360 357.5h5M415 367.5h5M350 377.5h5M420 377.5h5M350 382.5h5M425 387.5h5M355 397.5h5M430 397.5h5M430 402.5h5M420 412.5h5"/><path stroke="#f0f0f0" d="M450 237.5h5M465 237.5h5M475 242.5h5M480 247.5h5M435 252.5h5M440 282.5h5M475 282.5h5M450 287.5h5M465 287.5h5M370 352.5h5M400 352.5h5M405 357.5h5M410 362.5h5M355 367.5h5M415 372.5h5M420 382.5h5M355 392.5h5M425 392.5h5M425 397.5h5M425 402.5h5M420 407.5h10M400 412.5h20"/><path stroke="#f1f1f1" d="M455 237.5h10M445 242.5h5M440 247.5h5M435 257.5h5M435 267.5h5M435 272.5h5M480 272.5h5M455 287.5h10M375 352.5h5M395 352.5h5M365 357.5h5M360 362.5h5M355 372.5h5M355 377.5h5M415 377.5h5M355 382.5h5M355 387.5h5M420 387.5h5M420 392.5h5M360 397.5h5M420 397.5h5M420 402.5h5M405 407.5h15"/><path stroke="#f2f2f2" d="M450 242.5h5M470 242.5h5M480 252.5h5M435 262.5h5M440 277.5h5M445 282.5h5M470 282.5h5M380 352.5h15M370 357.5h5M400 357.5h5M405 362.5h5M360 367.5h5M410 367.5h5M415 382.5h5M415 387.5h5M360 392.5h5M415 392.5h5M415 397.5h5M410 402.5h10M395 407.5h10"/><path stroke="#f4f4f4" d="M455 242.5h5M465 242.5h5M445 247.5h5M475 247.5h5M440 252.5h5M480 257.5h5M480 262.5h5M480 267.5h5M440 272.5h5M475 277.5h5M450 282.5h5M465 282.5h5M375 357.5h5M395 357.5h5M365 362.5h5M360 372.5h5M410 372.5h5M410 377.5h5M360 387.5h5M410 392.5h5M365 397.5h5M410 397.5h5M405 402.5h5"/><path stroke="#f5f5f5" d="M460 242.5h5M470 247.5h5M475 252.5h5M440 257.5h5M440 262.5h5M440 267.5h5M445 277.5h5M455 282.5h10M380 357.5h15M370 362.5h5M400 362.5h5M365 367.5h5M405 367.5h5M360 377.5h5M360 382.5h5M410 382.5h5M410 387.5h5M365 392.5h5M405 397.5h5M395 402.5h10"/><path stroke="#f6f6f6" d="M450 247.5h5M445 252.5h5M445 272.5h5M475 272.5h5M450 277.5h5M470 277.5h5M395 362.5h5M365 372.5h5M405 372.5h5M365 387.5h5M405 387.5h5M405 392.5h5M370 397.5h5M400 397.5h5M380 402.5h15"/><path stroke="#f7f7f7" d="M455 247.5h15M470 252.5h5M445 257.5h5M475 257.5h5M475 262.5h5M445 267.5h5M475 267.5h5M455 277.5h5M465 277.5h5M375 362.5h10M390 362.5h5M370 367.5h5M400 367.5h5M365 377.5h5M405 377.5h5M365 382.5h5M405 382.5h5M370 392.5h5M400 392.5h5M375 397.5h5M395 397.5h5"/><path stroke="#f9f9f9" d="M450 252.5h5M445 262.5h5M450 272.5h5M470 272.5h5M460 277.5h5M385 362.5h5M375 367.5h5M395 367.5h5M370 372.5h5M400 372.5h5M370 387.5h5M400 387.5h5M380 397.5h15"/><path stroke="#fafafa" d="M455 252.5h15M450 257.5h5M470 257.5h5M450 262.5h5M470 262.5h5M450 267.5h5M470 267.5h5M455 272.5h5M465 272.5h5M380 367.5h5M390 367.5h5M370 377.5h5M400 377.5h5M370 382.5h5M400 382.5h5M375 392.5h10M390 392.5h10"/><path stroke="#fbfbfb" d="M455 257.5h15M455 267.5h5M465 267.5h5M460 272.5h5M385 367.5h5M375 372.5h10M395 372.5h5M375 377.5h5M395 377.5h5M375 382.5h5M395 382.5h5M375 387.5h5M395 387.5h5M385 392.5h5"/><path stroke="#fcfcfc" d="M455 262.5h15M460 267.5h5M385 372.5h10M380 377.5h5M390 377.5h5M380 382.5h5M390 382.5h5M380 387.5h15"/><path stroke="#fefefe" d="M385 377.5h5M385 382.5h5"/></g>
<linearGradient id="cb" x1="0" y1="0" x2="0" y2="1"><stop offset="0.0003" stop-color="#ff0000"/><stop offset="0.0664" stop-color="#ff3a00"/><stop offset="0.1271" stop-color="#ff6e00"/><stop offset="0.1822" stop-color="#ff8c00"/><stop offset="0.2374" stop-color="#ffb400"/><stop offset="0.2925" stop-color="#ffd800"/><stop offset="0.3422" stop-color="#fff200"/><stop offset="0.3808" stop-color="#f0f820"/><stop offset="0.4580" stop-color="#b8fa60"/><stop offset="0.5131" stop-color="#80fa90"/><stop offset="0.5545" stop-color="#6cf8a0"/><stop offset="0.5726" stop-color="#00f5b4"/><stop offset="0.6234" stop-color="#00f5dc"/><stop offset="0.6675" stop-color="#00f2ff"/><stop offset="0.7447" stop-color="#00c0ff"/><stop offset="0.8065" stop-color="#0096ff"/><stop offset="0.8770" stop-color="#0064ff"/><stop offset="0.9322" stop-color="#2038ff"/><stop offset="1.0000" stop-color="#0000ff"/></linearGradient>
</defs>
<rect width="2199" height="2072" fill="#fff"/>
<g fill="#000"><text transform="translate(1681.20 145.50) scale(1.018 1.04)" font-size="60" font-weight="bold" text-anchor="start" >Tmax(°C/yr)</text></g>
<rect x="898" y="57" width="788" height="669" fill="#fff"/>
<path d="M17 29H2176V2041H17Z M20 32V2038H2173V32Z" fill="#000" fill-rule="evenodd"/>
<path d="M61 63H870V738H61Z M64 68V735H867V68Z" fill="#000" fill-rule="evenodd"/>
<path d="M898 57.5H1686V725.5H898Z M901 62.5V722.5H1683V62.5Z" fill="#000" fill-rule="evenodd"/><rect x="898" y="725.5" width="788" height="2.5" fill="#999"/>
<path d="M61 747.3H870V1360H61Z M64 750.3V1357H867V750.3Z" fill="#000" fill-rule="evenodd"/><rect x="64" y="1360" width="806" height="2.7" fill="#888"/>
<path d="M895 741H1692V1366.3H895Z M898 744V1363.3H1689V744Z" fill="#000" fill-rule="evenodd"/>
<path d="M67 1370H870V2017H67Z M70 1373V2014H867V1373Z" fill="#000" fill-rule="evenodd"/><rect x="67" y="2011" width="800" height="3" fill="#999"/>
<path d="M889 1376H1692V2019.8H889Z M892 1379V2016.8H1689V1379Z" fill="#000" fill-rule="evenodd"/><rect x="892" y="1379" width="2.8" height="638" fill="#ccc"/>
<g transform="matrix(1.0 0 0 1.0 0.00 0.00)">
<g clip-path="url(#mapclip)"><g filter="url(#ramp)"><use href="#fld0"/></g></g>
<use href="#mapline"/>
</g><g transform="matrix(0.963 0 0 0.955 844.55 2.68)">
<g clip-path="url(#mapclip)"><g filter="url(#ramp)"><use href="#fld1"/></g></g>
<use href="#mapline"/>
</g><g transform="matrix(0.9136 0 0 0.9066 30.63 689.33)">
<g clip-path="url(#mapclip)"><g filter="url(#ramp)"><use href="#fld0"/></g></g>
<use href="#mapline"/>
</g><g transform="matrix(0.9552 0 0 0.9424 821.15 673.91)">
<g clip-path="url(#mapclip)"><g filter="url(#ramp)"><use href="#fld2"/></g></g>
<use href="#mapline"/>
</g><g transform="matrix(0.9826 0 0 0.9748 -12.00 1299.16)">
<g clip-path="url(#mapclip)"><g filter="url(#ramp)"><use href="#fld0"/></g></g>
<use href="#mapline"/>
</g><g transform="matrix(0.9625 0 0 0.9555 832.01 1311.14)">
<g clip-path="url(#mapclip)"><g filter="url(#ramp)"><use href="#fld2"/></g></g>
<use href="#mapline"/>
</g>
<rect x="1711" y="209.5" width="69" height="1813.5" fill="url(#cb)"/><rect x="1780" y="516.5" width="6" height="2.5" fill="#333"/><rect x="1780" y="813.8" width="6" height="2.5" fill="#000"/>
<g fill="#000">
<text transform="translate(98.00 135.30) scale(1.022 1.0)" font-size="72" font-weight="bold" text-anchor="start" >a)</text><text transform="translate(920.30 158.60) scale(1.02 1.0)" font-size="72" font-weight="bold" text-anchor="start" >b)</text><text transform="translate(92.00 859.20) scale(1.03 1.0)" font-size="72" font-weight="bold" text-anchor="start" >c)</text><text transform="translate(914.00 835.50) scale(1.022 1.0)" font-size="72" font-weight="bold" text-anchor="start" >d)</text><text transform="translate(82.50 1463.00) scale(1.022 1.0)" font-size="72" font-weight="bold" text-anchor="start" >e)</text><text transform="translate(922.50 1494.30) scale(1.06 1.0)" font-size="72" font-weight="bold" text-anchor="start" >f)</text><text transform="translate(269.35 561.70) scale(1.01 1.045)" font-size="60" font-weight="bold" text-anchor="middle" >RCP 4.5</text><text transform="translate(261.10 630.00) scale(1.012 1.032)" font-size="60" font-weight="bold" text-anchor="middle" >(2026–2049)</text><text transform="translate(1134.65 521.00) scale(1.01 1.045)" font-size="60" font-weight="bold" text-anchor="middle" >RCP 8.5</text><text transform="translate(1141.65 590.00) scale(1.012 1.032)" font-size="60" font-weight="bold" text-anchor="middle" >(2026–2049)</text><text transform="translate(280.55 1212.00) scale(1.01 1.045)" font-size="60" font-weight="bold" text-anchor="middle" >RCP 4.5</text><text transform="translate(281.05 1281.40) scale(1.012 1.032)" font-size="60" font-weight="bold" text-anchor="middle" >(2050–2072)</text><text transform="translate(1103.60 1218.20) scale(1.01 1.045)" font-size="60" font-weight="bold" text-anchor="middle" >RCP 8.5</text><text transform="translate(1110.55 1288.20) scale(1.012 1.032)" font-size="60" font-weight="bold" text-anchor="middle" >(2050–2072)</text><text transform="translate(279.85 1841.40) scale(1.01 1.045)" font-size="60" font-weight="bold" text-anchor="middle" >RCP 4.5</text><text transform="translate(288.50 1912.40) scale(1.012 1.032)" font-size="60" font-weight="bold" text-anchor="middle" >(2073–2100)</text><text transform="translate(1144.65 1844.90) scale(1.01 1.045)" font-size="60" font-weight="bold" text-anchor="middle" >RCP 8.5</text><text transform="translate(1153.50 1915.60) scale(1.012 1.032)" font-size="60" font-weight="bold" text-anchor="middle" >(2073–2100)</text><text transform="translate(1792.00 245.60) scale(1.0 1.015)" font-size="61" font-weight="bold" text-anchor="start" >30 -31</text><text transform="translate(1786.30 540.10) scale(1.0 1.015)" font-size="61" font-weight="bold" text-anchor="start" >29 -30</text><text transform="translate(1786.40 833.70) scale(1.0 1.015)" font-size="61" font-weight="bold" text-anchor="start" >28 -29</text><text transform="translate(1798.70 1131.50) scale(1.0 1.015)" font-size="61" font-weight="bold" text-anchor="start" >27 -28</text><text transform="translate(1792.70 1449.20) scale(1.0 1.015)" font-size="61" font-weight="bold" text-anchor="start" >26 -27</text><text transform="translate(1792.70 1747.50) scale(1.0 1.015)" font-size="61" font-weight="bold" text-anchor="start" >25 -26</text><text transform="translate(1786.40 2010.20) scale(1.0 1.015)" font-size="61" font-weight="bold" text-anchor="start" >20 -25</text>
<text transform="translate(780.85 130.60) scale(1.081 0.994)" font-size="45" font-weight="normal" text-anchor="middle" stroke="#000" stroke-width="0.5" textLength="33" lengthAdjust="spacingAndGlyphs">N</text><path d="M780.8 140.7L748.1 247.0L779.9 210.7Z" fill="#000"/><path d="M781.0999999999999 144.7L811.0 242.8L780.5 210.1Z" fill="#fff" stroke="#000" stroke-width="2.3" stroke-linejoin="round"/><text transform="translate(1632.90 127.40) scale(1.169 1.081)" font-size="45" font-weight="normal" text-anchor="middle" stroke="#000" stroke-width="0.5" textLength="33" lengthAdjust="spacingAndGlyphs">N</text><path d="M1631.3 139.8L1598.1 249.2L1632.2 211.1Z" fill="#000"/><path d="M1631.6 143.8L1664.2 248.8L1632.8 210.5Z" fill="#fff" stroke="#000" stroke-width="2.3" stroke-linejoin="round"/><text transform="translate(726.75 802.90) scale(0.942 0.994)" font-size="45" font-weight="normal" text-anchor="middle" stroke="#000" stroke-width="0.5" textLength="33" lengthAdjust="spacingAndGlyphs">N</text><path d="M727.6 811.6L698.1 908.8L726.7 874.3Z" fill="#000"/><path d="M727.9 815.6L755.5 905.5999999999999L727.3000000000001 873.6999999999999Z" fill="#fff" stroke="#000" stroke-width="2.3" stroke-linejoin="round"/><text transform="translate(1634.25 802.40) scale(1.065 1.081)" font-size="45" font-weight="normal" text-anchor="middle" stroke="#000" stroke-width="0.5" textLength="33" lengthAdjust="spacingAndGlyphs">N</text><path d="M1634.5 812.1L1601.3 924.2L1634.9 886.1Z" fill="#000"/><path d="M1634.8 816.1L1667.3000000000002 922.9L1635.5 885.5Z" fill="#fff" stroke="#000" stroke-width="2.3" stroke-linejoin="round"/><text transform="translate(746.75 1453.40) scale(1.081 1.100)" font-size="45" font-weight="normal" text-anchor="middle" stroke="#000" stroke-width="0.5" textLength="33" lengthAdjust="spacingAndGlyphs">N</text><path d="M746.7 1462.5L714.1 1574.7L747.2 1535.7Z" fill="#000"/><path d="M747.0 1466.5L777.3 1572.0L747.8000000000001 1535.1000000000001Z" fill="#fff" stroke="#000" stroke-width="2.3" stroke-linejoin="round"/><text transform="translate(1623.55 1465.60) scale(0.942 0.981)" font-size="45" font-weight="normal" text-anchor="middle" stroke="#000" stroke-width="0.5" textLength="33" lengthAdjust="spacingAndGlyphs">N</text><path d="M1621.7 1475.3L1589.5 1578.4L1621.7 1543.0Z" fill="#000"/><path d="M1622.0 1479.3L1652.3000000000002 1575.2L1622.3 1542.4Z" fill="#fff" stroke="#000" stroke-width="2.3" stroke-linejoin="round"/>
</g>
</svg>
</body>
</html>
